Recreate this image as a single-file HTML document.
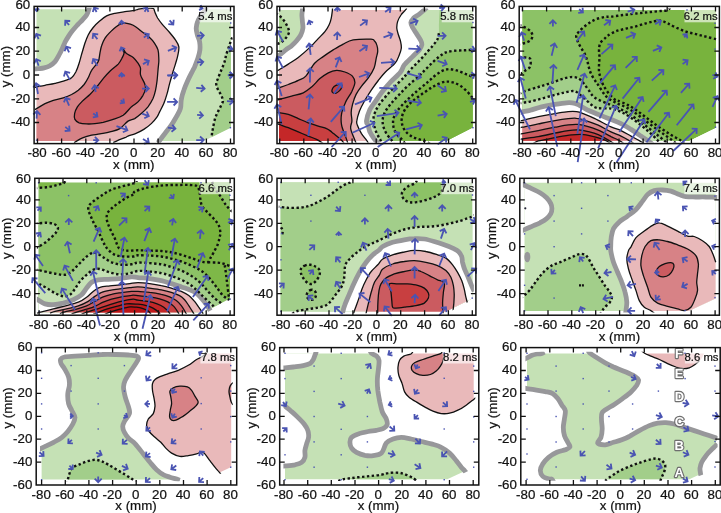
<!DOCTYPE html>
<html><head><meta charset="utf-8"><title>Contour maps</title>
<style>html,body{margin:0;padding:0;background:#fff}svg{display:block}text{font-family:"Liberation Sans", sans-serif;fill:#111;stroke:#111;stroke-width:0.22px}</style>
</head><body>
<svg width="721" height="513" viewBox="0 0 721 513" style="will-change:transform">
<rect width="721" height="513" fill="#fff"/>
<clipPath id="c0"><path d="M36.5 9.3L231.0 9.3L231.0 127.6L203.9 141.1L36.5 141.1Z"/></clipPath>
<g clip-path="url(#c0)">
<path d="M89.6 6.7C89.4 7.3 89.1 8.9 88.6 10.3C88.1 11.7 87.6 13.4 86.6 15.0C85.6 16.6 83.9 18.3 82.4 20.0C80.9 21.6 79.1 23.2 77.4 25.0C75.8 26.8 74.0 28.9 72.4 30.8C70.9 32.7 69.5 34.7 68.3 36.6C67.0 38.6 65.9 40.5 64.9 42.4C64.0 44.4 63.4 46.2 62.4 48.3C61.5 50.3 60.4 52.7 59.1 54.9C57.9 57.1 56.5 59.8 55.0 61.6C53.4 63.4 51.8 64.7 50.0 65.7C48.2 66.8 46.1 67.4 44.1 67.9C42.2 68.4 40.0 68.5 38.3 68.7C36.6 68.9 34.8 69.0 34.1 69.1L0.0 69.0L0.0 -20.0L90.0 -20.0Z" fill="#c5e1b5"/>
<path d="M206.2 6.7C206.0 7.3 205.9 8.9 205.1 10.3C204.2 11.7 202.5 13.1 201.2 15.0C200.0 16.9 198.4 19.4 197.6 21.6C196.7 23.9 196.3 26.1 196.2 28.3C196.2 30.5 196.9 32.7 197.4 35.0C198.0 37.2 199.2 39.1 199.6 41.6C200.0 44.1 200.2 47.2 199.9 49.9C199.6 52.7 198.8 55.4 197.9 58.3C197.0 61.1 195.4 65.0 194.6 67.0C193.7 69.0 194.0 68.1 192.9 70.3C191.8 72.5 189.4 77.0 187.9 80.3C186.4 83.6 184.9 87.1 183.8 90.3C182.6 93.5 181.8 96.4 181.3 99.5C180.7 102.5 181.3 105.7 180.4 108.6C179.6 111.5 177.8 114.2 176.3 116.9C174.7 119.7 173.1 122.6 171.3 125.2C169.5 127.9 167.3 130.4 165.5 132.7C163.6 135.1 161.7 137.7 160.5 139.4C159.2 141.1 158.4 142.2 158.0 142.7L155.0 170.0L300.0 170.0L300.0 -20.0L205.0 -20.0Z" fill="#c5e1b5"/>
<path d="M232.5 37.5C232.3 37.9 231.7 38.7 231.2 39.9C230.7 41.2 230.4 42.4 229.5 44.9C228.7 47.4 227.0 52.1 226.2 54.9C225.4 57.8 225.4 59.4 224.5 62.0C223.7 64.6 222.3 67.5 221.2 70.3C220.1 73.1 218.7 76.4 217.9 78.6C217.0 80.9 216.2 81.8 216.2 83.6C216.2 85.4 217.0 87.5 217.9 89.5C218.7 91.4 220.4 93.3 221.2 95.3C222.0 97.2 223.0 99.2 222.9 101.1C222.7 103.1 221.3 104.9 220.4 106.9C219.4 109.0 218.0 111.4 217.0 113.6C216.1 115.8 215.2 117.8 214.6 120.3C213.9 122.8 213.3 126.5 212.9 128.6C212.5 130.7 212.2 131.4 212.1 132.7C211.9 134.1 211.8 136.2 211.7 136.9L211.0 170.0L300.0 170.0L300.0 37.0Z" fill="#a2ce8a"/>
<path d="M33.3 87.5C33.9 87.4 34.7 87.3 36.6 87.0C38.6 86.6 41.9 85.9 45.0 85.3C48.0 84.7 51.6 84.1 55.0 83.3C58.3 82.5 62.2 81.6 64.9 80.6C67.7 79.7 69.8 79.3 71.6 77.8C73.4 76.4 74.5 74.4 75.8 72.0C77.0 69.6 78.1 66.4 79.1 63.2C80.1 60.1 80.9 56.6 81.9 53.3C82.9 49.9 83.9 46.3 84.9 43.3C86.0 40.2 86.9 37.6 88.2 35.0C89.6 32.3 91.3 29.8 93.2 27.5C95.2 25.1 97.7 22.7 99.9 20.8C102.1 18.9 104.1 17.1 106.6 15.8C109.0 14.6 111.8 14.0 114.9 13.3C117.9 12.6 121.5 12.2 124.9 11.7C128.2 11.2 132.7 10.7 134.8 10.3C137.0 9.9 136.4 9.7 138.0 9.3C139.6 9.0 142.1 8.5 144.6 8.3C147.1 8.2 151.4 8.0 153.0 8.3C154.6 8.7 153.9 9.4 154.3 10.3C154.7 11.2 154.9 12.4 155.5 13.6C156.0 14.9 156.5 16.2 157.6 18.0C158.7 19.7 160.1 21.7 162.1 24.1C164.1 26.5 167.4 29.8 169.6 32.5C171.8 35.1 173.9 37.6 175.4 39.9C177.0 42.3 178.3 44.1 178.8 46.6C179.2 49.1 178.5 52.0 177.9 54.9C177.4 57.8 176.3 61.2 175.4 64.1C174.6 66.9 173.9 68.7 172.9 72.0C172.0 75.2 170.6 80.0 169.6 83.6C168.6 87.2 168.1 90.3 167.1 93.6C166.1 97.0 165.0 100.6 163.8 103.6C162.5 106.7 160.7 109.7 159.6 111.9C158.5 114.2 158.5 115.0 157.1 116.9C155.7 118.9 153.5 121.5 151.3 123.6C149.1 125.7 146.4 127.7 143.8 129.4C141.2 131.1 138.1 132.5 135.5 133.6C132.9 134.7 129.8 135.4 128.0 136.1C126.2 136.8 126.6 137.0 124.9 137.7C123.1 138.5 119.3 139.7 117.4 140.6C115.4 141.4 113.9 142.4 113.2 142.7L110.0 170.0L0.0 170.0L0.0 87.0Z" fill="#e9b9ba"/>
<path d="M33.3 110.6C33.9 110.3 34.7 109.8 36.6 108.6C38.6 107.4 42.2 105.0 45.0 103.6C47.7 102.2 50.2 101.3 53.3 100.3C56.3 99.3 60.2 98.8 63.3 97.8C66.3 96.8 69.1 95.7 71.6 94.5C74.1 93.2 76.2 92.0 78.3 90.3C80.3 88.6 82.4 86.6 84.1 84.5C85.7 82.4 87.0 80.2 88.2 77.8C89.5 75.5 89.9 73.0 91.6 70.3C93.2 67.6 96.8 64.4 98.2 61.6C99.6 58.7 99.3 55.9 99.9 53.3C100.4 50.6 100.7 48.3 101.6 45.8C102.4 43.3 103.4 40.6 104.9 38.3C106.4 35.9 108.8 33.6 110.7 31.6C112.7 29.7 114.7 28.0 116.5 26.6C118.3 25.2 119.9 23.9 121.5 23.3C123.2 22.7 124.6 23.0 126.5 23.3C128.5 23.6 130.4 23.8 133.2 25.3C135.9 26.8 140.2 30.4 143.0 32.5C145.7 34.5 147.7 35.6 149.6 37.5C151.6 39.3 153.2 41.2 154.6 43.3C156.0 45.4 157.3 47.4 158.0 49.9C158.7 52.4 158.7 56.2 158.8 58.3C158.9 60.3 158.9 60.0 158.8 62.0C158.7 64.0 158.2 67.3 158.0 70.3C157.7 73.4 157.5 77.0 157.1 80.3C156.7 83.6 156.2 87.2 155.5 90.3C154.8 93.3 154.2 95.8 153.0 98.6C151.7 101.4 149.9 104.4 148.0 106.9C146.0 109.4 143.5 111.7 141.3 113.6C139.1 115.5 136.9 117.3 134.7 118.6C132.4 119.8 130.5 119.4 128.0 121.1C125.5 122.8 122.9 126.8 119.9 128.6C116.8 130.4 113.2 131.0 109.9 131.9C106.6 132.8 102.9 133.3 99.9 133.9C96.8 134.5 94.3 134.6 91.6 135.2C88.8 135.9 85.6 136.8 83.2 137.7C80.9 138.6 78.9 139.7 77.4 140.6C75.9 141.4 74.6 142.4 74.1 142.7L70.0 170.0L0.0 170.0L0.0 110.0Z" fill="#d78286"/>
<path d="M123.2 49.1C123.6 49.2 124.9 52.2 126.5 53.6C128.2 55.0 131.3 55.8 133.2 57.4C135.1 59.0 136.8 61.4 138.0 63.2C139.2 65.1 140.1 66.3 140.5 68.2C140.9 70.2 139.8 72.3 140.5 74.9C141.2 77.5 143.8 81.3 144.6 83.6C145.5 85.9 145.8 86.7 145.5 88.6C145.2 90.6 144.2 93.1 143.0 95.3C141.7 97.5 139.9 100.0 138.0 101.9C136.0 103.9 133.8 104.7 131.3 106.9C128.9 109.2 126.2 113.2 123.2 115.3C120.2 117.3 116.5 118.3 113.2 119.4C109.9 120.6 106.3 121.6 103.2 122.3C100.2 122.9 97.7 123.3 94.9 123.6C92.1 123.9 89.2 124.1 86.6 123.9C83.9 123.8 81.0 123.5 79.1 122.8C77.1 122.0 75.7 120.9 74.9 119.4C74.2 117.9 74.2 115.7 74.6 113.6C75.0 111.5 76.1 109.0 77.4 106.9C78.7 104.9 80.3 103.2 82.4 101.1C84.5 99.0 87.5 96.8 89.9 94.5C92.3 92.1 94.3 89.6 96.6 87.0C98.8 84.3 101.0 81.3 103.2 78.6C105.4 76.0 107.4 73.6 109.9 71.2C112.4 68.7 116.2 66.2 118.2 64.1C120.2 61.9 120.9 60.1 121.9 58.3C122.8 56.5 123.8 54.8 124.0 53.3C124.2 51.7 122.8 49.0 123.2 49.1Z" fill="#cb5b60"/>
</g>
<clipPath id="d0"><path d="M34.9 7.7L232.6 7.7L232.6 128.0L204.7 142.7L34.9 142.7Z"/></clipPath>
<g clip-path="url(#d0)" fill="none">
<path d="M89.6 6.7C89.4 7.3 89.1 8.9 88.6 10.3C88.1 11.7 87.6 13.4 86.6 15.0C85.6 16.6 83.9 18.3 82.4 20.0C80.9 21.6 79.1 23.2 77.4 25.0C75.8 26.8 74.0 28.9 72.4 30.8C70.9 32.7 69.5 34.7 68.3 36.6C67.0 38.6 65.9 40.5 64.9 42.4C64.0 44.4 63.4 46.2 62.4 48.3C61.5 50.3 60.4 52.7 59.1 54.9C57.9 57.1 56.5 59.8 55.0 61.6C53.4 63.4 51.8 64.7 50.0 65.7C48.2 66.8 46.1 67.4 44.1 67.9C42.2 68.4 40.0 68.5 38.3 68.7C36.6 68.9 34.8 69.0 34.1 69.1" stroke="#97979a" stroke-width="4.8" stroke-linejoin="round"/>
<path d="M206.2 6.7C206.0 7.3 205.9 8.9 205.1 10.3C204.2 11.7 202.5 13.1 201.2 15.0C200.0 16.9 198.4 19.4 197.6 21.6C196.7 23.9 196.3 26.1 196.2 28.3C196.2 30.5 196.9 32.7 197.4 35.0C198.0 37.2 199.2 39.1 199.6 41.6C200.0 44.1 200.2 47.2 199.9 49.9C199.6 52.7 198.8 55.4 197.9 58.3C197.0 61.1 195.4 65.0 194.6 67.0C193.7 69.0 194.0 68.1 192.9 70.3C191.8 72.5 189.4 77.0 187.9 80.3C186.4 83.6 184.9 87.1 183.8 90.3C182.6 93.5 181.8 96.4 181.3 99.5C180.7 102.5 181.3 105.7 180.4 108.6C179.6 111.5 177.8 114.2 176.3 116.9C174.7 119.7 173.1 122.6 171.3 125.2C169.5 127.9 167.3 130.4 165.5 132.7C163.6 135.1 161.7 137.7 160.5 139.4C159.2 141.1 158.4 142.2 158.0 142.7" stroke="#97979a" stroke-width="4.8" stroke-linejoin="round"/>
<path d="M232.5 37.5C232.3 37.9 231.7 38.7 231.2 39.9C230.7 41.2 230.4 42.4 229.5 44.9C228.7 47.4 227.0 52.1 226.2 54.9C225.4 57.8 225.4 59.4 224.5 62.0C223.7 64.6 222.3 67.5 221.2 70.3C220.1 73.1 218.7 76.4 217.9 78.6C217.0 80.9 216.2 81.8 216.2 83.6C216.2 85.4 217.0 87.5 217.9 89.5C218.7 91.4 220.4 93.3 221.2 95.3C222.0 97.2 223.0 99.2 222.9 101.1C222.7 103.1 221.3 104.9 220.4 106.9C219.4 109.0 218.0 111.4 217.0 113.6C216.1 115.8 215.2 117.8 214.6 120.3C213.9 122.8 213.3 126.5 212.9 128.6C212.5 130.7 212.2 131.4 212.1 132.7C211.9 134.1 211.8 136.2 211.7 136.9" stroke="#111" stroke-width="2.4" stroke-dasharray="2.4 2.45"/>
<path d="M33.3 87.5C33.9 87.4 34.7 87.3 36.6 87.0C38.6 86.6 41.9 85.9 45.0 85.3C48.0 84.7 51.6 84.1 55.0 83.3C58.3 82.5 62.2 81.6 64.9 80.6C67.7 79.7 69.8 79.3 71.6 77.8C73.4 76.4 74.5 74.4 75.8 72.0C77.0 69.6 78.1 66.4 79.1 63.2C80.1 60.1 80.9 56.6 81.9 53.3C82.9 49.9 83.9 46.3 84.9 43.3C86.0 40.2 86.9 37.6 88.2 35.0C89.6 32.3 91.3 29.8 93.2 27.5C95.2 25.1 97.7 22.7 99.9 20.8C102.1 18.9 104.1 17.1 106.6 15.8C109.0 14.6 111.8 14.0 114.9 13.3C117.9 12.6 121.5 12.2 124.9 11.7C128.2 11.2 132.7 10.7 134.8 10.3C137.0 9.9 136.4 9.7 138.0 9.3C139.6 9.0 142.1 8.5 144.6 8.3C147.1 8.2 151.4 8.0 153.0 8.3C154.6 8.7 153.9 9.4 154.3 10.3C154.7 11.2 154.9 12.4 155.5 13.6C156.0 14.9 156.5 16.2 157.6 18.0C158.7 19.7 160.1 21.7 162.1 24.1C164.1 26.5 167.4 29.8 169.6 32.5C171.8 35.1 173.9 37.6 175.4 39.9C177.0 42.3 178.3 44.1 178.8 46.6C179.2 49.1 178.5 52.0 177.9 54.9C177.4 57.8 176.3 61.2 175.4 64.1C174.6 66.9 173.9 68.7 172.9 72.0C172.0 75.2 170.6 80.0 169.6 83.6C168.6 87.2 168.1 90.3 167.1 93.6C166.1 97.0 165.0 100.6 163.8 103.6C162.5 106.7 160.7 109.7 159.6 111.9C158.5 114.2 158.5 115.0 157.1 116.9C155.7 118.9 153.5 121.5 151.3 123.6C149.1 125.7 146.4 127.7 143.8 129.4C141.2 131.1 138.1 132.5 135.5 133.6C132.9 134.7 129.8 135.4 128.0 136.1C126.2 136.8 126.6 137.0 124.9 137.7C123.1 138.5 119.3 139.7 117.4 140.6C115.4 141.4 113.9 142.4 113.2 142.7" stroke="#111" stroke-width="1.3"/>
<path d="M33.3 110.6C33.9 110.3 34.7 109.8 36.6 108.6C38.6 107.4 42.2 105.0 45.0 103.6C47.7 102.2 50.2 101.3 53.3 100.3C56.3 99.3 60.2 98.8 63.3 97.8C66.3 96.8 69.1 95.7 71.6 94.5C74.1 93.2 76.2 92.0 78.3 90.3C80.3 88.6 82.4 86.6 84.1 84.5C85.7 82.4 87.0 80.2 88.2 77.8C89.5 75.5 89.9 73.0 91.6 70.3C93.2 67.6 96.8 64.4 98.2 61.6C99.6 58.7 99.3 55.9 99.9 53.3C100.4 50.6 100.7 48.3 101.6 45.8C102.4 43.3 103.4 40.6 104.9 38.3C106.4 35.9 108.8 33.6 110.7 31.6C112.7 29.7 114.7 28.0 116.5 26.6C118.3 25.2 119.9 23.9 121.5 23.3C123.2 22.7 124.6 23.0 126.5 23.3C128.5 23.6 130.4 23.8 133.2 25.3C135.9 26.8 140.2 30.4 143.0 32.5C145.7 34.5 147.7 35.6 149.6 37.5C151.6 39.3 153.2 41.2 154.6 43.3C156.0 45.4 157.3 47.4 158.0 49.9C158.7 52.4 158.7 56.2 158.8 58.3C158.9 60.3 158.9 60.0 158.8 62.0C158.7 64.0 158.2 67.3 158.0 70.3C157.7 73.4 157.5 77.0 157.1 80.3C156.7 83.6 156.2 87.2 155.5 90.3C154.8 93.3 154.2 95.8 153.0 98.6C151.7 101.4 149.9 104.4 148.0 106.9C146.0 109.4 143.5 111.7 141.3 113.6C139.1 115.5 136.9 117.3 134.7 118.6C132.4 119.8 130.5 119.4 128.0 121.1C125.5 122.8 122.9 126.8 119.9 128.6C116.8 130.4 113.2 131.0 109.9 131.9C106.6 132.8 102.9 133.3 99.9 133.9C96.8 134.5 94.3 134.6 91.6 135.2C88.8 135.9 85.6 136.8 83.2 137.7C80.9 138.6 78.9 139.7 77.4 140.6C75.9 141.4 74.6 142.4 74.1 142.7" stroke="#111" stroke-width="1.3"/>
<path d="M123.2 49.1C123.6 49.2 124.9 52.2 126.5 53.6C128.2 55.0 131.3 55.8 133.2 57.4C135.1 59.0 136.8 61.4 138.0 63.2C139.2 65.1 140.1 66.3 140.5 68.2C140.9 70.2 139.8 72.3 140.5 74.9C141.2 77.5 143.8 81.3 144.6 83.6C145.5 85.9 145.8 86.7 145.5 88.6C145.2 90.6 144.2 93.1 143.0 95.3C141.7 97.5 139.9 100.0 138.0 101.9C136.0 103.9 133.8 104.7 131.3 106.9C128.9 109.2 126.2 113.2 123.2 115.3C120.2 117.3 116.5 118.3 113.2 119.4C109.9 120.6 106.3 121.6 103.2 122.3C100.2 122.9 97.7 123.3 94.9 123.6C92.1 123.9 89.2 124.1 86.6 123.9C83.9 123.8 81.0 123.5 79.1 122.8C77.1 122.0 75.7 120.9 74.9 119.4C74.2 117.9 74.2 115.7 74.6 113.6C75.0 111.5 76.1 109.0 77.4 106.9C78.7 104.9 80.3 103.2 82.4 101.1C84.5 99.0 87.5 96.8 89.9 94.5C92.3 92.1 94.3 89.6 96.6 87.0C98.8 84.3 101.0 81.3 103.2 78.6C105.4 76.0 107.4 73.6 109.9 71.2C112.4 68.7 116.2 66.2 118.2 64.1C120.2 61.9 120.9 60.1 121.9 58.3C122.8 56.5 123.8 54.8 124.0 53.3C124.2 51.7 122.8 49.0 123.2 49.1Z" stroke="#111" stroke-width="1.3"/>
</g>
<rect x="199.5" y="6.4" width="34.5" height="15.9" fill="#fff" fill-opacity="0.62"/>
<g stroke="#4a54b2" stroke-width="1.8" fill="none" stroke-linejoin="miter" stroke-miterlimit="6">
<path d="M36.6 8.3L36.6 11.0M39.1 8.5L36.6 11.0L34.2 8.5"/>
<path d="M69.1 25.0L65.3 20.8M65.1 25.7L65.3 20.8L70.2 21.0"/>
<path d="M38.6 39.1L36.3 33.8M34.5 38.4L36.3 33.8L41.0 35.6"/>
<path d="M38.6 65.7L36.3 59.1M34.1 63.6L36.3 59.1L40.8 61.3"/>
<path d="M69.1 52.4L66.3 46.6M64.6 51.3L66.3 46.6L71.0 48.2"/>
<path d="M69.9 79.9L65.3 71.6M63.9 76.4L65.3 71.6L70.1 72.9"/>
<path d="M96.6 12.0L94.1 7.5M92.8 12.0L94.1 7.5L98.6 8.8"/>
<path d="M97.4 39.1L93.2 33.8M92.6 38.8L93.2 33.8L98.2 34.4"/>
<path d="M97.4 65.7L93.2 59.1M92.1 64.0L93.2 59.1L98.1 60.2"/>
<path d="M121.9 25.0L121.5 20.8M118.8 24.1L121.5 20.8L124.8 23.6"/>
<path d="M122.9 51.3L121.2 47.4M119.6 51.4L121.2 47.4L125.2 49.0"/>
<path d="M121.9 77.4L121.5 73.6M118.9 76.7L121.5 73.6L124.7 76.2"/>
<path d="M144.6 11.7L147.1 7.5M142.7 8.6L147.1 7.5L148.3 11.9"/>
<path d="M169.6 20.3L173.3 24.6M173.7 19.7L173.3 24.6L168.3 24.2"/>
<path d="M143.8 37.5L148.8 34.1M143.9 33.1L148.8 34.1L147.8 39.0"/>
<path d="M167.9 50.8L176.3 47.4M171.7 45.5L176.3 47.4L174.3 52.0"/>
<path d="M143.0 64.1L148.8 60.8M144.0 59.4L148.8 60.8L147.5 65.6"/>
<path d="M167.9 75.7L177.1 75.2M173.4 71.9L177.1 75.2L173.8 79.0"/>
<path d="M197.1 35.8L203.7 35.3M199.9 32.0L203.7 35.3L200.5 39.1"/>
<path d="M197.1 62.4L203.2 61.9M199.4 58.7L203.2 61.9L200.0 65.7"/>
<path d="M199.6 7.5L202.4 8.3M200.6 5.1L202.4 8.3L199.1 10.1"/>
<path d="M227.9 48.3L232.5 49.1M229.9 45.4L232.5 49.1L228.8 51.7"/>
<path d="M227.9 75.2L232.9 75.2M229.6 71.9L232.9 75.2L229.6 78.5"/>
<rect x="230.0" y="22.3" width="1.4" height="1.4" fill="#4a54b2" stroke="none"/>
<path d="M38.0 94.0L36.1 83.3M33.3 87.4L36.1 83.3L40.2 86.2"/>
<path d="M36.6 118.6L37.0 111.1M33.3 114.5L37.0 111.1L40.4 114.8"/>
<rect x="35.9" y="139.5" width="1.4" height="1.4" fill="#4a54b2" stroke="none"/>
<path d="M69.1 105.6L65.8 97.8M63.9 102.4L65.8 97.8L70.4 99.7"/>
<path d="M65.3 126.9L69.6 130.6M69.2 125.6L69.6 130.6L64.7 131.0"/>
<path d="M95.7 92.0L94.6 85.3M91.7 89.4L94.6 85.3L98.7 88.2"/>
<path d="M93.2 113.6L97.4 116.6M96.6 111.9L97.4 116.6L92.8 117.4"/>
<path d="M93.2 140.2L98.2 140.2M94.9 136.9L98.2 140.2L94.9 143.5"/>
<path d="M121.9 77.0L121.5 73.3M118.9 76.4L121.5 73.3L124.6 75.9"/>
<path d="M120.7 100.3L124.0 102.8M123.4 98.5L124.0 102.8L119.8 103.4"/>
<path d="M116.5 126.1L127.4 130.2M125.3 125.7L127.4 130.2L122.8 132.3"/>
<path d="M167.1 75.3L177.1 75.3M173.6 71.8L177.1 75.3L173.6 78.9"/>
<path d="M142.1 88.6L148.8 88.6M145.3 85.1L148.8 88.6L145.3 92.2"/>
<path d="M167.1 101.9L177.1 101.9M173.6 98.4L177.1 101.9L173.6 105.5"/>
<path d="M142.1 113.6L148.8 116.1M146.7 111.5L148.8 116.1L144.3 118.2"/>
<path d="M167.9 127.7L175.4 128.6M172.3 124.7L175.4 128.6L171.5 131.7"/>
<path d="M143.0 138.9L148.8 142.7M147.8 137.8L148.8 142.7L143.9 143.7"/>
<path d="M196.2 87.8L204.6 88.6M201.4 84.8L204.6 88.6L200.7 91.8"/>
<path d="M197.1 114.9L202.9 115.3M199.6 111.5L202.9 115.3L199.2 118.6"/>
<path d="M196.2 140.2L203.7 139.9M200.0 136.5L203.7 139.9L200.4 143.6"/>
<path d="M227.9 75.3L233.2 75.3M229.8 71.9L233.2 75.3L229.8 78.7"/>
<path d="M227.0 101.1L233.2 101.6M230.0 97.8L233.2 101.6L229.4 104.9"/>
<rect x="229.7" y="127.0" width="1.4" height="1.4" fill="#4a54b2" stroke="none"/>
</g>
<rect x="34.1" y="6.4" width="199.9" height="137.2" fill="none" stroke="#111" stroke-width="1.5"/>
<path d="M37.5 143.6v-5M37.5 6.4v5M61.6 143.6v-5M61.6 6.4v5M85.8 143.6v-5M85.8 6.4v5M109.9 143.6v-5M109.9 6.4v5M134.0 143.6v-5M134.0 6.4v5M158.1 143.6v-5M158.1 6.4v5M182.2 143.6v-5M182.2 6.4v5M206.4 143.6v-5M206.4 6.4v5M230.5 143.6v-5M230.5 6.4v5M34.1 27.5h5M234.0 27.5h-5M34.1 51.2h5M234.0 51.2h-5M34.1 75.0h5M234.0 75.0h-5M34.1 98.8h5M234.0 98.8h-5M34.1 122.5h5M234.0 122.5h-5" stroke="#111" stroke-width="1.3" fill="none"/>
<text x="37.1" y="157.4" font-size="13.3" text-anchor="middle">-80</text>
<text x="61.2" y="157.4" font-size="13.3" text-anchor="middle">-60</text>
<text x="85.4" y="157.4" font-size="13.3" text-anchor="middle">-40</text>
<text x="109.5" y="157.4" font-size="13.3" text-anchor="middle">-20</text>
<text x="133.6" y="157.4" font-size="13.3" text-anchor="middle">0</text>
<text x="157.7" y="157.4" font-size="13.3" text-anchor="middle">20</text>
<text x="181.8" y="157.4" font-size="13.3" text-anchor="middle">40</text>
<text x="206.0" y="157.4" font-size="13.3" text-anchor="middle">60</text>
<text x="230.1" y="157.4" font-size="13.3" text-anchor="middle">80</text>
<text x="30.2" y="31.4" font-size="13.3" text-anchor="end">40</text>
<text x="30.2" y="55.1" font-size="13.3" text-anchor="end">20</text>
<text x="30.2" y="78.9" font-size="13.3" text-anchor="end">0</text>
<text x="30.2" y="102.7" font-size="13.3" text-anchor="end">-20</text>
<text x="30.2" y="126.4" font-size="13.3" text-anchor="end">-40</text>
<text x="30.2" y="9.3" font-size="13.3" text-anchor="end">60</text>
<text x="133.8" y="168.9" font-size="13.3" text-anchor="middle">x (mm)</text>
<text transform="translate(9.9 66.6) rotate(-90)" font-size="13.3" text-anchor="middle">y (mm)</text>
<text x="232.3" y="19.8" font-size="10.8" text-anchor="end" textLength="34.0" lengthAdjust="spacingAndGlyphs">5.4 ms</text>
<clipPath id="c1"><path d="M279.0 10.0L472.6 10.0L472.6 127.6L446.1 141.0L279.0 141.0Z"/></clipPath>
<g clip-path="url(#c1)">
<path d="M302.9 5.8C302.8 6.5 302.6 8.5 302.4 10.0C302.3 11.5 301.9 13.0 301.9 15.0C301.9 16.9 302.3 19.4 302.4 21.6C302.6 23.9 303.2 26.1 302.9 28.3C302.6 30.5 301.8 32.9 300.8 35.0C299.7 37.0 298.1 39.0 296.6 40.8C295.1 42.6 293.4 44.2 291.6 45.8C289.8 47.3 287.6 48.5 285.8 49.9C284.0 51.3 282.4 52.9 280.8 54.1C279.1 55.3 276.6 56.5 275.8 56.9L260.0 57.0L260.0 -20.0L303.0 -20.0Z" fill="#c5e1b5"/>
<path d="M426.8 7.5C426.3 8.0 425.2 9.2 423.9 10.3C422.7 11.4 421.0 12.8 419.3 14.1C417.5 15.5 414.8 16.9 413.4 18.3C412.1 19.7 411.1 20.9 410.9 22.5C410.8 24.0 411.6 25.5 412.6 27.5C413.6 29.4 415.4 31.9 416.8 34.1C418.2 36.3 420.1 39.0 420.9 40.8C421.8 42.6 422.0 43.4 421.8 44.9C421.5 46.5 420.8 48.0 419.3 49.9C417.7 51.9 415.1 54.1 412.6 56.6C410.1 59.1 406.3 62.3 404.3 64.9C402.3 67.5 402.7 69.4 400.4 72.2C398.2 75.0 393.7 78.7 390.7 81.9C387.7 85.1 385.0 88.4 382.4 91.6C379.9 94.8 377.6 98.3 375.5 101.3C373.4 104.3 371.4 106.4 369.9 109.6C368.4 112.9 366.8 118.3 366.5 120.9C366.2 123.5 367.6 123.4 368.2 125.2C368.8 127.1 368.9 129.7 369.9 131.9C370.8 134.1 372.6 136.6 374.0 138.6C375.4 140.5 377.5 142.7 378.2 143.6L380.0 170.0L540.0 170.0L540.0 -20.0L427.0 -20.0Z" fill="#c5e1b5"/>
<path d="M275.8 13.3C276.4 13.7 278.2 14.6 279.6 15.8C281.0 17.1 282.8 19.0 284.1 20.8C285.4 22.6 286.6 24.8 287.4 26.6C288.3 28.4 289.1 30.1 289.1 31.6C289.1 33.2 288.3 34.4 287.4 35.8C286.6 37.2 285.2 38.8 284.1 39.9C283.0 41.1 282.2 41.7 280.8 42.4C279.4 43.2 276.6 44.2 275.8 44.6L260.0 45.0L260.0 13.0Z" fill="#a2ce8a"/>
<path d="M439.9 6.7C439.9 7.3 439.7 8.7 439.6 10.3C439.5 12.0 439.4 14.2 439.2 16.6C439.1 19.1 439.0 22.2 438.9 25.0C438.9 27.7 439.1 30.9 438.9 33.3C438.7 35.6 438.5 37.2 437.6 39.1C436.7 41.1 435.1 42.9 433.4 44.9C431.8 47.0 429.7 49.2 427.6 51.6C425.5 54.0 423.3 56.6 420.9 59.1C418.6 61.6 415.9 63.9 413.4 66.6C410.9 69.2 407.6 73.0 406.0 74.9C404.3 76.8 405.4 75.8 403.5 77.8C401.5 79.8 397.2 83.9 394.3 87.0C391.4 90.0 388.5 93.2 386.0 96.1C383.5 99.0 381.1 101.8 379.3 104.4C377.5 107.1 376.1 109.6 375.2 111.9C374.2 114.3 373.6 116.2 373.5 118.6C373.4 120.9 373.8 123.6 374.3 126.1C374.9 128.6 375.9 131.4 376.8 133.6C377.8 135.8 379.3 137.7 380.2 139.4C381.0 141.1 381.5 142.9 381.8 143.6L382.0 170.0L540.0 170.0L540.0 -20.0L440.0 -20.0Z" fill="#a2ce8a"/>
<path d="M275.8 71.6C276.5 71.2 277.9 70.5 279.9 69.2C282.0 68.0 285.2 66.1 288.3 64.1C291.3 62.1 294.6 60.2 298.3 57.4C301.9 54.6 306.6 50.6 309.9 47.4C313.2 44.3 315.7 41.3 318.2 38.6C320.7 36.0 323.1 33.9 324.9 31.6C326.7 29.3 328.0 27.2 329.0 25.0C330.1 22.7 330.7 20.8 331.2 18.3C331.8 15.9 332.1 12.5 332.4 10.3C332.6 8.1 332.4 8.4 332.7 5.0C333.0 1.6 321.8 -7.5 334.0 -10.0C346.2 -12.5 393.9 -12.8 406.0 -10.0C418.1 -7.2 406.9 3.3 406.8 6.7C406.6 10.0 406.1 8.9 405.1 10.3C404.2 11.7 402.2 13.1 401.0 15.0C399.7 16.9 398.3 19.4 397.6 21.6C396.9 23.9 396.7 26.1 396.8 28.3C396.9 30.5 397.8 32.7 398.5 35.0C399.1 37.2 400.2 39.4 400.6 41.6C401.1 43.8 401.5 46.0 401.3 48.3C401.1 50.5 400.3 52.4 399.3 54.9C398.3 57.4 397.5 60.4 395.1 63.2C392.8 66.1 388.0 69.3 385.2 72.2C382.4 75.1 380.6 77.5 378.3 80.5C375.9 83.5 373.6 86.8 371.3 90.2C369.0 93.7 366.3 97.9 364.4 101.3C362.4 104.8 360.8 107.8 359.5 111.0C358.3 114.3 357.1 118.5 356.8 120.9C356.4 123.2 356.6 123.1 357.4 125.2C358.2 127.4 360.0 131.1 361.5 133.6C363.1 136.1 365.3 138.4 366.5 140.2C367.8 142.0 368.6 143.7 369.0 144.4L369.0 170.0L260.0 170.0L260.0 72.0Z" fill="#e9b9ba"/>
<path d="M475.9 49.9C475.3 49.9 474.5 49.9 472.5 49.9C470.6 50.0 467.3 50.1 464.2 50.3C461.2 50.4 457.3 50.4 454.2 50.8C451.2 51.1 448.4 51.5 445.9 52.4C443.4 53.4 441.5 54.9 439.2 56.6C437.0 58.3 434.8 60.3 432.6 62.4C430.4 64.5 428.1 66.9 425.9 69.1C423.7 71.3 422.2 73.0 419.3 75.7C416.4 78.4 411.8 82.2 408.5 85.3C405.1 88.4 402.2 91.4 399.3 94.5C396.4 97.5 393.3 100.7 391.0 103.6C388.6 106.5 386.5 109.3 385.1 111.9C383.8 114.6 382.9 116.9 382.7 119.4C382.4 121.9 382.8 124.4 383.5 126.9C384.2 129.4 385.6 132.3 386.8 134.4C388.1 136.5 389.9 137.9 391.0 139.4C392.1 140.9 393.1 142.9 393.5 143.6L394.0 170.0L540.0 170.0L540.0 50.0Z" fill="#8cc266"/>
<path d="M275.0 89.5C275.7 89.2 276.9 88.6 279.2 87.8C281.4 87.0 285.1 85.7 288.3 84.5C291.5 83.2 295.4 81.7 298.3 80.3C301.2 78.9 303.1 79.0 305.8 76.1C308.5 73.3 311.7 66.5 314.6 63.2C317.5 60.0 320.1 58.8 323.2 56.6C326.3 54.4 329.9 52.0 333.2 49.9C336.5 47.9 339.9 45.8 343.2 44.1C346.5 42.4 348.5 40.8 353.2 39.9C357.8 39.1 367.5 39.0 371.0 39.1C374.5 39.3 373.4 39.8 374.3 40.8C375.3 41.7 376.3 43.1 376.8 44.9C377.4 46.7 377.8 49.4 377.7 51.6C377.5 53.8 376.8 55.6 376.2 58.3C375.6 61.1 375.4 64.8 374.1 68.0C372.8 71.3 370.6 74.7 368.5 77.7C366.5 80.7 363.7 83.3 361.6 86.1C359.5 88.8 357.6 91.4 356.1 94.4C354.6 97.4 353.4 101.1 352.6 104.1C351.8 107.1 351.3 109.6 351.2 112.4C351.1 115.2 352.0 118.2 351.9 120.9C351.8 123.6 350.2 125.4 350.7 128.6C351.2 131.8 353.9 137.6 354.9 140.2C355.9 142.9 356.3 143.7 356.6 144.4L357.0 170.0L260.0 170.0L260.0 90.0Z" fill="#d78286"/>
<path d="M475.9 78.2C475.3 78.0 474.2 77.6 472.5 76.9C470.9 76.2 468.4 75.1 465.9 74.1C463.4 73.0 460.3 71.6 457.6 70.7C454.8 69.9 451.7 69.1 449.2 69.1C446.7 69.1 444.8 69.8 442.6 70.7C440.4 71.7 438.0 73.4 435.9 74.9C433.8 76.4 431.8 78.4 430.1 79.9C428.4 81.3 428.3 81.6 425.9 83.6C423.6 85.6 419.3 89.0 415.9 92.0C412.6 94.9 409.0 98.1 406.0 101.1C402.9 104.2 399.7 107.4 397.6 110.3C395.6 113.2 394.2 115.8 393.5 118.6C392.8 121.4 392.9 124.3 393.5 126.9C394.0 129.5 395.4 132.3 396.8 134.4C398.2 136.5 400.4 137.9 401.8 139.4C403.2 140.9 404.6 142.9 405.1 143.6L405.0 170.0L540.0 170.0L540.0 78.0Z" fill="#7eb848"/>
<path d="M275.0 100.6C275.7 100.4 276.4 100.2 279.2 99.5C281.9 98.7 287.6 97.2 291.6 96.1C295.7 95.0 300.0 94.3 303.3 92.8C306.6 91.3 308.8 89.3 311.6 87.0C314.4 84.6 317.2 81.0 319.9 78.6C322.7 76.3 325.5 74.2 328.3 72.8C331.0 71.4 333.8 70.5 336.6 70.3C339.4 70.2 342.3 71.0 344.9 72.0C347.5 73.0 350.7 74.3 352.4 76.1C354.1 78.0 355.0 80.2 354.9 82.8C354.7 85.4 353.1 88.8 351.6 92.0C350.0 95.2 347.4 98.3 345.7 101.9C344.1 105.6 342.3 109.7 341.6 113.6C340.9 117.5 340.9 121.4 341.6 125.2C342.3 129.1 344.6 133.7 345.7 136.9C346.8 140.1 347.8 143.1 348.2 144.4L348.0 170.0L260.0 170.0L260.0 100.0Z" fill="#cb5b60"/>
<path d="M475.9 101.1C475.3 100.6 473.9 99.3 472.5 97.8C471.1 96.3 469.5 93.9 467.5 92.0C465.6 90.0 463.1 87.7 460.9 86.1C458.7 84.6 456.4 83.6 454.2 82.8C452.0 82.1 449.8 81.6 447.6 81.6C445.3 81.6 443.4 81.9 440.9 82.8C438.4 83.7 435.6 85.2 432.6 87.0C429.5 88.8 425.9 91.3 422.6 93.6C419.3 96.0 415.5 98.5 412.6 101.1C409.7 103.7 406.9 106.7 405.1 109.4C403.3 112.2 402.2 115.0 401.8 117.8C401.4 120.5 401.8 123.6 402.6 126.1C403.5 128.6 405.1 130.9 406.8 132.7C408.5 134.5 410.5 135.8 412.6 136.9C414.7 138.0 417.0 138.6 419.3 139.4C421.5 140.2 424.0 140.7 425.9 141.6C427.9 142.4 430.1 143.9 430.9 144.4L431.0 170.0L540.0 170.0L540.0 101.0Z" fill="#78b33d"/>
<path d="M275.0 112.3C275.7 112.3 276.9 112.4 279.2 112.8C281.4 113.1 285.1 113.5 288.3 114.4C291.5 115.4 295.0 117.2 298.3 118.6C301.6 120.0 305.0 121.5 308.3 122.8C311.6 124.0 315.2 125.1 318.3 126.1C321.3 127.1 324.4 127.6 326.6 128.6C328.8 129.5 329.9 130.7 331.6 131.9C333.2 133.2 334.9 134.7 336.6 136.1C338.2 137.5 340.2 138.8 341.6 140.2C343.0 141.6 344.3 143.7 344.9 144.4L345.0 170.0L260.0 170.0L260.0 112.0Z" fill="#c83f40"/>
<path d="M331.9 90.3C332.1 89.3 333.0 87.6 334.1 86.6C335.1 85.7 337.0 84.8 338.2 84.5C339.5 84.1 341.0 84.1 341.6 84.5C342.2 84.9 342.2 85.9 341.9 87.0C341.6 88.0 340.6 89.6 339.6 90.6C338.5 91.7 336.9 92.9 335.7 93.3C334.6 93.7 333.6 93.3 332.9 92.8C332.3 92.3 331.7 91.3 331.9 90.3Z" fill="#c83f40"/>
<path d="M275.0 123.3C275.7 123.4 276.9 123.7 279.2 124.4C281.4 125.2 285.1 126.5 288.3 127.7C291.5 129.0 295.0 130.5 298.3 131.9C301.6 133.3 305.2 134.8 308.3 136.1C311.3 137.3 314.1 138.1 316.6 139.4C319.1 140.6 322.2 142.9 323.3 143.6L323.0 170.0L260.0 170.0L260.0 123.0Z" fill="#c42728"/>
</g>
<clipPath id="d1"><path d="M277.4 8.4L474.2 8.4L474.2 128.0L446.9 142.6L277.4 142.6Z"/></clipPath>
<g clip-path="url(#d1)" fill="none">
<path d="M302.9 5.8C302.8 6.5 302.6 8.5 302.4 10.0C302.3 11.5 301.9 13.0 301.9 15.0C301.9 16.9 302.3 19.4 302.4 21.6C302.6 23.9 303.2 26.1 302.9 28.3C302.6 30.5 301.8 32.9 300.8 35.0C299.7 37.0 298.1 39.0 296.6 40.8C295.1 42.6 293.4 44.2 291.6 45.8C289.8 47.3 287.6 48.5 285.8 49.9C284.0 51.3 282.4 52.9 280.8 54.1C279.1 55.3 276.6 56.5 275.8 56.9" stroke="#97979a" stroke-width="4.8" stroke-linejoin="round"/>
<path d="M426.8 7.5C426.3 8.0 425.2 9.2 423.9 10.3C422.7 11.4 421.0 12.8 419.3 14.1C417.5 15.5 414.8 16.9 413.4 18.3C412.1 19.7 411.1 20.9 410.9 22.5C410.8 24.0 411.6 25.5 412.6 27.5C413.6 29.4 415.4 31.9 416.8 34.1C418.2 36.3 420.1 39.0 420.9 40.8C421.8 42.6 422.0 43.4 421.8 44.9C421.5 46.5 420.8 48.0 419.3 49.9C417.7 51.9 415.1 54.1 412.6 56.6C410.1 59.1 406.3 62.3 404.3 64.9C402.3 67.5 402.7 69.4 400.4 72.2C398.2 75.0 393.7 78.7 390.7 81.9C387.7 85.1 385.0 88.4 382.4 91.6C379.9 94.8 377.6 98.3 375.5 101.3C373.4 104.3 371.4 106.4 369.9 109.6C368.4 112.9 366.8 118.3 366.5 120.9C366.2 123.5 367.6 123.4 368.2 125.2C368.8 127.1 368.9 129.7 369.9 131.9C370.8 134.1 372.6 136.6 374.0 138.6C375.4 140.5 377.5 142.7 378.2 143.6" stroke="#97979a" stroke-width="4.8" stroke-linejoin="round"/>
<path d="M275.8 13.3C276.4 13.7 278.2 14.6 279.6 15.8C281.0 17.1 282.8 19.0 284.1 20.8C285.4 22.6 286.6 24.8 287.4 26.6C288.3 28.4 289.1 30.1 289.1 31.6C289.1 33.2 288.3 34.4 287.4 35.8C286.6 37.2 285.2 38.8 284.1 39.9C283.0 41.1 282.2 41.7 280.8 42.4C279.4 43.2 276.6 44.2 275.8 44.6" stroke="#111" stroke-width="2.4" stroke-dasharray="2.4 2.45"/>
<path d="M438.9 33.3C438.7 34.3 438.5 37.2 437.6 39.1C436.7 41.1 435.1 42.9 433.4 44.9C431.8 47.0 429.7 49.2 427.6 51.6C425.5 54.0 423.3 56.6 420.9 59.1C418.6 61.6 415.9 63.9 413.4 66.6C410.9 69.2 407.6 73.0 406.0 74.9C404.3 76.8 405.4 75.8 403.5 77.8C401.5 79.8 397.2 83.9 394.3 87.0C391.4 90.0 388.5 93.2 386.0 96.1C383.5 99.0 381.1 101.8 379.3 104.4C377.5 107.1 376.1 109.6 375.2 111.9C374.2 114.3 373.6 116.2 373.5 118.6C373.4 120.9 373.8 123.6 374.3 126.1C374.9 128.6 375.9 131.4 376.8 133.6C377.8 135.8 379.3 137.7 380.2 139.4C381.0 141.1 381.5 142.9 381.8 143.6" stroke="#111" stroke-width="2.4" stroke-dasharray="2.4 2.45"/>
<path d="M475.9 49.9C475.3 49.9 474.5 49.9 472.5 49.9C470.6 50.0 467.3 50.1 464.2 50.3C461.2 50.4 457.3 50.4 454.2 50.8C451.2 51.1 448.4 51.5 445.9 52.4C443.4 53.4 441.5 54.9 439.2 56.6C437.0 58.3 434.8 60.3 432.6 62.4C430.4 64.5 428.1 66.9 425.9 69.1C423.7 71.3 422.2 73.0 419.3 75.7C416.4 78.4 411.8 82.2 408.5 85.3C405.1 88.4 402.2 91.4 399.3 94.5C396.4 97.5 393.3 100.7 391.0 103.6C388.6 106.5 386.5 109.3 385.1 111.9C383.8 114.6 382.9 116.9 382.7 119.4C382.4 121.9 382.8 124.4 383.5 126.9C384.2 129.4 385.6 132.3 386.8 134.4C388.1 136.5 389.9 137.9 391.0 139.4C392.1 140.9 393.1 142.9 393.5 143.6" stroke="#111" stroke-width="2.4" stroke-dasharray="2.4 2.45"/>
<path d="M475.9 78.2C475.3 78.0 474.2 77.6 472.5 76.9C470.9 76.2 468.4 75.1 465.9 74.1C463.4 73.0 460.3 71.6 457.6 70.7C454.8 69.9 451.7 69.1 449.2 69.1C446.7 69.1 444.8 69.8 442.6 70.7C440.4 71.7 438.0 73.4 435.9 74.9C433.8 76.4 431.8 78.4 430.1 79.9C428.4 81.3 428.3 81.6 425.9 83.6C423.6 85.6 419.3 89.0 415.9 92.0C412.6 94.9 409.0 98.1 406.0 101.1C402.9 104.2 399.7 107.4 397.6 110.3C395.6 113.2 394.2 115.8 393.5 118.6C392.8 121.4 392.9 124.3 393.5 126.9C394.0 129.5 395.4 132.3 396.8 134.4C398.2 136.5 400.4 137.9 401.8 139.4C403.2 140.9 404.6 142.9 405.1 143.6" stroke="#111" stroke-width="2.4" stroke-dasharray="2.4 2.45"/>
<path d="M475.9 101.1C475.3 100.6 473.9 99.3 472.5 97.8C471.1 96.3 469.5 93.9 467.5 92.0C465.6 90.0 463.1 87.7 460.9 86.1C458.7 84.6 456.4 83.6 454.2 82.8C452.0 82.1 449.8 81.6 447.6 81.6C445.3 81.6 443.4 81.9 440.9 82.8C438.4 83.7 435.6 85.2 432.6 87.0C429.5 88.8 425.9 91.3 422.6 93.6C419.3 96.0 415.5 98.5 412.6 101.1C409.7 103.7 406.9 106.7 405.1 109.4C403.3 112.2 402.2 115.0 401.8 117.8C401.4 120.5 401.8 123.6 402.6 126.1C403.5 128.6 405.1 130.9 406.8 132.7C408.5 134.5 410.5 135.8 412.6 136.9C414.7 138.0 417.0 138.6 419.3 139.4C421.5 140.2 424.0 140.7 425.9 141.6C427.9 142.4 430.1 143.9 430.9 144.4" stroke="#111" stroke-width="2.4" stroke-dasharray="2.4 2.45"/>
<path d="M275.8 71.6C276.5 71.2 277.9 70.5 279.9 69.2C282.0 68.0 285.2 66.1 288.3 64.1C291.3 62.1 294.6 60.2 298.3 57.4C301.9 54.6 306.6 50.6 309.9 47.4C313.2 44.3 315.7 41.3 318.2 38.6C320.7 36.0 323.1 33.9 324.9 31.6C326.7 29.3 328.0 27.2 329.0 25.0C330.1 22.7 330.7 20.8 331.2 18.3C331.8 15.9 332.1 12.5 332.4 10.3C332.6 8.1 332.4 8.4 332.7 5.0C333.0 1.6 321.8 -7.5 334.0 -10.0C346.2 -12.5 393.9 -12.8 406.0 -10.0C418.1 -7.2 406.9 3.3 406.8 6.7C406.6 10.0 406.1 8.9 405.1 10.3C404.2 11.7 402.2 13.1 401.0 15.0C399.7 16.9 398.3 19.4 397.6 21.6C396.9 23.9 396.7 26.1 396.8 28.3C396.9 30.5 397.8 32.7 398.5 35.0C399.1 37.2 400.2 39.4 400.6 41.6C401.1 43.8 401.5 46.0 401.3 48.3C401.1 50.5 400.3 52.4 399.3 54.9C398.3 57.4 397.5 60.4 395.1 63.2C392.8 66.1 388.0 69.3 385.2 72.2C382.4 75.1 380.6 77.5 378.3 80.5C375.9 83.5 373.6 86.8 371.3 90.2C369.0 93.7 366.3 97.9 364.4 101.3C362.4 104.8 360.8 107.8 359.5 111.0C358.3 114.3 357.1 118.5 356.8 120.9C356.4 123.2 356.6 123.1 357.4 125.2C358.2 127.4 360.0 131.1 361.5 133.6C363.1 136.1 365.3 138.4 366.5 140.2C367.8 142.0 368.6 143.7 369.0 144.4" stroke="#111" stroke-width="1.3"/>
<path d="M275.0 89.5C275.7 89.2 276.9 88.6 279.2 87.8C281.4 87.0 285.1 85.7 288.3 84.5C291.5 83.2 295.4 81.7 298.3 80.3C301.2 78.9 303.1 79.0 305.8 76.1C308.5 73.3 311.7 66.5 314.6 63.2C317.5 60.0 320.1 58.8 323.2 56.6C326.3 54.4 329.9 52.0 333.2 49.9C336.5 47.9 339.9 45.8 343.2 44.1C346.5 42.4 348.5 40.8 353.2 39.9C357.8 39.1 367.5 39.0 371.0 39.1C374.5 39.3 373.4 39.8 374.3 40.8C375.3 41.7 376.3 43.1 376.8 44.9C377.4 46.7 377.8 49.4 377.7 51.6C377.5 53.8 376.8 55.6 376.2 58.3C375.6 61.1 375.4 64.8 374.1 68.0C372.8 71.3 370.6 74.7 368.5 77.7C366.5 80.7 363.7 83.3 361.6 86.1C359.5 88.8 357.6 91.4 356.1 94.4C354.6 97.4 353.4 101.1 352.6 104.1C351.8 107.1 351.3 109.6 351.2 112.4C351.1 115.2 352.0 118.2 351.9 120.9C351.8 123.6 350.2 125.4 350.7 128.6C351.2 131.8 353.9 137.6 354.9 140.2C355.9 142.9 356.3 143.7 356.6 144.4" stroke="#111" stroke-width="1.3"/>
<path d="M275.0 100.6C275.7 100.4 276.4 100.2 279.2 99.5C281.9 98.7 287.6 97.2 291.6 96.1C295.7 95.0 300.0 94.3 303.3 92.8C306.6 91.3 308.8 89.3 311.6 87.0C314.4 84.6 317.2 81.0 319.9 78.6C322.7 76.3 325.5 74.2 328.3 72.8C331.0 71.4 333.8 70.5 336.6 70.3C339.4 70.2 342.3 71.0 344.9 72.0C347.5 73.0 350.7 74.3 352.4 76.1C354.1 78.0 355.0 80.2 354.9 82.8C354.7 85.4 353.1 88.8 351.6 92.0C350.0 95.2 347.4 98.3 345.7 101.9C344.1 105.6 342.3 109.7 341.6 113.6C340.9 117.5 340.9 121.4 341.6 125.2C342.3 129.1 344.6 133.7 345.7 136.9C346.8 140.1 347.8 143.1 348.2 144.4" stroke="#111" stroke-width="1.3"/>
<path d="M275.0 112.3C275.7 112.3 276.9 112.4 279.2 112.8C281.4 113.1 285.1 113.5 288.3 114.4C291.5 115.4 295.0 117.2 298.3 118.6C301.6 120.0 305.0 121.5 308.3 122.8C311.6 124.0 315.2 125.1 318.3 126.1C321.3 127.1 324.4 127.6 326.6 128.6C328.8 129.5 329.9 130.7 331.6 131.9C333.2 133.2 334.9 134.7 336.6 136.1C338.2 137.5 340.2 138.8 341.6 140.2C343.0 141.6 344.3 143.7 344.9 144.4" stroke="#111" stroke-width="1.3"/>
<path d="M275.0 123.3C275.7 123.4 276.9 123.7 279.2 124.4C281.4 125.2 285.1 126.5 288.3 127.7C291.5 129.0 295.0 130.5 298.3 131.9C301.6 133.3 305.2 134.8 308.3 136.1C311.3 137.3 314.1 138.1 316.6 139.4C319.1 140.6 322.2 142.9 323.3 143.6" stroke="#111" stroke-width="1.3"/>
<path d="M331.9 90.3C332.1 89.3 333.0 87.6 334.1 86.6C335.1 85.7 337.0 84.8 338.2 84.5C339.5 84.1 341.0 84.1 341.6 84.5C342.2 84.9 342.2 85.9 341.9 87.0C341.6 88.0 340.6 89.6 339.6 90.6C338.5 91.7 336.9 92.9 335.7 93.3C334.6 93.7 333.6 93.3 332.9 92.8C332.3 92.3 331.7 91.3 331.9 90.3Z" stroke="#111" stroke-width="1.3"/>
</g>
<rect x="441.7" y="6.4" width="34.2" height="15.9" fill="#fff" fill-opacity="0.62"/>
<g stroke="#4a54b2" stroke-width="1.8" fill="none" stroke-linejoin="miter" stroke-miterlimit="6">
<rect x="278.8" y="9.0" width="1.4" height="1.4" fill="#4a54b2" stroke="none"/>
<path d="M283.0 41.6L277.0 30.8M275.6 35.6L277.0 30.8L281.8 32.2"/>
<path d="M283.0 68.2L277.0 56.6M275.5 61.4L277.0 56.6L281.8 58.1"/>
<path d="M281.7 96.1L277.0 80.6M274.6 85.0L277.0 80.6L281.4 83.0"/>
<path d="M281.7 124.4L277.0 104.4M274.4 108.7L277.0 104.4L281.3 107.0"/>
<rect x="278.8" y="139.6" width="1.4" height="1.4" fill="#4a54b2" stroke="none"/>
<path d="M310.7 25.0L309.1 20.8M307.3 24.8L309.1 20.8L313.1 22.6"/>
<path d="M310.7 54.9L309.1 43.6M306.1 47.6L309.1 43.6L313.1 46.6"/>
<path d="M309.9 82.4L310.2 68.2M306.6 71.7L310.2 68.2L313.7 71.8"/>
<path d="M308.6 109.4L310.0 94.5M306.1 97.7L310.0 94.5L313.2 98.4"/>
<path d="M308.3 136.0L310.8 118.6M306.8 121.6L310.8 118.6L313.8 122.6"/>
<path d="M337.4 11.7L337.4 7.5M334.4 10.5L337.4 7.5L340.4 10.5"/>
<path d="M337.0 40.0L337.4 32.5M333.7 35.8L337.4 32.5L340.7 36.2"/>
<path d="M335.7 67.4L339.5 57.4M334.9 59.4L339.5 57.4L341.5 62.0"/>
<path d="M334.0 93.6L341.6 83.3M336.7 84.0L341.6 83.3L342.3 88.2"/>
<path d="M330.8 121.9L344.0 106.6M339.0 107.0L344.0 106.6L344.4 111.6"/>
<path d="M331.6 147.0L345.7 131.9M340.7 132.1L345.7 131.9L345.9 136.9"/>
<path d="M360.1 25.6L367.0 20.5M362.1 19.8L367.0 20.5L366.3 25.4"/>
<path d="M359.4 51.2L367.0 46.0M362.1 45.1L367.0 46.0L366.1 50.9"/>
<path d="M359.0 77.0L369.0 73.3M364.5 71.2L369.0 73.3L366.9 77.8"/>
<path d="M354.9 104.4L371.5 97.8M366.9 95.8L371.5 97.8L369.5 102.4"/>
<path d="M352.4 132.7L374.5 122.7M369.8 120.9L374.5 122.7L372.7 127.4"/>
<path d="M385.1 12.0L390.6 8.0M385.7 7.2L390.6 8.0L389.8 12.9"/>
<path d="M383.5 37.4L392.3 34.1M387.7 32.0L392.3 34.1L390.2 38.7"/>
<path d="M381.0 62.9L394.3 61.9M390.5 58.6L394.3 61.9L391.0 65.7"/>
<path d="M379.3 87.8L396.8 88.6M393.4 84.9L396.8 88.6L393.1 92.0"/>
<path d="M376.8 116.1L398.5 112.8M394.5 109.8L398.5 112.8L395.5 116.8"/>
<path d="M377.7 146.9L399.3 132.7M394.4 131.7L399.3 132.7L398.3 137.6"/>
<path d="M410.1 23.3L417.6 20.8M413.1 18.6L417.6 20.8L415.4 25.3"/>
<path d="M408.4 48.6L420.1 49.1M416.7 45.4L420.1 49.1L416.4 52.5"/>
<path d="M406.8 73.2L420.9 77.4M418.5 73.0L420.9 77.4L416.5 79.8"/>
<path d="M407.6 100.6L420.9 102.8M418.0 98.7L420.9 102.8L416.8 105.7"/>
<path d="M406.0 129.4L421.8 125.2M417.5 122.7L421.8 125.2L419.3 129.5"/>
<path d="M439.2 8.0L444.2 7.5M440.6 4.5L444.2 7.5L441.2 11.1"/>
<path d="M437.6 35.8L445.6 35.8M442.1 32.3L445.6 35.8L442.1 39.3"/>
<path d="M437.6 60.8L446.7 64.1M444.6 59.6L446.7 64.1L442.2 66.2"/>
<path d="M437.6 85.3L445.9 91.1M445.0 86.2L445.9 91.1L441.0 92.0"/>
<path d="M437.6 115.6L446.7 113.9M442.6 111.1L446.7 113.9L443.9 118.0"/>
<path d="M437.6 144.4L446.7 137.7M441.8 136.9L446.7 137.7L445.9 142.6"/>
<rect x="472.2" y="21.8" width="1.4" height="1.4" fill="#4a54b2" stroke="none"/>
<path d="M470.0 49.1L475.0 49.9M472.3 46.1L475.0 49.9L471.2 52.6"/>
<path d="M470.0 75.7L475.0 74.9M471.2 72.2L475.0 74.9L472.3 78.7"/>
<path d="M470.0 101.9L475.0 100.3M470.8 98.1L475.0 100.3L472.8 104.5"/>
<rect x="472.2" y="127.0" width="1.4" height="1.4" fill="#4a54b2" stroke="none"/>
</g>
<rect x="277.0" y="6.4" width="198.9" height="137.2" fill="none" stroke="#111" stroke-width="1.5"/>
<path d="M279.7 143.6v-5M279.7 6.4v5M303.8 143.6v-5M303.8 6.4v5M328.0 143.6v-5M328.0 6.4v5M352.1 143.6v-5M352.1 6.4v5M376.2 143.6v-5M376.2 6.4v5M400.3 143.6v-5M400.3 6.4v5M424.4 143.6v-5M424.4 6.4v5M448.6 143.6v-5M448.6 6.4v5M472.7 143.6v-5M472.7 6.4v5M277.0 27.5h5M475.9 27.5h-5M277.0 51.2h5M475.9 51.2h-5M277.0 75.0h5M475.9 75.0h-5M277.0 98.8h5M475.9 98.8h-5M277.0 122.5h5M475.9 122.5h-5" stroke="#111" stroke-width="1.3" fill="none"/>
<text x="279.3" y="157.4" font-size="13.3" text-anchor="middle">-80</text>
<text x="303.4" y="157.4" font-size="13.3" text-anchor="middle">-60</text>
<text x="327.6" y="157.4" font-size="13.3" text-anchor="middle">-40</text>
<text x="351.7" y="157.4" font-size="13.3" text-anchor="middle">-20</text>
<text x="375.8" y="157.4" font-size="13.3" text-anchor="middle">0</text>
<text x="399.9" y="157.4" font-size="13.3" text-anchor="middle">20</text>
<text x="424.0" y="157.4" font-size="13.3" text-anchor="middle">40</text>
<text x="448.2" y="157.4" font-size="13.3" text-anchor="middle">60</text>
<text x="472.3" y="157.4" font-size="13.3" text-anchor="middle">80</text>
<text x="273.1" y="31.4" font-size="13.3" text-anchor="end">40</text>
<text x="273.1" y="55.1" font-size="13.3" text-anchor="end">20</text>
<text x="273.1" y="78.9" font-size="13.3" text-anchor="end">0</text>
<text x="273.1" y="102.7" font-size="13.3" text-anchor="end">-20</text>
<text x="273.1" y="126.4" font-size="13.3" text-anchor="end">-40</text>
<text x="273.1" y="9.3" font-size="13.3" text-anchor="end">60</text>
<text x="376.0" y="168.9" font-size="13.3" text-anchor="middle">x (mm)</text>
<text transform="translate(252.8 66.6) rotate(-90)" font-size="13.3" text-anchor="middle">y (mm)</text>
<text x="474.2" y="19.8" font-size="10.8" text-anchor="end" textLength="34.0" lengthAdjust="spacingAndGlyphs">5.8 ms</text>
<clipPath id="c2"><path d="M522.3 10.0L716.0 10.0L716.0 127.6L688.9 140.8L522.3 140.8Z"/></clipPath>
<g clip-path="url(#c2)">
<path d="M500 -20L740 -20L740 170L500 170Z" fill="#8cc266"/>
<path d="M519.1 25.0C519.7 25.2 521.2 25.7 522.5 26.3C523.7 26.9 525.3 27.4 526.6 28.3C528.0 29.2 529.8 30.4 530.8 31.6C531.8 32.9 532.5 34.4 532.5 35.8C532.5 37.2 531.8 38.8 530.8 39.9C529.8 41.1 528.0 41.8 526.6 42.4C525.3 43.1 523.7 43.2 522.5 43.6C521.2 44.0 519.7 44.4 519.1 44.6L500.0 45.0L500.0 25.0Z" fill="#7eb848"/>
<path d="M519.1 56.9C519.7 57.0 520.7 57.1 522.5 57.4C524.3 57.7 528.7 57.1 530.0 58.6C531.2 60.1 530.8 64.6 530.0 66.6C529.1 68.6 526.4 69.6 525.0 70.7C523.6 71.8 522.6 72.5 521.6 73.2C520.7 73.9 519.6 74.6 519.1 74.9L500.0 75.0L500.0 57.0Z" fill="#a2ce8a"/>
<path d="M670.1 7.5C669.7 8.0 669.1 9.7 667.6 10.3C666.1 10.9 663.7 10.7 660.9 11.0C658.1 11.3 654.3 11.7 650.9 12.0C647.6 12.3 644.3 12.6 640.9 13.0C637.6 13.3 634.3 13.8 631.0 14.1C627.6 14.5 624.3 14.9 621.0 15.3C617.6 15.7 613.7 16.4 611.0 16.6C608.3 16.9 607.3 16.6 604.9 17.0C602.5 17.4 599.0 18.2 596.5 19.1C594.0 20.1 592.1 21.1 589.9 22.5C587.7 23.9 585.2 25.8 583.2 27.5C581.3 29.1 579.4 31.1 578.2 32.5C577.1 33.8 576.4 34.4 576.2 35.8C576.1 37.2 576.7 38.8 577.4 40.8C578.2 42.7 579.5 45.2 580.7 47.4C582.0 49.7 583.8 51.7 584.9 54.1C586.0 56.5 586.7 59.2 587.4 61.6C588.1 63.9 588.4 66.0 589.1 68.2C589.7 70.5 590.4 72.7 591.6 74.9C592.7 77.1 594.6 80.0 595.7 81.6C596.8 83.3 597.0 83.1 598.2 85.0C599.5 86.8 601.6 90.7 603.2 92.8C604.8 94.9 605.5 96.1 607.7 97.8C609.8 99.5 612.9 101.2 616.0 102.8C619.0 104.4 622.6 105.5 626.0 107.3C629.3 109.1 632.6 111.3 636.0 113.6C639.3 115.9 642.6 118.6 645.9 121.1C649.3 123.6 652.7 126.2 655.9 128.6C659.1 130.9 662.3 133.2 665.1 135.2C667.9 137.2 670.8 139.2 672.6 140.6C674.4 141.9 675.3 143.1 675.9 143.6L676.0 170.0L740.0 170.0L740.0 -20.0L670.0 -20.0Z" fill="#7eb848"/>
<path d="M720.8 39.9C720.0 39.8 718.3 39.7 715.8 39.1C713.4 38.6 709.2 37.5 705.9 36.6C702.5 35.8 699.2 35.0 695.9 34.1C692.5 33.3 689.2 32.7 685.9 31.6C682.6 30.5 679.0 28.9 675.9 27.5C672.8 26.1 670.1 24.4 667.6 23.3C665.1 22.2 663.1 21.1 660.9 20.8C658.7 20.5 656.8 20.9 654.3 21.3C651.8 21.7 649.0 22.5 645.9 23.3C642.9 24.1 639.3 25.4 636.0 26.3C632.6 27.2 629.3 27.8 626.0 28.6C622.6 29.5 619.0 30.1 616.0 31.3C612.9 32.5 609.5 34.6 607.7 35.8C605.8 37.0 606.1 37.0 604.9 38.3C603.6 39.5 601.2 41.3 600.2 43.3C599.2 45.2 599.2 47.6 599.0 49.9C598.9 52.3 599.5 54.9 599.5 57.4C599.5 59.9 599.1 62.6 599.0 64.9C599.0 67.3 598.8 69.4 599.0 71.6C599.3 73.8 600.0 76.0 600.7 78.2C601.4 80.5 602.0 82.5 603.2 85.0C604.5 87.4 606.3 90.4 608.2 92.8C610.1 95.2 613.2 98.1 614.8 99.5C616.4 100.8 615.5 99.7 617.6 100.6C619.8 101.5 624.3 103.2 627.6 104.9C631.0 106.7 634.3 108.8 637.6 111.1C640.9 113.4 644.3 116.1 647.6 118.6C650.9 121.1 654.3 123.7 657.6 126.1C660.9 128.4 664.5 130.8 667.6 132.7C670.6 134.7 673.7 136.4 675.9 137.7C678.1 139.0 679.5 139.6 680.9 140.6C682.3 141.5 683.7 143.1 684.2 143.6L684.0 170.0L740.0 170.0L740.0 40.0Z" fill="#78b33d"/>
<path d="M519.1 93.6C519.7 93.4 521.2 92.8 522.5 92.3C523.7 91.8 524.0 91.5 526.6 90.6C529.3 89.7 535.0 88.0 538.3 87.0C541.6 85.9 543.8 85.4 546.6 84.5C549.4 83.6 552.2 82.6 554.9 81.6C557.7 80.7 560.5 79.4 563.3 78.6C566.0 77.9 569.1 77.0 571.6 77.0C574.1 76.9 576.3 77.3 578.2 78.3C580.2 79.3 581.6 80.9 583.2 82.8C584.9 84.7 586.3 87.0 588.2 89.5C590.2 92.0 591.4 95.3 594.9 97.8C598.4 100.3 605.3 102.6 609.3 104.4C613.4 106.2 616.0 107.0 619.3 108.6C622.6 110.2 626.0 111.9 629.3 113.9C632.6 116.0 636.0 118.6 639.3 121.1C642.6 123.5 646.2 126.2 649.3 128.6C652.3 130.9 655.1 133.2 657.6 135.2C660.1 137.2 662.6 139.2 664.2 140.6C665.9 141.9 667.0 143.1 667.6 143.6L668.0 170.0L500.0 170.0L500.0 94.0Z" fill="#a2ce8a"/>
<path d="M519.1 103.3C519.7 103.2 520.7 103.1 522.5 102.8C524.3 102.5 526.8 102.3 530.0 101.6C533.2 100.9 537.7 99.7 541.6 98.6C545.5 97.6 549.7 96.3 553.3 95.3C556.9 94.3 560.2 93.5 563.3 92.8C566.3 92.1 569.4 91.3 571.6 91.1C573.8 91.0 574.9 91.1 576.6 92.0C578.2 92.8 579.6 94.5 581.6 96.1C583.5 97.8 585.7 100.0 588.2 101.9C590.7 103.9 592.8 106.7 596.5 107.8C600.3 108.9 606.9 107.9 611.0 108.6C615.1 109.3 617.6 110.4 621.0 111.9C624.3 113.5 627.6 115.5 631.0 117.8C634.3 120.0 637.9 122.8 640.9 125.2C644.0 127.7 646.6 129.9 649.3 132.2C651.9 134.6 655.0 137.5 656.8 139.4C658.6 141.3 659.5 142.9 660.1 143.6L661.0 170.0L500.0 170.0L500.0 103.0Z" fill="#c5e1b5"/>
<path d="M519.1 112.8C519.7 112.6 520.7 112.3 522.5 111.9C524.3 111.5 526.8 111.1 530.0 110.3C533.2 109.4 537.5 107.9 541.6 106.9C545.8 106.0 550.8 105.1 554.9 104.4C559.1 103.7 563.3 103.0 566.6 102.8C569.9 102.6 572.7 102.8 574.9 103.3C577.1 103.7 577.7 104.4 579.9 105.6C582.1 106.8 585.2 108.8 588.2 110.3C591.3 111.7 594.4 112.9 598.2 114.4C602.0 116.0 607.2 117.9 611.0 119.4C614.8 120.9 617.6 121.9 621.0 123.6C624.3 125.2 627.6 127.3 631.0 129.4C634.3 131.5 637.9 134.0 640.9 136.1C644.0 138.1 647.3 140.2 649.3 141.6C651.2 142.9 652.0 143.9 652.6 144.4L653.0 170.0L500.0 170.0L500.0 113.0Z" fill="#ffffff"/>
<path d="M519.1 120.9C519.7 120.8 519.3 121.0 522.5 120.3C525.7 119.5 532.9 117.7 538.3 116.6C543.7 115.5 549.9 114.4 554.9 113.6C559.9 112.8 564.6 111.9 568.2 111.6C571.9 111.3 574.1 111.3 576.6 111.6C579.1 111.9 580.2 112.4 583.2 113.6C586.3 114.8 590.3 116.4 594.9 118.6C599.5 120.8 606.6 124.9 611.0 126.9C615.3 128.9 617.6 129.0 621.0 130.6C624.3 132.1 627.9 134.4 631.0 136.1C634.0 137.7 637.1 139.3 639.3 140.6C641.5 141.9 643.4 143.3 644.3 143.9L644.0 170.0L500.0 170.0L500.0 121.0Z" fill="#e9b9ba"/>
<path d="M519.1 127.9C519.7 127.8 519.3 127.9 522.5 127.2C525.7 126.6 532.9 125.0 538.3 123.9C543.7 122.8 549.9 121.5 554.9 120.6C559.9 119.7 564.6 119.0 568.2 118.6C571.9 118.2 573.8 118.0 576.6 118.3C579.3 118.5 581.3 119.1 584.9 120.3C588.5 121.4 593.9 123.3 598.2 125.2C602.6 127.2 607.2 130.1 611.0 131.9C614.8 133.7 617.9 134.6 621.0 136.1C624.0 137.5 627.1 139.3 629.3 140.6C631.5 141.9 633.5 143.3 634.3 143.9L634.0 170.0L500.0 170.0L500.0 128.0Z" fill="#d78286"/>
<path d="M519.1 134.2C519.7 134.1 519.3 134.2 522.5 133.6C525.7 133.0 532.9 131.6 538.3 130.6C543.7 129.5 549.9 128.2 554.9 127.2C559.9 126.3 564.4 125.4 568.2 124.9C572.1 124.4 574.9 124.1 578.2 124.4C581.6 124.7 584.9 125.6 588.2 126.6C591.6 127.6 594.4 128.6 598.2 130.2C602.0 131.9 607.5 134.8 611.0 136.6C614.5 138.3 617.1 139.3 619.3 140.6C621.5 141.8 623.5 143.3 624.3 143.9L624.0 170.0L500.0 170.0L500.0 134.0Z" fill="#cb5b60"/>
<path d="M519.1 139.6C519.7 139.5 519.3 139.4 522.5 138.9C525.7 138.4 532.9 137.5 538.3 136.6C543.7 135.6 549.9 134.2 554.9 133.2C559.9 132.2 564.4 131.1 568.2 130.6C572.1 130.0 574.9 129.7 578.2 129.9C581.6 130.1 584.9 130.8 588.2 131.6C591.6 132.4 594.7 133.1 598.2 134.6C601.7 136.1 606.6 139.0 609.3 140.6C612.0 142.1 613.5 143.3 614.3 143.9L614.0 170.0L500.0 170.0L500.0 140.0Z" fill="#c83f40"/>
<path d="M531.6 144.4C532.7 143.8 535.8 141.7 538.3 140.9C540.8 140.1 543.3 140.1 546.6 139.4C549.9 138.7 554.1 137.6 558.3 136.9C562.4 136.2 567.7 135.3 571.6 134.9C575.5 134.5 578.2 134.2 581.6 134.4C584.9 134.6 588.2 135.3 591.6 136.1C594.9 136.8 599.0 138.1 601.5 138.9C604.0 139.7 604.9 140.0 606.5 140.9C608.2 141.8 610.7 143.8 611.5 144.4L611.0 170.0L532.0 170.0Z" fill="#c42728"/>
</g>
<clipPath id="d2"><path d="M520.7 8.4L717.6 8.4L717.6 128.0L689.7 142.4L520.7 142.4Z"/></clipPath>
<g clip-path="url(#d2)" fill="none">
<path d="M519.1 112.8C519.7 112.6 520.7 112.3 522.5 111.9C524.3 111.5 526.8 111.1 530.0 110.3C533.2 109.4 537.5 107.9 541.6 106.9C545.8 106.0 550.8 105.1 554.9 104.4C559.1 103.7 563.3 103.0 566.6 102.8C569.9 102.6 572.7 102.8 574.9 103.3C577.1 103.7 577.7 104.4 579.9 105.6C582.1 106.8 585.2 108.8 588.2 110.3C591.3 111.7 594.4 112.9 598.2 114.4C602.0 116.0 607.2 117.9 611.0 119.4C614.8 120.9 617.6 121.9 621.0 123.6C624.3 125.2 627.6 127.3 631.0 129.4C634.3 131.5 637.9 134.0 640.9 136.1C644.0 138.1 647.3 140.2 649.3 141.6C651.2 142.9 652.0 143.9 652.6 144.4" stroke="#97979a" stroke-width="4.8" stroke-linejoin="round"/>
<path d="M519.1 25.0C519.7 25.2 521.2 25.7 522.5 26.3C523.7 26.9 525.3 27.4 526.6 28.3C528.0 29.2 529.8 30.4 530.8 31.6C531.8 32.9 532.5 34.4 532.5 35.8C532.5 37.2 531.8 38.8 530.8 39.9C529.8 41.1 528.0 41.8 526.6 42.4C525.3 43.1 523.7 43.2 522.5 43.6C521.2 44.0 519.7 44.4 519.1 44.6" stroke="#111" stroke-width="2.4" stroke-dasharray="2.4 2.45"/>
<path d="M519.1 56.9C519.7 57.0 520.7 57.1 522.5 57.4C524.3 57.7 528.7 57.1 530.0 58.6C531.2 60.1 530.8 64.6 530.0 66.6C529.1 68.6 526.4 69.6 525.0 70.7C523.6 71.8 522.6 72.5 521.6 73.2C520.7 73.9 519.6 74.6 519.1 74.9" stroke="#111" stroke-width="2.4" stroke-dasharray="2.4 2.45"/>
<path d="M670.1 7.5C669.7 8.0 669.1 9.7 667.6 10.3C666.1 10.9 663.7 10.7 660.9 11.0C658.1 11.3 654.3 11.7 650.9 12.0C647.6 12.3 644.3 12.6 640.9 13.0C637.6 13.3 634.3 13.8 631.0 14.1C627.6 14.5 624.3 14.9 621.0 15.3C617.6 15.7 613.7 16.4 611.0 16.6C608.3 16.9 607.3 16.6 604.9 17.0C602.5 17.4 599.0 18.2 596.5 19.1C594.0 20.1 592.1 21.1 589.9 22.5C587.7 23.9 585.2 25.8 583.2 27.5C581.3 29.1 579.4 31.1 578.2 32.5C577.1 33.8 576.4 34.4 576.2 35.8C576.1 37.2 576.7 38.8 577.4 40.8C578.2 42.7 579.5 45.2 580.7 47.4C582.0 49.7 583.8 51.7 584.9 54.1C586.0 56.5 586.7 59.2 587.4 61.6C588.1 63.9 588.4 66.0 589.1 68.2C589.7 70.5 590.4 72.7 591.6 74.9C592.7 77.1 594.6 80.0 595.7 81.6C596.8 83.3 597.0 83.1 598.2 85.0C599.5 86.8 601.6 90.7 603.2 92.8C604.8 94.9 605.5 96.1 607.7 97.8C609.8 99.5 612.9 101.2 616.0 102.8C619.0 104.4 622.6 105.5 626.0 107.3C629.3 109.1 632.6 111.3 636.0 113.6C639.3 115.9 642.6 118.6 645.9 121.1C649.3 123.6 652.7 126.2 655.9 128.6C659.1 130.9 662.3 133.2 665.1 135.2C667.9 137.2 670.8 139.2 672.6 140.6C674.4 141.9 675.3 143.1 675.9 143.6" stroke="#111" stroke-width="2.4" stroke-dasharray="2.4 2.45"/>
<path d="M720.8 39.9C720.0 39.8 718.3 39.7 715.8 39.1C713.4 38.6 709.2 37.5 705.9 36.6C702.5 35.8 699.2 35.0 695.9 34.1C692.5 33.3 689.2 32.7 685.9 31.6C682.6 30.5 679.0 28.9 675.9 27.5C672.8 26.1 670.1 24.4 667.6 23.3C665.1 22.2 663.1 21.1 660.9 20.8C658.7 20.5 656.8 20.9 654.3 21.3C651.8 21.7 649.0 22.5 645.9 23.3C642.9 24.1 639.3 25.4 636.0 26.3C632.6 27.2 629.3 27.8 626.0 28.6C622.6 29.5 619.0 30.1 616.0 31.3C612.9 32.5 609.5 34.6 607.7 35.8C605.8 37.0 606.1 37.0 604.9 38.3C603.6 39.5 601.2 41.3 600.2 43.3C599.2 45.2 599.2 47.6 599.0 49.9C598.9 52.3 599.5 54.9 599.5 57.4C599.5 59.9 599.1 62.6 599.0 64.9C599.0 67.3 598.8 69.4 599.0 71.6C599.3 73.8 600.0 76.0 600.7 78.2C601.4 80.5 602.0 82.5 603.2 85.0C604.5 87.4 606.3 90.4 608.2 92.8C610.1 95.2 613.2 98.1 614.8 99.5C616.4 100.8 615.5 99.7 617.6 100.6C619.8 101.5 624.3 103.2 627.6 104.9C631.0 106.7 634.3 108.8 637.6 111.1C640.9 113.4 644.3 116.1 647.6 118.6C650.9 121.1 654.3 123.7 657.6 126.1C660.9 128.4 664.5 130.8 667.6 132.7C670.6 134.7 673.7 136.4 675.9 137.7C678.1 139.0 679.5 139.6 680.9 140.6C682.3 141.5 683.7 143.1 684.2 143.6" stroke="#111" stroke-width="2.4" stroke-dasharray="2.4 2.45"/>
<path d="M519.1 93.6C519.7 93.4 521.2 92.8 522.5 92.3C523.7 91.8 524.0 91.5 526.6 90.6C529.3 89.7 535.0 88.0 538.3 87.0C541.6 85.9 543.8 85.4 546.6 84.5C549.4 83.6 552.2 82.6 554.9 81.6C557.7 80.7 560.5 79.4 563.3 78.6C566.0 77.9 569.1 77.0 571.6 77.0C574.1 76.9 576.3 77.3 578.2 78.3C580.2 79.3 581.6 80.9 583.2 82.8C584.9 84.7 586.3 87.0 588.2 89.5C590.2 92.0 591.4 95.3 594.9 97.8C598.4 100.3 605.3 102.6 609.3 104.4C613.4 106.2 616.0 107.0 619.3 108.6C622.6 110.2 626.0 111.9 629.3 113.9C632.6 116.0 636.0 118.6 639.3 121.1C642.6 123.5 646.2 126.2 649.3 128.6C652.3 130.9 655.1 133.2 657.6 135.2C660.1 137.2 662.6 139.2 664.2 140.6C665.9 141.9 667.0 143.1 667.6 143.6" stroke="#111" stroke-width="2.4" stroke-dasharray="2.4 2.45"/>
<path d="M519.1 103.3C519.7 103.2 520.7 103.1 522.5 102.8C524.3 102.5 526.8 102.3 530.0 101.6C533.2 100.9 537.7 99.7 541.6 98.6C545.5 97.6 549.7 96.3 553.3 95.3C556.9 94.3 560.2 93.5 563.3 92.8C566.3 92.1 569.4 91.3 571.6 91.1C573.8 91.0 574.9 91.1 576.6 92.0C578.2 92.8 579.6 94.5 581.6 96.1C583.5 97.8 585.7 100.0 588.2 101.9C590.7 103.9 592.8 106.7 596.5 107.8C600.3 108.9 606.9 107.9 611.0 108.6C615.1 109.3 617.6 110.4 621.0 111.9C624.3 113.5 627.6 115.5 631.0 117.8C634.3 120.0 637.9 122.8 640.9 125.2C644.0 127.7 646.6 129.9 649.3 132.2C651.9 134.6 655.0 137.5 656.8 139.4C658.6 141.3 659.5 142.9 660.1 143.6" stroke="#111" stroke-width="2.4" stroke-dasharray="2.4 2.45"/>
<path d="M519.1 120.9C519.7 120.8 519.3 121.0 522.5 120.3C525.7 119.5 532.9 117.7 538.3 116.6C543.7 115.5 549.9 114.4 554.9 113.6C559.9 112.8 564.6 111.9 568.2 111.6C571.9 111.3 574.1 111.3 576.6 111.6C579.1 111.9 580.2 112.4 583.2 113.6C586.3 114.8 590.3 116.4 594.9 118.6C599.5 120.8 606.6 124.9 611.0 126.9C615.3 128.9 617.6 129.0 621.0 130.6C624.3 132.1 627.9 134.4 631.0 136.1C634.0 137.7 637.1 139.3 639.3 140.6C641.5 141.9 643.4 143.3 644.3 143.9" stroke="#111" stroke-width="1.3"/>
<path d="M519.1 127.9C519.7 127.8 519.3 127.9 522.5 127.2C525.7 126.6 532.9 125.0 538.3 123.9C543.7 122.8 549.9 121.5 554.9 120.6C559.9 119.7 564.6 119.0 568.2 118.6C571.9 118.2 573.8 118.0 576.6 118.3C579.3 118.5 581.3 119.1 584.9 120.3C588.5 121.4 593.9 123.3 598.2 125.2C602.6 127.2 607.2 130.1 611.0 131.9C614.8 133.7 617.9 134.6 621.0 136.1C624.0 137.5 627.1 139.3 629.3 140.6C631.5 141.9 633.5 143.3 634.3 143.9" stroke="#111" stroke-width="1.3"/>
<path d="M519.1 134.2C519.7 134.1 519.3 134.2 522.5 133.6C525.7 133.0 532.9 131.6 538.3 130.6C543.7 129.5 549.9 128.2 554.9 127.2C559.9 126.3 564.4 125.4 568.2 124.9C572.1 124.4 574.9 124.1 578.2 124.4C581.6 124.7 584.9 125.6 588.2 126.6C591.6 127.6 594.4 128.6 598.2 130.2C602.0 131.9 607.5 134.8 611.0 136.6C614.5 138.3 617.1 139.3 619.3 140.6C621.5 141.8 623.5 143.3 624.3 143.9" stroke="#111" stroke-width="1.3"/>
<path d="M519.1 139.6C519.7 139.5 519.3 139.4 522.5 138.9C525.7 138.4 532.9 137.5 538.3 136.6C543.7 135.6 549.9 134.2 554.9 133.2C559.9 132.2 564.4 131.1 568.2 130.6C572.1 130.0 574.9 129.7 578.2 129.9C581.6 130.1 584.9 130.8 588.2 131.6C591.6 132.4 594.7 133.1 598.2 134.6C601.7 136.1 606.6 139.0 609.3 140.6C612.0 142.1 613.5 143.3 614.3 143.9" stroke="#111" stroke-width="1.3"/>
<path d="M531.6 144.4C532.7 143.8 535.8 141.7 538.3 140.9C540.8 140.1 543.3 140.1 546.6 139.4C549.9 138.7 554.1 137.6 558.3 136.9C562.4 136.2 567.7 135.3 571.6 134.9C575.5 134.5 578.2 134.2 581.6 134.4C584.9 134.6 588.2 135.3 591.6 136.1C594.9 136.8 599.0 138.1 601.5 138.9C604.0 139.7 604.9 140.0 606.5 140.9C608.2 141.8 610.7 143.8 611.5 144.4" stroke="#111" stroke-width="1.3"/>
</g>
<rect x="684.5" y="6.4" width="34.9" height="15.9" fill="#fff" fill-opacity="0.62"/>
<g stroke="#4a54b2" stroke-width="1.8" fill="none" stroke-linejoin="miter" stroke-miterlimit="6">
<rect x="521.8" y="9.6" width="1.4" height="1.4" fill="#4a54b2" stroke="none"/>
<path d="M524.1 40.8L521.6 32.5M519.2 36.9L521.6 32.5L526.0 34.9"/>
<path d="M525.0 69.1L520.8 56.6M518.6 61.1L520.8 56.6L525.3 58.8"/>
<path d="M525.8 98.6L520.3 77.8M517.8 82.1L520.3 77.8L524.6 80.3"/>
<path d="M530.0 129.4L515.3 100.0M513.7 104.7L515.3 100.0L520.0 101.6"/>
<rect x="521.6" y="138.8" width="1.4" height="1.4" fill="#4a54b2" stroke="none"/>
<path d="M552.9 26.6L552.9 20.3M549.4 23.8L552.9 20.3L556.4 23.8"/>
<path d="M551.6 55.8L554.6 43.6M550.3 46.2L554.6 43.6L557.2 47.9"/>
<path d="M552.4 83.2L553.6 64.9M549.8 68.2L553.6 64.9L556.9 68.7"/>
<path d="M555.8 116.1L549.9 86.6M547.1 90.8L549.9 86.6L554.1 89.4"/>
<path d="M557.3 146.6L548.6 107.3M545.9 111.5L548.6 107.3L552.8 110.0"/>
<path d="M579.1 9.2L582.9 12.5M582.6 7.8L582.9 12.5L578.2 12.8"/>
<path d="M576.6 41.3L584.1 31.6M579.1 32.2L584.1 31.6L584.7 36.6"/>
<path d="M577.4 69.9L584.1 54.6M579.4 56.4L584.1 54.6L585.9 59.3"/>
<path d="M576.6 102.8L584.6 73.7M580.3 76.2L584.6 73.7L587.1 78.0"/>
<path d="M577.4 133.9L583.2 95.3M579.2 98.3L583.2 95.3L586.2 99.3"/>
<path d="M577.7 162.2L584.1 118.6M580.1 121.6L584.1 118.6L587.1 122.6"/>
<path d="M604.0 25.3L610.2 20.8M605.3 20.0L610.2 20.8L609.4 25.7"/>
<path d="M601.5 54.1L612.4 44.6M607.4 44.3L612.4 44.6L612.1 49.6"/>
<path d="M599.9 83.2L614.9 65.2M609.9 65.7L614.9 65.2L615.4 70.2"/>
<path d="M599.5 118.3L615.2 85.3M610.5 87.0L615.2 85.3L616.9 90.0"/>
<path d="M598.1 148.4L616.2 105.6M611.6 107.5L616.2 105.6L618.1 110.2"/>
<path d="M627.6 11.7L634.3 9.7M629.9 7.3L634.3 9.7L631.9 14.1"/>
<path d="M626.0 37.9L635.1 34.1M630.5 32.2L635.1 34.1L633.2 38.7"/>
<path d="M625.6 67.9L636.8 56.9M631.8 56.9L636.8 56.9L636.8 61.9"/>
<path d="M622.6 98.6L639.3 77.8M634.3 78.3L639.3 77.8L639.8 82.8"/>
<path d="M619.3 131.9L642.6 97.0M637.7 98.0L642.6 97.0L643.6 101.9"/>
<path d="M616.6 162.2L644.3 119.4M639.4 120.4L644.3 119.4L645.3 124.3"/>
<path d="M655.1 24.1L660.9 20.8M656.1 19.5L660.9 20.8L659.6 25.6"/>
<path d="M652.9 50.8L661.3 47.4M656.7 45.4L661.3 47.4L659.3 52.0"/>
<path d="M651.8 80.7L663.4 70.2M658.4 70.0L663.4 70.2L663.2 75.2"/>
<path d="M648.4 111.9L666.7 90.6M661.7 91.0L666.7 90.6L667.1 95.6"/>
<path d="M646.5 142.2L668.9 112.8M663.9 113.5L668.9 112.8L669.6 117.8"/>
<rect x="686.3" y="9.3" width="1.4" height="1.4" fill="#4a54b2" stroke="none"/>
<path d="M684.2 37.4L686.7 34.1M682.5 34.7L686.7 34.1L687.3 38.3"/>
<path d="M682.6 64.1L687.6 60.3M682.6 59.6L687.6 60.3L686.9 65.3"/>
<path d="M680.9 92.8L689.2 83.6M684.2 83.9L689.2 83.6L689.5 88.6"/>
<path d="M676.7 125.2L693.4 104.4M688.4 104.9L693.4 104.4L693.9 109.4"/>
<path d="M673.2 151.0L696.7 128.9M691.7 128.7L696.7 128.9L696.5 133.9"/>
<rect x="714.3" y="22.6" width="1.4" height="1.4" fill="#4a54b2" stroke="none"/>
<rect x="714.3" y="48.4" width="1.4" height="1.4" fill="#4a54b2" stroke="none"/>
<path d="M712.5 74.9L717.5 76.6M715.4 72.3L717.5 76.6L713.2 78.7"/>
<path d="M712.5 106.9L717.5 96.1M712.8 97.8L717.5 96.1L719.2 100.8"/>
<rect x="714.8" y="126.5" width="1.4" height="1.4" fill="#4a54b2" stroke="none"/>
</g>
<rect x="519.2" y="6.4" width="200.2" height="137.2" fill="none" stroke="#111" stroke-width="1.5"/>
<path d="M522.5 143.6v-5M522.5 6.4v5M546.6 143.6v-5M546.6 6.4v5M570.8 143.6v-5M570.8 6.4v5M594.9 143.6v-5M594.9 6.4v5M619.0 143.6v-5M619.0 6.4v5M643.1 143.6v-5M643.1 6.4v5M667.2 143.6v-5M667.2 6.4v5M691.4 143.6v-5M691.4 6.4v5M715.5 143.6v-5M715.5 6.4v5M519.2 27.5h5M719.4 27.5h-5M519.2 51.2h5M719.4 51.2h-5M519.2 75.0h5M719.4 75.0h-5M519.2 98.8h5M719.4 98.8h-5M519.2 122.5h5M719.4 122.5h-5" stroke="#111" stroke-width="1.3" fill="none"/>
<text x="522.1" y="157.4" font-size="13.3" text-anchor="middle">-80</text>
<text x="546.2" y="157.4" font-size="13.3" text-anchor="middle">-60</text>
<text x="570.4" y="157.4" font-size="13.3" text-anchor="middle">-40</text>
<text x="594.5" y="157.4" font-size="13.3" text-anchor="middle">-20</text>
<text x="618.6" y="157.4" font-size="13.3" text-anchor="middle">0</text>
<text x="642.7" y="157.4" font-size="13.3" text-anchor="middle">20</text>
<text x="666.8" y="157.4" font-size="13.3" text-anchor="middle">40</text>
<text x="691.0" y="157.4" font-size="13.3" text-anchor="middle">60</text>
<text x="715.1" y="157.4" font-size="13.3" text-anchor="middle">80</text>
<text x="515.3" y="31.4" font-size="13.3" text-anchor="end">40</text>
<text x="515.3" y="55.1" font-size="13.3" text-anchor="end">20</text>
<text x="515.3" y="78.9" font-size="13.3" text-anchor="end">0</text>
<text x="515.3" y="102.7" font-size="13.3" text-anchor="end">-20</text>
<text x="515.3" y="126.4" font-size="13.3" text-anchor="end">-40</text>
<text x="515.3" y="9.3" font-size="13.3" text-anchor="end">60</text>
<text x="618.8" y="168.9" font-size="13.3" text-anchor="middle">x (mm)</text>
<text transform="translate(495.0 66.6) rotate(-90)" font-size="13.3" text-anchor="middle">y (mm)</text>
<text x="717.7" y="19.8" font-size="10.8" text-anchor="end" textLength="34.0" lengthAdjust="spacingAndGlyphs">6.2 ms</text>
<clipPath id="c3"><path d="M38.5 182.6L230.0 182.6L230.0 298.6L203.9 312.2L38.5 312.2Z"/></clipPath>
<g clip-path="url(#c3)">
<path d="M0 160L260 160L260 340L0 340Z" fill="#8cc266"/>
<path d="M35.0 188.1C35.6 188.1 36.7 188.0 38.6 187.8C40.6 187.7 43.9 187.7 46.6 187.3C49.3 187.0 52.5 186.3 55.0 185.6C57.5 185.0 60.1 184.1 61.6 183.7C63.1 183.2 63.4 183.4 64.1 182.8C64.8 182.3 65.5 180.7 65.8 180.3L66.0 160.0L0.0 160.0L0.0 188.0Z" fill="#7eb848"/>
<path d="M35.0 223.3C35.6 223.3 36.7 223.3 38.6 223.3C40.6 223.2 44.1 222.7 46.6 222.8C49.2 222.9 52.2 223.1 54.1 223.9C56.0 224.8 57.7 226.3 57.9 227.8C58.2 229.2 57.0 231.1 55.8 232.8C54.6 234.4 52.6 236.1 50.8 237.7C49.0 239.4 47.0 241.3 45.0 242.7C42.9 244.2 40.3 245.6 38.6 246.6C37.0 247.5 35.6 248.2 35.0 248.6L0.0 249.0L0.0 223.0Z" fill="#a2ce8a"/>
<path d="M137.2 179.5C136.9 180.0 136.3 182.1 135.5 182.8C134.7 183.5 133.4 183.3 132.2 183.7C130.9 184.0 130.0 184.4 128.0 185.0C126.0 185.5 122.7 186.1 119.9 187.0C117.0 187.8 113.5 188.7 110.7 190.0C107.9 191.2 105.7 192.9 103.2 194.5C100.7 196.1 98.0 197.8 95.7 199.5C93.5 201.1 91.2 202.8 89.9 204.5C88.7 206.1 88.1 207.5 88.2 209.5C88.4 211.4 89.8 213.7 90.7 216.1C91.7 218.5 92.8 221.1 94.1 223.6C95.3 226.1 97.0 228.6 98.2 231.1C99.5 233.6 100.4 236.2 101.6 238.6C102.7 240.9 103.8 243.4 104.9 245.2C106.0 247.1 106.6 248.2 108.2 249.8C109.9 251.4 112.4 253.7 114.9 254.8C117.4 255.9 120.1 256.2 123.2 256.5C126.2 256.7 130.7 256.7 133.2 256.5C135.6 256.3 135.2 255.4 138.0 255.3C140.7 255.2 145.8 255.4 149.6 255.6C153.5 255.8 157.7 256.0 161.3 256.5C164.9 257.0 167.9 257.8 171.3 258.6C174.6 259.5 177.9 260.3 181.3 261.5C184.6 262.6 188.2 264.2 191.2 265.6C194.3 267.0 197.1 268.3 199.6 269.8C202.1 271.3 204.1 272.8 206.2 274.8C208.3 276.7 210.1 279.1 212.1 281.4C214.0 283.8 216.1 286.6 217.9 288.9C219.7 291.3 221.2 293.9 222.9 295.6C224.5 297.2 226.2 297.8 227.7 298.9C229.2 300.0 231.3 301.7 232.0 302.2L260.0 300.0L260.0 160.0L137.0 160.0Z" fill="#7eb848"/>
<path d="M212.1 182.0C212.5 183.1 213.4 186.7 214.6 188.6C215.7 190.6 217.3 191.7 218.7 193.6C220.1 195.6 221.6 198.4 222.9 200.3C224.1 202.2 225.0 203.8 226.2 205.3C227.4 206.8 228.5 208.1 229.9 209.5C231.3 210.8 233.7 212.9 234.5 213.6L260.0 214.0L260.0 160.0L212.0 160.0Z" fill="#8cc266"/>
<path d="M133.2 194.5C131.8 195.5 128.7 196.6 126.5 197.8C124.3 199.0 122.1 200.4 119.9 202.0C117.6 203.5 115.2 205.3 113.2 207.0C111.3 208.6 109.3 210.1 108.2 211.9C107.1 213.7 106.6 215.7 106.6 217.8C106.6 219.9 107.4 222.1 108.2 224.4C109.0 226.8 110.4 229.6 111.5 231.9C112.7 234.3 113.9 236.4 114.9 238.6C115.8 240.8 116.5 243.5 117.4 245.2C118.2 247.0 118.3 248.1 119.9 249.0C121.4 249.9 123.5 250.4 126.5 250.6C129.5 250.9 134.1 250.3 138.0 250.3C141.8 250.3 145.8 250.5 149.6 250.6C153.5 250.8 157.7 250.7 161.3 251.0C164.9 251.3 167.9 251.7 171.3 252.3C174.6 252.9 177.9 253.8 181.3 254.8C184.6 255.8 187.9 257.0 191.2 258.1C194.6 259.2 198.5 260.8 201.2 261.5C204.0 262.2 206.0 262.9 207.6 262.3C209.1 261.7 209.4 259.8 210.4 258.1C211.4 256.5 212.5 254.7 213.7 252.3C215.0 250.0 216.9 246.5 217.9 244.0C218.9 241.5 219.1 239.2 219.5 237.3C220.0 235.5 220.5 234.8 220.4 232.8C220.2 230.7 219.8 227.6 218.7 225.3C217.6 222.9 215.7 220.8 213.7 218.6C211.8 216.4 209.0 214.0 207.1 211.9C205.1 209.9 203.2 208.2 202.1 206.1C201.0 204.0 200.8 201.8 200.4 199.5C200.0 197.1 200.1 194.2 199.6 192.0C199.0 189.8 198.7 187.3 197.1 186.1C195.4 185.0 192.8 185.2 189.6 185.0C186.4 184.8 182.1 184.9 177.9 185.0C173.8 185.0 168.8 185.0 164.6 185.3C160.5 185.6 156.6 186.1 153.0 186.6C149.4 187.2 146.0 187.8 143.0 188.6C139.9 189.5 136.3 190.7 134.7 191.6C133.0 192.6 134.5 193.4 133.2 194.5Z" fill="#78b33d"/>
<path d="M35.0 269.6C35.7 269.7 37.2 269.9 39.1 270.3C41.1 270.7 43.7 271.3 46.6 271.9C49.5 272.6 53.6 273.5 56.6 273.9C59.7 274.4 62.4 275.2 64.9 274.8C67.4 274.4 69.4 273.1 71.6 271.5C73.8 269.8 76.0 267.0 78.3 264.8C80.5 262.6 82.7 260.1 84.9 258.1C87.1 256.2 89.6 254.0 91.6 253.1C93.5 252.3 94.6 252.4 96.6 253.1C98.5 253.8 100.7 255.8 103.2 257.3C105.7 258.8 108.5 261.0 111.5 262.3C114.6 263.5 118.2 264.5 121.5 264.8C124.9 265.1 128.8 264.7 131.5 264.3C134.3 263.9 135.0 262.8 138.0 262.6C141.0 262.4 145.8 262.9 149.6 263.1C153.5 263.4 157.7 263.7 161.3 264.3C164.9 264.9 167.9 265.9 171.3 267.0C174.6 268.0 178.1 269.2 181.3 270.6C184.5 272.0 187.6 273.6 190.4 275.3C193.2 276.9 195.7 278.7 197.9 280.6C200.1 282.5 201.8 284.3 203.7 286.4C205.7 288.5 207.6 291.0 209.6 293.1C211.5 295.2 213.7 297.4 215.4 298.9C217.1 300.4 218.6 301.1 219.9 302.2C221.1 303.4 222.4 305.0 222.9 305.6L225.0 340.0L0.0 340.0L0.0 270.0Z" fill="#a2ce8a"/>
<path d="M35.0 281.9C35.7 282.3 37.2 282.9 39.1 283.9C41.1 285.0 44.0 286.6 46.6 288.1C49.3 289.6 52.2 291.7 55.0 293.1C57.7 294.5 60.8 296.1 63.3 296.4C65.8 296.7 68.0 296.0 69.9 294.8C71.9 293.5 73.3 291.1 74.9 288.9C76.6 286.7 78.0 283.8 79.9 281.4C81.9 279.1 84.4 276.7 86.6 274.8C88.8 272.8 91.0 270.8 93.2 269.8C95.5 268.8 97.4 268.6 99.9 269.0C102.4 269.3 105.2 271.1 108.2 271.9C111.3 272.8 114.9 274.0 118.2 274.3C121.5 274.6 124.9 274.2 128.2 273.6C131.5 273.1 134.4 271.3 138.0 271.0C141.6 270.6 145.8 271.1 149.6 271.5C153.5 271.8 157.7 272.4 161.3 273.1C164.9 273.9 167.9 274.8 171.3 275.9C174.6 277.1 178.2 278.4 181.3 279.8C184.3 281.2 187.1 282.6 189.6 284.3C192.1 285.9 194.1 287.9 196.2 289.8C198.4 291.6 200.2 293.6 202.2 295.6C204.2 297.5 206.4 299.7 208.2 301.4C210.0 303.1 211.7 304.5 213.1 305.9C214.4 307.3 215.7 309.1 216.2 309.7L216.0 340.0L0.0 340.0L0.0 282.0Z" fill="#c5e1b5"/>
<path d="M35.0 298.1C35.7 298.5 37.5 299.6 39.1 300.6C40.8 301.5 42.6 303.2 45.0 303.9C47.3 304.6 50.2 304.9 53.3 304.7C56.3 304.6 59.9 303.9 63.3 303.1C66.6 302.2 70.2 301.1 73.3 299.7C76.3 298.4 79.4 296.7 81.6 294.8C83.8 292.8 84.9 290.2 86.6 288.1C88.2 286.0 89.6 283.7 91.6 282.3C93.5 280.9 95.5 280.3 98.2 279.8C101.0 279.3 104.6 279.5 108.2 279.3C111.8 279.1 116.0 279.0 119.9 278.6C123.8 278.2 128.5 277.1 131.5 276.9C134.5 276.8 135.0 277.3 138.0 277.6C141.0 277.9 145.8 278.1 149.6 278.6C153.5 279.1 157.7 279.8 161.3 280.6C164.9 281.4 167.9 282.5 171.3 283.6C174.6 284.7 178.2 285.9 181.3 286.9C184.3 288.0 187.1 288.7 189.6 289.8C192.1 290.8 194.3 291.7 196.2 293.1C198.2 294.5 199.7 296.4 201.2 298.1C202.8 299.7 204.1 301.4 205.4 303.1C206.6 304.7 207.8 306.5 208.7 308.1C209.7 309.6 210.8 311.5 211.2 312.2L211.0 340.0L0.0 340.0L0.0 298.0Z" fill="#ffffff"/>
<path d="M36.6 313.2C37.5 313.0 38.9 312.6 41.6 311.9C44.4 311.2 49.1 310.0 53.3 308.9C57.5 307.8 62.4 306.7 66.6 305.6C70.8 304.5 74.9 303.6 78.3 302.2C81.6 300.9 84.1 299.1 86.6 297.2C89.1 295.4 91.0 293.1 93.2 291.4C95.5 289.8 97.1 288.2 99.9 287.3C102.7 286.3 106.6 286.3 109.9 285.9C113.2 285.5 116.5 285.2 119.9 284.8C123.2 284.4 126.8 284.0 129.9 283.6C132.9 283.2 134.7 282.6 138.0 282.6C141.3 282.6 145.8 283.1 149.6 283.6C153.5 284.1 157.7 284.8 161.3 285.6C164.9 286.3 167.9 287.1 171.3 288.1C174.6 289.1 178.3 290.2 181.3 291.4C184.2 292.7 186.5 293.9 188.8 295.6C191.0 297.2 192.9 299.5 194.6 301.4C196.2 303.4 197.5 305.4 198.7 307.2C200.0 309.0 201.2 310.8 202.1 312.2C202.9 313.6 203.5 315.0 203.7 315.6L203.7 340.0L36.6 340.0Z" fill="#e9b9ba"/>
<path d="M50.0 313.2C50.8 312.9 52.2 312.1 55.0 311.4C57.7 310.7 62.7 309.8 66.6 308.9C70.5 308.0 74.6 307.2 78.3 305.9C81.9 304.7 85.5 303.0 88.2 301.4C91.0 299.8 92.7 297.9 94.9 296.4C97.1 294.9 99.1 293.3 101.6 292.3C104.1 291.2 106.8 290.8 109.9 290.3C112.9 289.7 116.5 289.4 119.9 288.9C123.2 288.5 126.8 287.9 129.9 287.6C132.9 287.3 134.7 286.8 138.0 286.9C141.3 287.0 145.8 287.6 149.6 288.1C153.5 288.6 157.7 289.1 161.3 289.8C164.9 290.5 168.2 291.3 171.3 292.3C174.3 293.2 177.4 294.3 179.6 295.6C181.8 296.8 183.1 298.1 184.6 299.7C186.1 301.4 187.4 303.5 188.8 305.6C190.1 307.7 191.9 310.6 192.9 312.2C193.9 313.9 194.3 315.0 194.6 315.6L194.6 340.0L50.0 340.0Z" fill="#d78286"/>
<path d="M59.9 313.6C60.8 313.3 62.2 312.6 64.9 311.9C67.7 311.2 73.0 310.2 76.6 309.2C80.2 308.2 83.5 307.2 86.6 305.9C89.6 304.6 92.1 302.9 94.9 301.4C97.7 299.9 100.4 298.1 103.2 296.9C106.0 295.7 108.5 295.0 111.5 294.3C114.6 293.5 118.2 293.1 121.5 292.6C124.9 292.1 128.8 291.6 131.5 291.4C134.3 291.2 135.0 291.3 138.0 291.4C141.0 291.6 145.8 291.8 149.6 292.3C153.5 292.7 158.0 293.5 161.3 294.3C164.6 295.0 167.1 295.9 169.6 296.9C172.1 298.0 174.3 299.1 176.3 300.6C178.2 302.0 179.7 303.6 181.3 305.6C182.8 307.5 184.5 310.6 185.4 312.2C186.4 313.9 186.8 315.0 187.1 315.6L187.1 340.0L59.9 340.0Z" fill="#cb5b60"/>
<path d="M71.6 313.9C72.4 313.6 74.1 313.0 76.6 312.2C79.1 311.5 83.5 310.2 86.6 309.2C89.6 308.3 92.1 307.6 94.9 306.4C97.7 305.2 100.4 303.4 103.2 302.2C106.0 301.0 108.5 300.1 111.5 299.2C114.6 298.4 118.2 297.6 121.5 296.9C124.9 296.3 128.8 295.5 131.5 295.3C134.3 295.0 135.0 295.3 138.0 295.6C141.0 295.9 146.0 296.4 149.6 296.9C153.2 297.5 156.6 298.1 159.6 298.9C162.7 299.7 165.6 300.7 167.9 301.9C170.3 303.2 172.1 304.7 173.8 306.4C175.4 308.1 177.0 310.7 177.9 312.2C178.9 313.8 179.3 315.0 179.6 315.6L179.6 340.0L71.6 340.0Z" fill="#c83f40"/>
<path d="M81.6 314.2C82.4 313.9 84.4 313.0 86.6 312.2C88.8 311.5 92.1 310.6 94.9 309.7C97.7 308.8 100.2 307.9 103.2 306.9C106.3 305.9 109.9 304.6 113.2 303.6C116.5 302.6 119.9 301.6 123.2 300.9C126.5 300.2 130.7 299.4 133.2 299.2C135.6 299.1 135.5 299.9 138.0 300.2C140.5 300.6 144.8 300.8 148.0 301.4C151.2 302.0 154.5 302.9 157.1 303.9C159.8 304.9 161.8 305.8 163.8 307.2C165.7 308.6 167.7 310.8 168.8 312.2C169.9 313.6 170.2 315.0 170.4 315.6L170.4 340.0L81.6 340.0Z" fill="#c42728"/>
<path d="M93.2 314.2C94.1 313.9 96.0 313.1 98.2 312.2C100.4 311.4 103.5 310.2 106.6 309.2C109.6 308.3 113.2 307.3 116.5 306.4C119.9 305.5 122.9 304.3 126.5 303.9C130.1 303.5 134.7 304.0 138.0 304.2C141.3 304.5 143.8 304.9 146.3 305.6C148.8 306.2 150.9 307.0 153.0 308.1C155.0 309.2 157.5 311.0 158.8 312.2C160.0 313.5 160.2 315.0 160.5 315.6L160.5 340.0L93.2 340.0Z" fill="#c01a1c"/>
<path d="M104.9 314.2C105.7 313.9 107.4 313.1 109.9 312.2C112.4 311.4 116.5 310.1 119.9 309.2C123.2 308.3 127.1 307.2 129.9 306.9C132.6 306.6 134.1 307.0 136.3 307.2C138.5 307.5 141.0 308.0 143.0 308.6C144.9 309.2 146.7 310.1 148.0 310.9C149.2 311.7 149.9 312.8 150.5 313.6C151.0 314.3 151.2 315.2 151.3 315.6L151.3 340.0L104.9 340.0Z" fill="#bb1215"/>
</g>
<clipPath id="d3"><path d="M36.9 181.0L231.6 181.0L231.6 299.0L204.7 313.8L36.9 313.8Z"/></clipPath>
<g clip-path="url(#d3)" fill="none">
<path d="M35.0 298.1C35.7 298.5 37.5 299.6 39.1 300.6C40.8 301.5 42.6 303.2 45.0 303.9C47.3 304.6 50.2 304.9 53.3 304.7C56.3 304.6 59.9 303.9 63.3 303.1C66.6 302.2 70.2 301.1 73.3 299.7C76.3 298.4 79.4 296.7 81.6 294.8C83.8 292.8 84.9 290.2 86.6 288.1C88.2 286.0 89.6 283.7 91.6 282.3C93.5 280.9 95.5 280.3 98.2 279.8C101.0 279.3 104.6 279.5 108.2 279.3C111.8 279.1 116.0 279.0 119.9 278.6C123.8 278.2 128.5 277.1 131.5 276.9C134.5 276.8 135.0 277.3 138.0 277.6C141.0 277.9 145.8 278.1 149.6 278.6C153.5 279.1 157.7 279.8 161.3 280.6C164.9 281.4 167.9 282.5 171.3 283.6C174.6 284.7 178.2 285.9 181.3 286.9C184.3 288.0 187.1 288.7 189.6 289.8C192.1 290.8 194.3 291.7 196.2 293.1C198.2 294.5 199.7 296.4 201.2 298.1C202.8 299.7 204.1 301.4 205.4 303.1C206.6 304.7 207.8 306.5 208.7 308.1C209.7 309.6 210.8 311.5 211.2 312.2" stroke="#97979a" stroke-width="4.8" stroke-linejoin="round"/>
<path d="M35.0 188.1C35.6 188.1 36.7 188.0 38.6 187.8C40.6 187.7 43.9 187.7 46.6 187.3C49.3 187.0 52.5 186.3 55.0 185.6C57.5 185.0 60.1 184.1 61.6 183.7C63.1 183.2 63.4 183.4 64.1 182.8C64.8 182.3 65.5 180.7 65.8 180.3" stroke="#111" stroke-width="2.4" stroke-dasharray="2.4 2.45"/>
<path d="M35.0 223.3C35.6 223.3 36.7 223.3 38.6 223.3C40.6 223.2 44.1 222.7 46.6 222.8C49.2 222.9 52.2 223.1 54.1 223.9C56.0 224.8 57.7 226.3 57.9 227.8C58.2 229.2 57.0 231.1 55.8 232.8C54.6 234.4 52.6 236.1 50.8 237.7C49.0 239.4 47.0 241.3 45.0 242.7C42.9 244.2 40.3 245.6 38.6 246.6C37.0 247.5 35.6 248.2 35.0 248.6" stroke="#111" stroke-width="2.4" stroke-dasharray="2.4 2.45"/>
<path d="M137.2 179.5C136.9 180.0 136.3 182.1 135.5 182.8C134.7 183.5 133.4 183.3 132.2 183.7C130.9 184.0 130.0 184.4 128.0 185.0C126.0 185.5 122.7 186.1 119.9 187.0C117.0 187.8 113.5 188.7 110.7 190.0C107.9 191.2 105.7 192.9 103.2 194.5C100.7 196.1 98.0 197.8 95.7 199.5C93.5 201.1 91.2 202.8 89.9 204.5C88.7 206.1 88.1 207.5 88.2 209.5C88.4 211.4 89.8 213.7 90.7 216.1C91.7 218.5 92.8 221.1 94.1 223.6C95.3 226.1 97.0 228.6 98.2 231.1C99.5 233.6 100.4 236.2 101.6 238.6C102.7 240.9 103.8 243.4 104.9 245.2C106.0 247.1 106.6 248.2 108.2 249.8C109.9 251.4 112.4 253.7 114.9 254.8C117.4 255.9 120.1 256.2 123.2 256.5C126.2 256.7 130.7 256.7 133.2 256.5C135.6 256.3 135.2 255.4 138.0 255.3C140.7 255.2 145.8 255.4 149.6 255.6C153.5 255.8 157.7 256.0 161.3 256.5C164.9 257.0 167.9 257.8 171.3 258.6C174.6 259.5 177.9 260.3 181.3 261.5C184.6 262.6 188.2 264.2 191.2 265.6C194.3 267.0 197.1 268.3 199.6 269.8C202.1 271.3 204.1 272.8 206.2 274.8C208.3 276.7 210.1 279.1 212.1 281.4C214.0 283.8 216.1 286.6 217.9 288.9C219.7 291.3 221.2 293.9 222.9 295.6C224.5 297.2 226.2 297.8 227.7 298.9C229.2 300.0 231.3 301.7 232.0 302.2" stroke="#111" stroke-width="2.4" stroke-dasharray="2.4 2.45"/>
<path d="M212.1 182.0C212.5 183.1 213.4 186.7 214.6 188.6C215.7 190.6 217.3 191.7 218.7 193.6C220.1 195.6 221.6 198.4 222.9 200.3C224.1 202.2 225.0 203.8 226.2 205.3C227.4 206.8 228.5 208.1 229.9 209.5C231.3 210.8 233.7 212.9 234.5 213.6" stroke="#111" stroke-width="2.4" stroke-dasharray="2.4 2.45"/>
<path d="M133.2 194.5C131.8 195.5 128.7 196.6 126.5 197.8C124.3 199.0 122.1 200.4 119.9 202.0C117.6 203.5 115.2 205.3 113.2 207.0C111.3 208.6 109.3 210.1 108.2 211.9C107.1 213.7 106.6 215.7 106.6 217.8C106.6 219.9 107.4 222.1 108.2 224.4C109.0 226.8 110.4 229.6 111.5 231.9C112.7 234.3 113.9 236.4 114.9 238.6C115.8 240.8 116.5 243.5 117.4 245.2C118.2 247.0 118.3 248.1 119.9 249.0C121.4 249.9 123.5 250.4 126.5 250.6C129.5 250.9 134.1 250.3 138.0 250.3C141.8 250.3 145.8 250.5 149.6 250.6C153.5 250.8 157.7 250.7 161.3 251.0C164.9 251.3 167.9 251.7 171.3 252.3C174.6 252.9 177.9 253.8 181.3 254.8C184.6 255.8 187.9 257.0 191.2 258.1C194.6 259.2 198.5 260.8 201.2 261.5C204.0 262.2 206.0 262.9 207.6 262.3C209.1 261.7 209.4 259.8 210.4 258.1C211.4 256.5 212.5 254.7 213.7 252.3C215.0 250.0 216.9 246.5 217.9 244.0C218.9 241.5 219.1 239.2 219.5 237.3C220.0 235.5 220.5 234.8 220.4 232.8C220.2 230.7 219.8 227.6 218.7 225.3C217.6 222.9 215.7 220.8 213.7 218.6C211.8 216.4 209.0 214.0 207.1 211.9C205.1 209.9 203.2 208.2 202.1 206.1C201.0 204.0 200.8 201.8 200.4 199.5C200.0 197.1 200.1 194.2 199.6 192.0C199.0 189.8 198.7 187.3 197.1 186.1C195.4 185.0 192.8 185.2 189.6 185.0C186.4 184.8 182.1 184.9 177.9 185.0C173.8 185.0 168.8 185.0 164.6 185.3C160.5 185.6 156.6 186.1 153.0 186.6C149.4 187.2 146.0 187.8 143.0 188.6C139.9 189.5 136.3 190.7 134.7 191.6C133.0 192.6 134.5 193.4 133.2 194.5Z" stroke="#111" stroke-width="2.4" stroke-dasharray="2.4 2.45"/>
<path d="M207.9 262.3C209.6 262.4 215.1 262.4 217.9 262.6C220.7 262.9 222.3 263.3 224.5 264.0C226.8 264.7 230.1 266.3 231.2 266.8" stroke="#111" stroke-width="2.4" stroke-dasharray="2.4 2.45"/>
<path d="M224.7 265.2C225.0 266.8 225.7 271.4 226.1 274.6C226.5 277.8 226.8 280.9 227.3 284.3C227.7 287.7 228.2 292.6 228.6 295.0C229.1 297.5 229.6 298.3 229.8 298.9" stroke="#111" stroke-width="2.4" stroke-dasharray="2.4 2.45"/>
<path d="M35.0 269.6C35.7 269.7 37.2 269.9 39.1 270.3C41.1 270.7 43.7 271.3 46.6 271.9C49.5 272.6 53.6 273.5 56.6 273.9C59.7 274.4 62.4 275.2 64.9 274.8C67.4 274.4 69.4 273.1 71.6 271.5C73.8 269.8 76.0 267.0 78.3 264.8C80.5 262.6 82.7 260.1 84.9 258.1C87.1 256.2 89.6 254.0 91.6 253.1C93.5 252.3 94.6 252.4 96.6 253.1C98.5 253.8 100.7 255.8 103.2 257.3C105.7 258.8 108.5 261.0 111.5 262.3C114.6 263.5 118.2 264.5 121.5 264.8C124.9 265.1 128.8 264.7 131.5 264.3C134.3 263.9 135.0 262.8 138.0 262.6C141.0 262.4 145.8 262.9 149.6 263.1C153.5 263.4 157.7 263.7 161.3 264.3C164.9 264.9 167.9 265.9 171.3 267.0C174.6 268.0 178.1 269.2 181.3 270.6C184.5 272.0 187.6 273.6 190.4 275.3C193.2 276.9 195.7 278.7 197.9 280.6C200.1 282.5 201.8 284.3 203.7 286.4C205.7 288.5 207.6 291.0 209.6 293.1C211.5 295.2 213.7 297.4 215.4 298.9C217.1 300.4 218.6 301.1 219.9 302.2C221.1 303.4 222.4 305.0 222.9 305.6" stroke="#111" stroke-width="2.4" stroke-dasharray="2.4 2.45"/>
<path d="M35.0 281.9C35.7 282.3 37.2 282.9 39.1 283.9C41.1 285.0 44.0 286.6 46.6 288.1C49.3 289.6 52.2 291.7 55.0 293.1C57.7 294.5 60.8 296.1 63.3 296.4C65.8 296.7 68.0 296.0 69.9 294.8C71.9 293.5 73.3 291.1 74.9 288.9C76.6 286.7 78.0 283.8 79.9 281.4C81.9 279.1 84.4 276.7 86.6 274.8C88.8 272.8 91.0 270.8 93.2 269.8C95.5 268.8 97.4 268.6 99.9 269.0C102.4 269.3 105.2 271.1 108.2 271.9C111.3 272.8 114.9 274.0 118.2 274.3C121.5 274.6 124.9 274.2 128.2 273.6C131.5 273.1 134.4 271.3 138.0 271.0C141.6 270.6 145.8 271.1 149.6 271.5C153.5 271.8 157.7 272.4 161.3 273.1C164.9 273.9 167.9 274.8 171.3 275.9C174.6 277.1 178.2 278.4 181.3 279.8C184.3 281.2 187.1 282.6 189.6 284.3C192.1 285.9 194.1 287.9 196.2 289.8C198.4 291.6 200.2 293.6 202.2 295.6C204.2 297.5 206.4 299.7 208.2 301.4C210.0 303.1 211.7 304.5 213.1 305.9C214.4 307.3 215.7 309.1 216.2 309.7" stroke="#111" stroke-width="2.4" stroke-dasharray="2.4 2.45"/>
<path d="M36.6 313.2C37.5 313.0 38.9 312.6 41.6 311.9C44.4 311.2 49.1 310.0 53.3 308.9C57.5 307.8 62.4 306.7 66.6 305.6C70.8 304.5 74.9 303.6 78.3 302.2C81.6 300.9 84.1 299.1 86.6 297.2C89.1 295.4 91.0 293.1 93.2 291.4C95.5 289.8 97.1 288.2 99.9 287.3C102.7 286.3 106.6 286.3 109.9 285.9C113.2 285.5 116.5 285.2 119.9 284.8C123.2 284.4 126.8 284.0 129.9 283.6C132.9 283.2 134.7 282.6 138.0 282.6C141.3 282.6 145.8 283.1 149.6 283.6C153.5 284.1 157.7 284.8 161.3 285.6C164.9 286.3 167.9 287.1 171.3 288.1C174.6 289.1 178.3 290.2 181.3 291.4C184.2 292.7 186.5 293.9 188.8 295.6C191.0 297.2 192.9 299.5 194.6 301.4C196.2 303.4 197.5 305.4 198.7 307.2C200.0 309.0 201.2 310.8 202.1 312.2C202.9 313.6 203.5 315.0 203.7 315.6" stroke="#111" stroke-width="1.3"/>
<path d="M50.0 313.2C50.8 312.9 52.2 312.1 55.0 311.4C57.7 310.7 62.7 309.8 66.6 308.9C70.5 308.0 74.6 307.2 78.3 305.9C81.9 304.7 85.5 303.0 88.2 301.4C91.0 299.8 92.7 297.9 94.9 296.4C97.1 294.9 99.1 293.3 101.6 292.3C104.1 291.2 106.8 290.8 109.9 290.3C112.9 289.7 116.5 289.4 119.9 288.9C123.2 288.5 126.8 287.9 129.9 287.6C132.9 287.3 134.7 286.8 138.0 286.9C141.3 287.0 145.8 287.6 149.6 288.1C153.5 288.6 157.7 289.1 161.3 289.8C164.9 290.5 168.2 291.3 171.3 292.3C174.3 293.2 177.4 294.3 179.6 295.6C181.8 296.8 183.1 298.1 184.6 299.7C186.1 301.4 187.4 303.5 188.8 305.6C190.1 307.7 191.9 310.6 192.9 312.2C193.9 313.9 194.3 315.0 194.6 315.6" stroke="#111" stroke-width="1.3"/>
<path d="M59.9 313.6C60.8 313.3 62.2 312.6 64.9 311.9C67.7 311.2 73.0 310.2 76.6 309.2C80.2 308.2 83.5 307.2 86.6 305.9C89.6 304.6 92.1 302.9 94.9 301.4C97.7 299.9 100.4 298.1 103.2 296.9C106.0 295.7 108.5 295.0 111.5 294.3C114.6 293.5 118.2 293.1 121.5 292.6C124.9 292.1 128.8 291.6 131.5 291.4C134.3 291.2 135.0 291.3 138.0 291.4C141.0 291.6 145.8 291.8 149.6 292.3C153.5 292.7 158.0 293.5 161.3 294.3C164.6 295.0 167.1 295.9 169.6 296.9C172.1 298.0 174.3 299.1 176.3 300.6C178.2 302.0 179.7 303.6 181.3 305.6C182.8 307.5 184.5 310.6 185.4 312.2C186.4 313.9 186.8 315.0 187.1 315.6" stroke="#111" stroke-width="1.3"/>
<path d="M71.6 313.9C72.4 313.6 74.1 313.0 76.6 312.2C79.1 311.5 83.5 310.2 86.6 309.2C89.6 308.3 92.1 307.6 94.9 306.4C97.7 305.2 100.4 303.4 103.2 302.2C106.0 301.0 108.5 300.1 111.5 299.2C114.6 298.4 118.2 297.6 121.5 296.9C124.9 296.3 128.8 295.5 131.5 295.3C134.3 295.0 135.0 295.3 138.0 295.6C141.0 295.9 146.0 296.4 149.6 296.9C153.2 297.5 156.6 298.1 159.6 298.9C162.7 299.7 165.6 300.7 167.9 301.9C170.3 303.2 172.1 304.7 173.8 306.4C175.4 308.1 177.0 310.7 177.9 312.2C178.9 313.8 179.3 315.0 179.6 315.6" stroke="#111" stroke-width="1.3"/>
<path d="M81.6 314.2C82.4 313.9 84.4 313.0 86.6 312.2C88.8 311.5 92.1 310.6 94.9 309.7C97.7 308.8 100.2 307.9 103.2 306.9C106.3 305.9 109.9 304.6 113.2 303.6C116.5 302.6 119.9 301.6 123.2 300.9C126.5 300.2 130.7 299.4 133.2 299.2C135.6 299.1 135.5 299.9 138.0 300.2C140.5 300.6 144.8 300.8 148.0 301.4C151.2 302.0 154.5 302.9 157.1 303.9C159.8 304.9 161.8 305.8 163.8 307.2C165.7 308.6 167.7 310.8 168.8 312.2C169.9 313.6 170.2 315.0 170.4 315.6" stroke="#111" stroke-width="1.3"/>
<path d="M93.2 314.2C94.1 313.9 96.0 313.1 98.2 312.2C100.4 311.4 103.5 310.2 106.6 309.2C109.6 308.3 113.2 307.3 116.5 306.4C119.9 305.5 122.9 304.3 126.5 303.9C130.1 303.5 134.7 304.0 138.0 304.2C141.3 304.5 143.8 304.9 146.3 305.6C148.8 306.2 150.9 307.0 153.0 308.1C155.0 309.2 157.5 311.0 158.8 312.2C160.0 313.5 160.2 315.0 160.5 315.6" stroke="#111" stroke-width="1.3"/>
<path d="M104.9 314.2C105.7 313.9 107.4 313.1 109.9 312.2C112.4 311.4 116.5 310.1 119.9 309.2C123.2 308.3 127.1 307.2 129.9 306.9C132.6 306.6 134.1 307.0 136.3 307.2C138.5 307.5 141.0 308.0 143.0 308.6C144.9 309.2 146.7 310.1 148.0 310.9C149.2 311.7 149.9 312.8 150.5 313.6C151.0 314.3 151.2 315.2 151.3 315.6" stroke="#111" stroke-width="1.3"/>
</g>
<rect x="199.4" y="178.3" width="34.9" height="15.9" fill="#fff" fill-opacity="0.62"/>
<g stroke="#4a54b2" stroke-width="1.8" fill="none" stroke-linejoin="miter" stroke-miterlimit="6">
<rect x="37.9" y="182.1" width="1.4" height="1.4" fill="#4a54b2" stroke="none"/>
<path d="M37.5 210.6L40.8 207.3M36.3 207.3L40.8 207.3L40.8 211.8"/>
<path d="M37.5 236.6L40.3 232.8M35.8 233.5L40.3 232.8L41.0 237.3"/>
<path d="M43.0 266.0L35.3 254.8M34.4 259.7L35.3 254.8L40.2 255.7"/>
<path d="M45.3 293.1L32.5 278.1M32.1 283.1L32.5 278.1L37.5 278.5"/>
<rect x="38.4" y="310.7" width="1.4" height="1.4" fill="#4a54b2" stroke="none"/>
<rect x="67.9" y="194.9" width="1.4" height="1.4" fill="#4a54b2" stroke="none"/>
<path d="M68.8 224.9L68.8 218.9M65.3 222.4L68.8 218.9L72.3 222.4"/>
<path d="M69.9 253.2L67.4 241.9M64.7 246.1L67.4 241.9L71.6 244.6"/>
<path d="M72.9 280.9L64.6 265.6M63.2 270.4L64.6 265.6L69.4 267.0"/>
<path d="M74.9 309.7L61.9 288.6M60.7 293.5L61.9 288.6L66.8 289.8"/>
<rect x="95.5" y="182.1" width="1.4" height="1.4" fill="#4a54b2" stroke="none"/>
<path d="M95.2 211.1L97.9 206.1M93.2 207.5L97.9 206.1L99.3 210.8"/>
<path d="M93.6 241.6L99.6 227.8M94.9 229.6L99.6 227.8L101.4 232.5"/>
<path d="M96.2 269.8L96.2 250.3M92.7 253.8L96.2 250.3L99.7 253.8"/>
<path d="M99.6 299.7L92.9 271.5M90.3 275.8L92.9 271.5L97.2 274.1"/>
<path d="M100.0 325.4L92.9 298.6M90.4 302.9L92.9 298.6L97.2 301.1"/>
<path d="M121.2 197.0L124.9 193.6M120.2 193.4L124.9 193.6L124.7 198.3"/>
<path d="M119.0 225.6L126.5 218.3M121.5 218.2L126.5 218.3L126.4 223.3"/>
<path d="M120.7 257.0L124.5 237.7M120.3 240.5L124.5 237.7L127.3 241.9"/>
<path d="M121.9 283.9L123.2 259.0M119.5 262.3L123.2 259.0L126.5 262.7"/>
<path d="M123.5 315.6L121.9 281.4M118.5 285.1L121.9 281.4L125.6 284.8"/>
<path d="M144.6 180.3L148.0 185.0M148.8 180.1L148.0 185.0L143.1 184.2"/>
<path d="M144.6 211.1L149.3 206.6M144.3 206.5L149.3 206.6L149.2 211.6"/>
<path d="M144.3 241.1L149.3 228.3M144.7 230.3L149.3 228.3L151.3 232.9"/>
<path d="M144.6 273.1L148.0 248.1M144.0 251.1L148.0 248.1L151.0 252.1"/>
<path d="M143.8 301.4L148.3 271.5M144.3 274.5L148.3 271.5L151.3 275.5"/>
<path d="M142.5 328.7L150.5 295.3M146.2 297.9L150.5 295.3L153.1 299.6"/>
<path d="M170.4 194.5L173.3 198.3M173.9 193.8L173.3 198.3L168.8 197.7"/>
<path d="M172.1 225.3L173.3 218.9M169.2 221.7L173.3 218.9L176.1 223.0"/>
<path d="M171.6 256.5L174.9 238.7M170.8 241.5L174.9 238.7L177.7 242.8"/>
<path d="M167.9 286.9L177.6 260.3M173.1 262.4L177.6 260.3L179.7 264.8"/>
<path d="M167.1 311.4L177.9 286.9M173.2 288.7L177.9 286.9L179.7 291.6"/>
<rect x="200.3" y="182.1" width="1.4" height="1.4" fill="#4a54b2" stroke="none"/>
<path d="M198.7 210.6L202.9 207.8M198.3 206.9L202.9 207.8L202.0 212.4"/>
<path d="M199.9 238.9L200.9 230.3M197.0 233.4L200.9 230.3L204.0 234.2"/>
<path d="M197.1 268.1L202.9 253.1M198.3 255.1L202.9 253.1L204.9 257.7"/>
<path d="M192.9 296.9L207.6 275.9M202.7 276.8L207.6 275.9L208.5 280.8"/>
<path d="M193.3 320.4L208.7 303.6M203.7 303.8L208.7 303.6L208.9 308.6"/>
<rect x="229.2" y="194.6" width="1.4" height="1.4" fill="#4a54b2" stroke="none"/>
<path d="M227.9 222.8L232.9 220.6M228.4 218.8L232.9 220.6L231.1 225.1"/>
<path d="M228.7 250.2L232.9 243.9M228.0 244.9L232.9 243.9L233.9 248.8"/>
<path d="M227.5 278.6L232.9 268.6M228.1 270.0L232.9 268.6L234.3 273.4"/>
<rect x="229.2" y="298.5" width="1.4" height="1.4" fill="#4a54b2" stroke="none"/>
</g>
<rect x="34.8" y="178.3" width="199.5" height="136.9" fill="none" stroke="#111" stroke-width="1.5"/>
<path d="M39.1 315.2v-5M39.1 178.3v5M63.0 315.2v-5M63.0 178.3v5M86.8 315.2v-5M86.8 178.3v5M110.7 315.2v-5M110.7 178.3v5M134.6 315.2v-5M134.6 178.3v5M158.5 315.2v-5M158.5 178.3v5M182.4 315.2v-5M182.4 178.3v5M206.2 315.2v-5M206.2 178.3v5M230.1 315.2v-5M230.1 178.3v5M34.8 199.8h5M234.3 199.8h-5M34.8 223.3h5M234.3 223.3h-5M34.8 246.7h5M234.3 246.7h-5M34.8 270.1h5M234.3 270.1h-5M34.8 293.6h5M234.3 293.6h-5" stroke="#111" stroke-width="1.3" fill="none"/>
<text x="38.7" y="329.0" font-size="13.3" text-anchor="middle">-80</text>
<text x="62.6" y="329.0" font-size="13.3" text-anchor="middle">-60</text>
<text x="86.4" y="329.0" font-size="13.3" text-anchor="middle">-40</text>
<text x="110.3" y="329.0" font-size="13.3" text-anchor="middle">-20</text>
<text x="134.2" y="329.0" font-size="13.3" text-anchor="middle">0</text>
<text x="158.1" y="329.0" font-size="13.3" text-anchor="middle">20</text>
<text x="182.0" y="329.0" font-size="13.3" text-anchor="middle">40</text>
<text x="205.8" y="329.0" font-size="13.3" text-anchor="middle">60</text>
<text x="229.7" y="329.0" font-size="13.3" text-anchor="middle">80</text>
<text x="30.9" y="203.7" font-size="13.3" text-anchor="end">40</text>
<text x="30.9" y="227.2" font-size="13.3" text-anchor="end">20</text>
<text x="30.9" y="250.6" font-size="13.3" text-anchor="end">0</text>
<text x="30.9" y="274.0" font-size="13.3" text-anchor="end">-20</text>
<text x="30.9" y="297.5" font-size="13.3" text-anchor="end">-40</text>
<text x="30.9" y="182.9" font-size="13.3" text-anchor="end">60</text>
<text x="134.4" y="340.5" font-size="13.3" text-anchor="middle">x (mm)</text>
<text transform="translate(10.6 238.3) rotate(-90)" font-size="13.3" text-anchor="middle">y (mm)</text>
<text x="232.6" y="191.7" font-size="10.8" text-anchor="end" textLength="34.0" lengthAdjust="spacingAndGlyphs">6.6 ms</text>
<clipPath id="c4"><path d="M280.4 182.4L472.3 182.4L472.3 298.6L446.1 311.6L280.4 311.6Z"/></clipPath>
<g clip-path="url(#c4)">
<path d="M250 160L500 160L500 340L250 340Z" fill="#a2ce8a"/>
<path d="M277.1 206.6C277.7 206.7 278.7 206.8 280.5 207.0C282.3 207.1 285.1 207.6 288.0 207.8C290.9 207.9 294.9 208.0 298.0 207.8C301.0 207.6 303.8 207.2 306.3 206.6C308.8 206.1 310.4 205.5 312.9 204.5C315.4 203.4 318.5 201.8 321.3 200.3C324.0 198.8 327.1 197.0 329.6 195.3C332.1 193.6 334.2 191.8 336.2 190.3C338.3 188.8 340.1 187.3 342.1 186.1C344.0 185.0 346.5 184.0 347.9 183.3C349.3 182.7 349.6 183.0 350.4 182.3C351.2 181.7 352.5 180.0 352.9 179.5L353.0 160.0L250.0 160.0L250.0 206.0Z" fill="#c5e1b5"/>
<path d="M416.8 180.3C416.5 180.8 416.5 182.3 415.1 183.3C413.7 184.3 410.4 185.0 408.5 186.1C406.5 187.3 404.6 188.9 403.5 190.3C402.3 191.7 401.7 192.9 401.8 194.5C401.9 196.0 402.9 198.2 404.3 199.5C405.7 200.8 407.9 201.9 410.1 202.3C412.3 202.7 415.0 202.3 417.6 202.0C420.2 201.6 423.2 200.8 425.9 200.0C428.7 199.1 431.9 198.1 434.2 197.0C436.6 195.9 438.7 194.6 440.1 193.3C441.5 192.1 441.9 191.3 442.6 189.5C443.3 187.6 443.8 184.0 444.2 182.3C444.7 180.7 444.9 180.0 445.1 179.5L445.0 160.0L416.0 160.0Z" fill="#8cc266"/>
<path d="M305.4 265.3C303.9 265.8 302.0 266.8 301.3 268.1C300.5 269.4 300.5 271.3 300.9 273.1C301.4 274.9 302.6 277.3 303.8 278.9C304.9 280.6 306.6 282.3 307.9 283.1C309.3 283.9 310.7 284.3 312.1 283.9C313.5 283.5 315.0 282.1 316.3 280.6C317.5 279.1 319.1 276.6 319.6 274.8C320.1 273.0 320.0 271.2 319.3 269.8C318.6 268.4 316.9 267.3 315.4 266.5C314.0 265.6 312.1 265.0 310.4 264.8C308.8 264.6 307.0 264.7 305.4 265.3Z" fill="#8cc266"/>
<path d="M311.3 289.8C310.2 290.0 308.7 291.0 307.9 291.9C307.2 292.9 306.5 294.4 306.6 295.6C306.7 296.8 307.8 298.6 308.8 299.2C309.8 299.9 311.5 300.1 312.6 299.7C313.7 299.4 314.9 298.4 315.4 297.2C316.0 296.1 316.1 294.2 315.9 293.1C315.7 292.0 315.0 291.1 314.3 290.6C313.5 290.0 312.3 289.5 311.3 289.8Z" fill="#8cc266"/>
<path d="M475.9 214.4C475.2 214.8 473.6 216.0 472.2 216.6C470.8 217.2 469.7 217.5 467.5 218.3C465.4 219.0 462.3 220.2 459.2 221.1C456.2 222.0 452.6 222.8 449.2 223.6C445.9 224.3 442.6 225.1 439.2 225.6C435.9 226.1 432.6 226.4 429.3 226.6C425.9 226.8 422.6 226.6 419.3 226.9C415.9 227.2 412.6 227.6 409.3 228.3C406.0 229.0 402.6 229.9 399.3 231.1C396.0 232.3 392.6 233.7 389.3 235.2C386.0 236.8 382.4 238.8 379.3 240.2C376.3 241.7 373.7 242.6 371.0 243.9C368.3 245.2 365.3 246.6 362.9 248.1C360.4 249.7 358.4 251.3 356.2 253.1C354.0 254.9 351.4 257.0 349.6 259.0C347.7 260.9 346.2 262.6 345.4 264.8C344.6 267.0 344.8 269.6 344.6 272.3C344.3 274.9 344.3 278.1 343.7 280.6C343.2 283.1 342.5 285.0 341.2 287.3C340.0 289.5 337.9 291.7 336.2 293.9C334.6 296.1 332.9 298.7 331.2 300.6C329.6 302.5 328.5 304.1 326.2 305.2C324.0 306.4 321.0 306.9 317.9 307.6C314.9 308.2 311.0 308.7 307.9 309.2C304.9 309.7 301.7 310.1 299.6 310.6C297.5 311.0 296.8 311.0 295.5 311.7C294.1 312.4 292.0 314.2 291.3 314.7L291.0 340.0L500.0 340.0L500.0 214.0Z" fill="#c5e1b5"/>
<path d="M341.2 316.4C341.5 315.6 342.3 313.2 342.9 311.4C343.4 309.6 343.6 308.2 344.6 305.6C345.5 302.9 347.2 299.2 348.7 295.6C350.2 292.0 351.9 287.8 353.7 283.9C355.5 280.0 357.5 275.9 359.5 272.3C361.6 268.7 364.0 265.2 366.2 262.3C368.4 259.4 370.6 256.9 372.9 254.8C375.1 252.7 377.9 251.2 379.5 249.8C381.1 248.4 380.5 247.7 382.7 246.5C384.8 245.2 389.0 243.4 392.6 242.3C396.2 241.2 400.7 240.4 404.3 239.8C407.9 239.2 410.9 238.8 414.3 238.7C417.6 238.5 420.9 238.5 424.3 239.0C427.6 239.5 430.9 240.5 434.2 241.5C437.6 242.5 441.2 243.7 444.2 244.8C447.3 245.9 450.2 247.0 452.6 248.1C454.9 249.3 456.9 250.1 458.4 251.5C459.9 252.9 461.0 254.7 461.7 256.5C462.4 258.3 462.1 260.4 462.5 262.3C463.0 264.2 463.4 265.9 464.2 268.1C465.0 270.3 466.4 273.0 467.5 275.6C468.6 278.2 470.1 282.0 470.9 283.9C471.6 285.8 471.6 285.7 472.2 286.9C472.8 288.2 473.9 290.7 474.2 291.4L500.0 292.0L500.0 340.0L341.0 340.0Z" fill="#ffffff"/>
<path d="M352.9 316.4C353.1 315.6 353.8 312.8 354.2 311.4C354.6 310.0 354.6 310.1 355.4 308.1C356.1 306.0 357.6 302.1 358.7 298.9C359.8 295.7 360.8 292.1 362.0 288.9C363.3 285.7 364.7 282.7 366.2 279.8C367.7 276.9 369.2 273.9 371.2 271.5C373.1 269.0 375.9 266.9 377.8 264.8C379.8 262.7 380.2 260.6 382.7 259.0C385.1 257.3 389.0 256.0 392.6 254.8C396.2 253.6 400.7 252.7 404.3 252.0C407.9 251.2 410.7 250.4 414.3 250.3C417.9 250.2 422.0 250.7 425.9 251.5C429.8 252.2 434.2 253.7 437.6 254.8C440.9 255.9 443.4 256.5 445.9 258.1C448.4 259.8 450.6 262.4 452.6 264.8C454.5 267.2 456.0 269.6 457.6 272.3C459.1 274.9 460.6 277.8 461.7 280.6C462.8 283.4 463.5 286.2 464.2 288.9C464.9 291.7 465.4 295.0 465.9 297.2C466.4 299.5 466.8 300.6 467.2 302.2C467.6 303.9 468.2 306.4 468.4 307.2L500.0 307.0L500.0 340.0L353.0 340.0Z" fill="#e9b9ba"/>
<path d="M365.4 316.4C365.6 315.6 366.0 313.8 366.5 311.4C367.1 309.0 367.9 305.4 368.7 302.2C369.5 299.1 370.2 295.6 371.2 292.3C372.2 288.9 373.1 285.2 374.5 282.3C375.9 279.4 378.2 277.0 379.5 274.8C380.9 272.6 380.5 270.8 382.7 269.0C384.8 267.2 389.0 265.2 392.6 264.0C396.2 262.7 400.7 262.0 404.3 261.5C407.9 260.9 410.7 260.5 414.3 260.6C417.9 260.8 422.0 261.5 425.9 262.3C429.8 263.1 434.2 264.2 437.6 265.6C440.9 267.0 443.7 268.7 445.9 270.6C448.1 272.6 449.6 274.8 450.9 277.3C452.1 279.8 452.8 282.8 453.4 285.6C453.9 288.4 454.1 291.1 454.2 293.9C454.3 296.7 454.0 300.0 453.9 302.2C453.8 304.5 453.6 305.3 453.4 307.2C453.2 309.2 453.0 312.8 452.9 313.9L453.0 340.0L365.0 340.0Z" fill="#d78286"/>
<path d="M377.7 316.4C377.7 315.6 377.6 314.0 377.7 311.4C377.7 308.8 377.8 304.0 378.0 300.6C378.2 297.1 378.5 293.4 379.0 290.6C379.5 287.8 379.8 286.0 381.0 283.9C382.2 281.9 383.8 279.8 386.0 278.1C388.2 276.4 391.3 275.1 394.3 273.9C397.4 272.8 401.0 272.1 404.3 271.5C407.6 270.8 411.5 269.8 414.3 269.8C417.0 269.8 418.4 270.5 420.9 271.5C423.4 272.4 426.5 274.2 429.3 275.6C432.0 277.0 435.1 278.5 437.6 279.8C440.1 281.0 443.3 281.0 444.2 283.1C445.2 285.2 443.7 289.1 443.4 292.3C443.1 295.4 442.7 299.3 442.6 302.2C442.5 305.2 442.8 307.4 442.9 309.7C443.0 312.1 443.2 315.3 443.2 316.4L443.0 340.0L377.0 340.0Z" fill="#cb5b60"/>
<path d="M389.3 283.9C390.4 282.5 394.6 283.9 397.6 283.9C400.7 283.9 404.3 283.7 407.6 283.9C410.9 284.2 414.8 284.6 417.6 285.3C420.4 286.0 422.5 286.8 424.3 288.1C426.1 289.4 427.7 291.4 428.4 293.1C429.1 294.8 429.1 296.4 428.4 298.1C427.7 299.7 426.3 301.8 424.3 303.1C422.2 304.3 419.3 304.9 415.9 305.6C412.6 306.3 407.6 306.8 404.3 307.2C401.0 307.7 397.9 308.1 396.0 308.1C394.0 308.1 393.3 308.5 392.6 307.2C391.9 306.0 392.1 303.1 391.8 300.6C391.5 298.1 391.4 295.0 391.0 292.3C390.6 289.5 388.2 285.3 389.3 283.9Z" fill="#c83f40"/>
</g>
<clipPath id="d4"><path d="M278.8 180.8L473.9 180.8L473.9 299.0L446.9 313.2L278.8 313.2Z"/></clipPath>
<g clip-path="url(#d4)" fill="none">
<path d="M341.2 316.4C341.5 315.6 342.3 313.2 342.9 311.4C343.4 309.6 343.6 308.2 344.6 305.6C345.5 302.9 347.2 299.2 348.7 295.6C350.2 292.0 351.9 287.8 353.7 283.9C355.5 280.0 357.5 275.9 359.5 272.3C361.6 268.7 364.0 265.2 366.2 262.3C368.4 259.4 370.6 256.9 372.9 254.8C375.1 252.7 377.9 251.2 379.5 249.8C381.1 248.4 380.5 247.7 382.7 246.5C384.8 245.2 389.0 243.4 392.6 242.3C396.2 241.2 400.7 240.4 404.3 239.8C407.9 239.2 410.9 238.8 414.3 238.7C417.6 238.5 420.9 238.5 424.3 239.0C427.6 239.5 430.9 240.5 434.2 241.5C437.6 242.5 441.2 243.7 444.2 244.8C447.3 245.9 450.2 247.0 452.6 248.1C454.9 249.3 456.9 250.1 458.4 251.5C459.9 252.9 461.0 254.7 461.7 256.5C462.4 258.3 462.1 260.4 462.5 262.3C463.0 264.2 463.4 265.9 464.2 268.1C465.0 270.3 466.4 273.0 467.5 275.6C468.6 278.2 470.1 282.0 470.9 283.9C471.6 285.8 471.6 285.7 472.2 286.9C472.8 288.2 473.9 290.7 474.2 291.4" stroke="#97979a" stroke-width="4.8" stroke-linejoin="round"/>
<path d="M277.1 206.6C277.7 206.7 278.7 206.8 280.5 207.0C282.3 207.1 285.1 207.6 288.0 207.8C290.9 207.9 294.9 208.0 298.0 207.8C301.0 207.6 303.8 207.2 306.3 206.6C308.8 206.1 310.4 205.5 312.9 204.5C315.4 203.4 318.5 201.8 321.3 200.3C324.0 198.8 327.1 197.0 329.6 195.3C332.1 193.6 334.2 191.8 336.2 190.3C338.3 188.8 340.1 187.3 342.1 186.1C344.0 185.0 346.5 184.0 347.9 183.3C349.3 182.7 349.6 183.0 350.4 182.3C351.2 181.7 352.5 180.0 352.9 179.5" stroke="#111" stroke-width="2.4" stroke-dasharray="2.4 2.45"/>
<path d="M281.0 227.3C281.3 227.8 282.4 229.1 282.6 230.3C282.9 231.4 282.6 233.1 282.3 233.9C282.0 234.7 281.2 235.0 281.0 235.2" stroke="#111" stroke-width="2.4" stroke-dasharray="2.4 2.45"/>
<path d="M416.8 180.3C416.5 180.8 416.5 182.3 415.1 183.3C413.7 184.3 410.4 185.0 408.5 186.1C406.5 187.3 404.6 188.9 403.5 190.3C402.3 191.7 401.7 192.9 401.8 194.5C401.9 196.0 402.9 198.2 404.3 199.5C405.7 200.8 407.9 201.9 410.1 202.3C412.3 202.7 415.0 202.3 417.6 202.0C420.2 201.6 423.2 200.8 425.9 200.0C428.7 199.1 431.9 198.1 434.2 197.0C436.6 195.9 438.7 194.6 440.1 193.3C441.5 192.1 441.9 191.3 442.6 189.5C443.3 187.6 443.8 184.0 444.2 182.3C444.7 180.7 444.9 180.0 445.1 179.5" stroke="#111" stroke-width="2.4" stroke-dasharray="2.4 2.45"/>
<path d="M305.4 265.3C303.9 265.8 302.0 266.8 301.3 268.1C300.5 269.4 300.5 271.3 300.9 273.1C301.4 274.9 302.6 277.3 303.8 278.9C304.9 280.6 306.6 282.3 307.9 283.1C309.3 283.9 310.7 284.3 312.1 283.9C313.5 283.5 315.0 282.1 316.3 280.6C317.5 279.1 319.1 276.6 319.6 274.8C320.1 273.0 320.0 271.2 319.3 269.8C318.6 268.4 316.9 267.3 315.4 266.5C314.0 265.6 312.1 265.0 310.4 264.8C308.8 264.6 307.0 264.7 305.4 265.3Z" stroke="#111" stroke-width="2.4" stroke-dasharray="2.4 2.45"/>
<path d="M311.3 289.8C310.2 290.0 308.7 291.0 307.9 291.9C307.2 292.9 306.5 294.4 306.6 295.6C306.7 296.8 307.8 298.6 308.8 299.2C309.8 299.9 311.5 300.1 312.6 299.7C313.7 299.4 314.9 298.4 315.4 297.2C316.0 296.1 316.1 294.2 315.9 293.1C315.7 292.0 315.0 291.1 314.3 290.6C313.5 290.0 312.3 289.5 311.3 289.8Z" stroke="#111" stroke-width="2.4" stroke-dasharray="2.4 2.45"/>
<path d="M475.9 214.4C475.2 214.8 473.6 216.0 472.2 216.6C470.8 217.2 469.7 217.5 467.5 218.3C465.4 219.0 462.3 220.2 459.2 221.1C456.2 222.0 452.6 222.8 449.2 223.6C445.9 224.3 442.6 225.1 439.2 225.6C435.9 226.1 432.6 226.4 429.3 226.6C425.9 226.8 422.6 226.6 419.3 226.9C415.9 227.2 412.6 227.6 409.3 228.3C406.0 229.0 402.6 229.9 399.3 231.1C396.0 232.3 392.6 233.7 389.3 235.2C386.0 236.8 382.4 238.8 379.3 240.2C376.3 241.7 373.7 242.6 371.0 243.9C368.3 245.2 365.3 246.6 362.9 248.1C360.4 249.7 358.4 251.3 356.2 253.1C354.0 254.9 351.4 257.0 349.6 259.0C347.7 260.9 346.2 262.6 345.4 264.8C344.6 267.0 344.8 269.6 344.6 272.3C344.3 274.9 344.3 278.1 343.7 280.6C343.2 283.1 342.5 285.0 341.2 287.3C340.0 289.5 337.9 291.7 336.2 293.9C334.6 296.1 332.9 298.7 331.2 300.6C329.6 302.5 328.5 304.1 326.2 305.2C324.0 306.4 321.0 306.9 317.9 307.6C314.9 308.2 311.0 308.7 307.9 309.2C304.9 309.7 301.7 310.1 299.6 310.6C297.5 311.0 296.8 311.0 295.5 311.7C294.1 312.4 292.0 314.2 291.3 314.7" stroke="#111" stroke-width="2.4" stroke-dasharray="2.4 2.45"/>
<path d="M352.9 316.4C353.1 315.6 353.8 312.8 354.2 311.4C354.6 310.0 354.6 310.1 355.4 308.1C356.1 306.0 357.6 302.1 358.7 298.9C359.8 295.7 360.8 292.1 362.0 288.9C363.3 285.7 364.7 282.7 366.2 279.8C367.7 276.9 369.2 273.9 371.2 271.5C373.1 269.0 375.9 266.9 377.8 264.8C379.8 262.7 380.2 260.6 382.7 259.0C385.1 257.3 389.0 256.0 392.6 254.8C396.2 253.6 400.7 252.7 404.3 252.0C407.9 251.2 410.7 250.4 414.3 250.3C417.9 250.2 422.0 250.7 425.9 251.5C429.8 252.2 434.2 253.7 437.6 254.8C440.9 255.9 443.4 256.5 445.9 258.1C448.4 259.8 450.6 262.4 452.6 264.8C454.5 267.2 456.0 269.6 457.6 272.3C459.1 274.9 460.6 277.8 461.7 280.6C462.8 283.4 463.5 286.2 464.2 288.9C464.9 291.7 465.4 295.0 465.9 297.2C466.4 299.5 466.8 300.6 467.2 302.2C467.6 303.9 468.2 306.4 468.4 307.2" stroke="#111" stroke-width="1.3"/>
<path d="M365.4 316.4C365.6 315.6 366.0 313.8 366.5 311.4C367.1 309.0 367.9 305.4 368.7 302.2C369.5 299.1 370.2 295.6 371.2 292.3C372.2 288.9 373.1 285.2 374.5 282.3C375.9 279.4 378.2 277.0 379.5 274.8C380.9 272.6 380.5 270.8 382.7 269.0C384.8 267.2 389.0 265.2 392.6 264.0C396.2 262.7 400.7 262.0 404.3 261.5C407.9 260.9 410.7 260.5 414.3 260.6C417.9 260.8 422.0 261.5 425.9 262.3C429.8 263.1 434.2 264.2 437.6 265.6C440.9 267.0 443.7 268.7 445.9 270.6C448.1 272.6 449.6 274.8 450.9 277.3C452.1 279.8 452.8 282.8 453.4 285.6C453.9 288.4 454.1 291.1 454.2 293.9C454.3 296.7 454.0 300.0 453.9 302.2C453.8 304.5 453.6 305.3 453.4 307.2C453.2 309.2 453.0 312.8 452.9 313.9" stroke="#111" stroke-width="1.3"/>
<path d="M377.7 316.4C377.7 315.6 377.6 314.0 377.7 311.4C377.7 308.8 377.8 304.0 378.0 300.6C378.2 297.1 378.5 293.4 379.0 290.6C379.5 287.8 379.8 286.0 381.0 283.9C382.2 281.9 383.8 279.8 386.0 278.1C388.2 276.4 391.3 275.1 394.3 273.9C397.4 272.8 401.0 272.1 404.3 271.5C407.6 270.8 411.5 269.8 414.3 269.8C417.0 269.8 418.4 270.5 420.9 271.5C423.4 272.4 426.5 274.2 429.3 275.6C432.0 277.0 435.1 278.5 437.6 279.8C440.1 281.0 443.3 281.0 444.2 283.1C445.2 285.2 443.7 289.1 443.4 292.3C443.1 295.4 442.7 299.3 442.6 302.2C442.5 305.2 442.8 307.4 442.9 309.7C443.0 312.1 443.2 315.3 443.2 316.4" stroke="#111" stroke-width="1.3"/>
<path d="M389.3 283.9C390.4 282.5 394.6 283.9 397.6 283.9C400.7 283.9 404.3 283.7 407.6 283.9C410.9 284.2 414.8 284.6 417.6 285.3C420.4 286.0 422.5 286.8 424.3 288.1C426.1 289.4 427.7 291.4 428.4 293.1C429.1 294.8 429.1 296.4 428.4 298.1C427.7 299.7 426.3 301.8 424.3 303.1C422.2 304.3 419.3 304.9 415.9 305.6C412.6 306.3 407.6 306.8 404.3 307.2C401.0 307.7 397.9 308.1 396.0 308.1C394.0 308.1 393.3 308.5 392.6 307.2C391.9 306.0 392.1 303.1 391.8 300.6C391.5 298.1 391.4 295.0 391.0 292.3C390.6 289.5 388.2 285.3 389.3 283.9Z" stroke="#111" stroke-width="1.3"/>
</g>
<rect x="441.6" y="178.3" width="34.3" height="15.9" fill="#fff" fill-opacity="0.62"/>
<g stroke="#4a54b2" stroke-width="1.8" fill="none" stroke-linejoin="miter" stroke-miterlimit="6">
<rect x="280.3" y="181.6" width="1.4" height="1.4" fill="#4a54b2" stroke="none"/>
<rect x="280.3" y="207.1" width="1.4" height="1.4" fill="#4a54b2" stroke="none"/>
<rect x="280.9" y="232.9" width="1.4" height="1.4" fill="#4a54b2" stroke="none"/>
<rect x="280.3" y="259.1" width="1.4" height="1.4" fill="#4a54b2" stroke="none"/>
<path d="M279.6 287.3L283.8 283.6M278.9 283.3L283.8 283.6L283.5 288.5"/>
<rect x="280.3" y="310.7" width="1.4" height="1.4" fill="#4a54b2" stroke="none"/>
<rect x="310.2" y="194.6" width="1.4" height="1.4" fill="#4a54b2" stroke="none"/>
<rect x="310.2" y="220.4" width="1.4" height="1.4" fill="#4a54b2" stroke="none"/>
<path d="M309.3 249.9L314.3 245.3M309.3 245.1L314.3 245.3L314.1 250.3"/>
<path d="M309.6 274.3L312.9 270.3M308.2 270.8L312.9 270.3L313.4 275.0"/>
<path d="M312.9 299.7L308.3 295.9M308.8 300.9L308.3 295.9L313.3 295.4"/>
<rect x="337.5" y="181.6" width="1.4" height="1.4" fill="#4a54b2" stroke="none"/>
<path d="M336.2 206.6L339.9 211.1M340.4 206.1L339.9 211.1L334.9 210.6"/>
<path d="M338.7 236.1L338.7 232.3M335.8 235.2L338.7 232.3L341.6 235.2"/>
<path d="M340.4 262.3L336.2 257.3M335.8 262.3L336.2 257.3L341.2 257.7"/>
<path d="M340.4 288.6L336.2 281.9M335.1 286.8L336.2 281.9L341.1 283.0"/>
<path d="M342.6 314.2L334.9 307.2M335.1 312.2L334.9 307.2L339.9 307.0"/>
<rect x="364.2" y="194.6" width="1.4" height="1.4" fill="#4a54b2" stroke="none"/>
<path d="M364.9 224.4L364.9 218.3M361.4 221.8L364.9 218.3L368.4 221.8"/>
<path d="M366.5 250.6L362.9 242.7M361.1 247.4L362.9 242.7L367.6 244.5"/>
<path d="M369.2 276.9L360.9 268.1M360.8 273.1L360.9 268.1L365.9 268.2"/>
<path d="M370.4 302.2L359.5 293.6M360.1 298.6L359.5 293.6L364.5 293.0"/>
<path d="M386.8 181.7L390.1 185.0M390.1 180.5L390.1 185.0L385.6 185.0"/>
<path d="M388.5 211.6L388.5 205.3M385.0 208.8L388.5 205.3L392.0 208.8"/>
<path d="M388.5 238.6L387.6 228.9M384.4 232.7L387.6 228.9L391.4 232.1"/>
<path d="M391.0 266.5L385.1 253.1M383.3 257.8L385.1 253.1L389.8 254.9"/>
<path d="M391.8 291.4L384.6 279.3M383.4 284.1L384.6 279.3L389.4 280.5"/>
<path d="M391.8 315.9L384.6 306.4M383.9 311.4L384.6 306.4L389.6 307.1"/>
<path d="M414.6 197.8L414.6 192.8M411.3 196.1L414.6 192.8L417.9 196.1"/>
<path d="M414.6 226.9L414.6 216.1M411.1 219.6L414.6 216.1L418.1 219.6"/>
<path d="M414.6 254.4L415.1 238.9M411.5 242.3L415.1 238.9L418.5 242.5"/>
<path d="M414.6 278.6L414.6 267.0M411.1 270.5L414.6 267.0L418.1 270.5"/>
<path d="M414.6 303.1L415.1 294.8M411.4 298.1L415.1 294.8L418.4 298.5"/>
<path d="M441.7 182.0L445.1 182.3M442.6 179.3L445.1 182.3L442.1 184.8"/>
<path d="M442.2 211.6L442.2 205.3M438.7 208.8L442.2 205.3L445.7 208.8"/>
<path d="M440.9 238.6L444.2 228.9M439.7 231.1L444.2 228.9L446.4 233.4"/>
<path d="M439.2 266.0L444.2 253.6M439.6 255.6L444.2 253.6L446.2 258.2"/>
<path d="M438.4 290.9L445.9 279.8M441.0 280.8L445.9 279.8L446.9 284.7"/>
<path d="M439.2 315.6L445.9 307.2M440.9 307.8L445.9 307.2L446.5 312.2"/>
<rect x="471.8" y="194.3" width="1.4" height="1.4" fill="#4a54b2" stroke="none"/>
<path d="M470.0 218.9L475.0 221.9M473.8 217.0L475.0 221.9L470.1 223.1"/>
<path d="M470.9 250.2L474.5 243.2M469.7 244.7L474.5 243.2L476.0 248.0"/>
<path d="M467.5 276.4L476.2 268.6M471.2 268.3L476.2 268.6L475.9 273.6"/>
<rect x="471.5" y="297.4" width="1.4" height="1.4" fill="#4a54b2" stroke="none"/>
</g>
<rect x="277.0" y="178.3" width="198.9" height="136.9" fill="none" stroke="#111" stroke-width="1.5"/>
<path d="M281.3 315.2v-5M281.3 178.3v5M305.2 315.2v-5M305.2 178.3v5M329.0 315.2v-5M329.0 178.3v5M352.9 315.2v-5M352.9 178.3v5M376.8 315.2v-5M376.8 178.3v5M400.7 315.2v-5M400.7 178.3v5M424.6 315.2v-5M424.6 178.3v5M448.4 315.2v-5M448.4 178.3v5M472.3 315.2v-5M472.3 178.3v5M277.0 199.8h5M475.9 199.8h-5M277.0 223.3h5M475.9 223.3h-5M277.0 246.7h5M475.9 246.7h-5M277.0 270.1h5M475.9 270.1h-5M277.0 293.6h5M475.9 293.6h-5" stroke="#111" stroke-width="1.3" fill="none"/>
<text x="280.9" y="329.0" font-size="13.3" text-anchor="middle">-80</text>
<text x="304.8" y="329.0" font-size="13.3" text-anchor="middle">-60</text>
<text x="328.6" y="329.0" font-size="13.3" text-anchor="middle">-40</text>
<text x="352.5" y="329.0" font-size="13.3" text-anchor="middle">-20</text>
<text x="376.4" y="329.0" font-size="13.3" text-anchor="middle">0</text>
<text x="400.3" y="329.0" font-size="13.3" text-anchor="middle">20</text>
<text x="424.2" y="329.0" font-size="13.3" text-anchor="middle">40</text>
<text x="448.0" y="329.0" font-size="13.3" text-anchor="middle">60</text>
<text x="471.9" y="329.0" font-size="13.3" text-anchor="middle">80</text>
<text x="273.1" y="203.7" font-size="13.3" text-anchor="end">40</text>
<text x="273.1" y="227.2" font-size="13.3" text-anchor="end">20</text>
<text x="273.1" y="250.6" font-size="13.3" text-anchor="end">0</text>
<text x="273.1" y="274.0" font-size="13.3" text-anchor="end">-20</text>
<text x="273.1" y="297.5" font-size="13.3" text-anchor="end">-40</text>
<text x="273.1" y="182.9" font-size="13.3" text-anchor="end">60</text>
<text x="376.6" y="340.5" font-size="13.3" text-anchor="middle">x (mm)</text>
<text transform="translate(252.8 238.3) rotate(-90)" font-size="13.3" text-anchor="middle">y (mm)</text>
<text x="474.2" y="191.7" font-size="10.8" text-anchor="end" textLength="34.0" lengthAdjust="spacingAndGlyphs">7.0 ms</text>
<clipPath id="c5"><path d="M524.5 182.7L715.6 182.7L715.6 298.6L688.9 311.0L524.5 311.0Z"/></clipPath>
<g clip-path="url(#c5)">
<path d="M500 160L740 160L740 340L500 340Z" fill="#c5e1b5"/>
<path d="M520.8 183.7C521.5 183.9 522.8 184.5 524.6 185.3C526.4 186.1 529.1 187.4 531.6 188.6C534.2 189.9 537.5 191.3 540.0 192.8C542.5 194.3 544.8 196.0 546.6 197.8C548.4 199.6 549.9 201.8 550.8 203.6C551.7 205.4 551.9 207.0 551.9 208.6C551.9 210.3 551.7 211.9 550.8 213.6C549.9 215.3 548.4 217.1 546.6 218.6C544.8 220.1 542.3 221.5 540.0 222.8C537.6 224.0 535.0 225.0 532.5 226.1C530.0 227.2 526.9 228.6 525.0 229.4C523.0 230.3 521.5 230.8 520.8 231.1L500.0 231.0L500.0 184.0Z" fill="#ffffff"/>
<path d="M720.8 197.5C719.7 197.4 716.7 197.4 714.2 197.3C711.7 197.2 708.9 197.0 705.9 197.0C702.8 196.9 699.2 197.0 695.9 197.0C692.5 196.9 688.7 197.0 685.9 196.6C683.1 196.2 681.7 195.4 679.2 194.5C676.7 193.6 673.7 191.9 670.9 191.1C668.1 190.4 665.4 190.1 662.6 190.0C659.8 189.9 656.8 189.9 654.3 190.6C651.8 191.4 649.5 192.7 647.6 194.5C645.7 196.2 644.6 198.6 642.6 201.1C640.7 203.6 638.5 207.0 636.0 209.5C633.5 211.9 630.4 214.0 627.6 216.1C624.9 218.2 621.7 219.9 619.3 221.9C617.0 224.0 614.8 226.1 613.5 228.6C612.2 231.1 611.8 233.9 611.3 236.9C610.8 240.0 610.7 244.3 610.7 246.9C610.6 249.5 610.5 249.7 611.0 252.3C611.5 254.9 612.4 259.0 613.5 262.3C614.6 265.6 616.3 269.0 617.6 272.3C619.0 275.6 620.6 278.9 621.8 282.3C623.1 285.6 624.3 288.9 625.1 292.3C626.0 295.6 626.7 299.2 626.8 302.2C626.9 305.3 626.2 308.3 626.0 310.6C625.7 312.8 625.3 314.7 625.1 315.6L625.0 340.0L740.0 340.0L740.0 197.0Z" fill="#ffffff"/>
<path d="M520.8 298.1C521.5 297.5 523.4 296.1 525.0 294.8C526.5 293.4 528.0 292.1 530.0 289.8C531.9 287.4 534.4 283.5 536.6 280.6C538.8 277.7 540.8 274.8 543.3 272.3C545.8 269.8 548.6 267.4 551.6 265.6C554.7 263.8 558.3 262.9 561.6 261.5C564.9 260.1 568.8 258.5 571.6 257.3C574.4 256.1 576.2 254.8 578.2 254.3C580.3 253.8 582.4 253.7 584.1 254.3C585.7 254.9 586.7 256.0 588.2 258.1C589.7 260.3 591.4 264.2 593.2 267.3C595.0 270.3 597.1 273.4 599.0 276.4C601.0 279.5 603.1 283.0 604.9 285.6C606.7 288.2 608.7 290.3 609.9 292.3C611.0 294.2 611.9 295.6 611.9 297.2C611.9 298.9 611.0 300.6 609.9 302.2C608.7 303.9 606.1 305.8 604.9 307.2C603.6 308.6 603.2 309.3 602.4 310.6C601.5 311.8 600.3 314.0 599.9 314.7L600.0 340.0L500.0 340.0L500.0 298.0Z" fill="#a2ce8a"/>
<path d="M715.8 262.3C715.3 260.9 714.0 256.6 712.9 254.0C711.7 251.3 710.9 248.7 709.2 246.5C707.5 244.3 705.0 242.3 702.5 240.7C700.0 239.0 696.7 237.3 694.2 236.5C691.7 235.7 690.3 237.0 687.6 236.1C684.8 235.2 680.9 232.8 677.6 231.1C674.2 229.4 670.6 227.5 667.6 226.1C664.5 224.7 661.8 222.9 659.3 222.8C656.8 222.6 655.1 223.9 652.6 225.3C650.1 226.6 647.0 229.0 644.3 231.1C641.5 233.2 638.2 235.1 636.0 237.7C633.7 240.4 632.2 244.8 631.0 246.9C629.7 249.0 629.2 248.6 628.5 250.6C627.8 252.7 626.8 255.9 626.8 259.0C626.8 262.0 627.6 265.6 628.5 269.0C629.3 272.3 630.5 275.3 631.8 278.9C633.0 282.5 634.7 287.0 636.0 290.6C637.2 294.2 637.9 297.8 639.3 300.6C640.7 303.4 642.3 305.6 644.3 307.2C646.2 308.9 649.0 309.3 650.9 310.6C652.9 311.8 655.1 314.0 655.9 314.7L656.0 340.0L740.0 340.0L740.0 262.0Z" fill="#e9b9ba"/>
<path d="M650.9 240.7C648.6 241.8 646.6 244.0 645.1 246.5C643.6 249.0 642.5 252.4 641.8 255.6C641.1 258.8 640.7 262.3 640.9 265.6C641.2 269.0 642.3 272.0 643.4 275.6C644.6 279.2 646.4 283.7 647.6 287.3C648.9 290.9 649.3 294.6 650.9 297.2C652.6 299.9 654.8 301.5 657.6 303.1C660.4 304.6 664.2 305.4 667.6 306.4C670.9 307.4 674.8 308.2 677.6 308.9C680.3 309.6 682.0 310.8 684.2 310.6C686.4 310.3 689.1 309.2 690.9 307.2C692.7 305.3 693.9 301.7 695.0 298.9C696.2 296.1 697.3 293.4 697.5 290.6C697.8 287.8 696.7 285.0 696.7 282.3C696.7 279.5 697.3 277.0 697.5 273.9C697.8 270.9 698.6 267.0 698.4 264.0C698.1 260.9 697.7 258.1 695.9 255.6C694.1 253.1 690.6 250.8 687.6 249.0C684.5 247.2 680.9 246.1 677.6 244.8C674.2 243.6 670.6 242.3 667.6 241.5C664.5 240.7 662.0 240.0 659.3 239.8C656.5 239.7 653.3 239.5 650.9 240.7Z" fill="#d78286"/>
<path d="M656.8 269.8C657.4 268.8 657.9 267.5 659.3 266.5C660.6 265.4 663.1 264.3 665.1 263.6C667.0 263.0 669.4 262.4 670.9 262.6C672.4 262.8 673.6 263.6 673.9 264.8C674.2 266.0 673.7 268.1 672.9 269.8C672.1 271.5 670.8 273.6 669.2 274.8C667.7 276.0 665.2 276.8 663.4 276.9C661.6 277.1 659.7 276.3 658.4 275.6C657.1 274.9 655.9 273.6 655.6 272.6C655.3 271.6 656.1 270.8 656.8 269.8Z" fill="#cb5b60"/>
</g>
<clipPath id="d5"><path d="M522.9 181.1L717.2 181.1L717.2 299.0L689.7 312.6L522.9 312.6Z"/></clipPath>
<g clip-path="url(#d5)" fill="none">
<path d="M520.8 183.7C521.5 183.9 522.8 184.5 524.6 185.3C526.4 186.1 529.1 187.4 531.6 188.6C534.2 189.9 537.5 191.3 540.0 192.8C542.5 194.3 544.8 196.0 546.6 197.8C548.4 199.6 549.9 201.8 550.8 203.6C551.7 205.4 551.9 207.0 551.9 208.6C551.9 210.3 551.7 211.9 550.8 213.6C549.9 215.3 548.4 217.1 546.6 218.6C544.8 220.1 542.3 221.5 540.0 222.8C537.6 224.0 535.0 225.0 532.5 226.1C530.0 227.2 526.9 228.6 525.0 229.4C523.0 230.3 521.5 230.8 520.8 231.1" stroke="#97979a" stroke-width="4.8" stroke-linejoin="round"/>
<path d="M720.8 197.5C719.7 197.4 716.7 197.4 714.2 197.3C711.7 197.2 708.9 197.0 705.9 197.0C702.8 196.9 699.2 197.0 695.9 197.0C692.5 196.9 688.7 197.0 685.9 196.6C683.1 196.2 681.7 195.4 679.2 194.5C676.7 193.6 673.7 191.9 670.9 191.1C668.1 190.4 665.4 190.1 662.6 190.0C659.8 189.9 656.8 189.9 654.3 190.6C651.8 191.4 649.5 192.7 647.6 194.5C645.7 196.2 644.6 198.6 642.6 201.1C640.7 203.6 638.5 207.0 636.0 209.5C633.5 211.9 630.4 214.0 627.6 216.1C624.9 218.2 621.7 219.9 619.3 221.9C617.0 224.0 614.8 226.1 613.5 228.6C612.2 231.1 611.8 233.9 611.3 236.9C610.8 240.0 610.7 244.3 610.7 246.9C610.6 249.5 610.5 249.7 611.0 252.3C611.5 254.9 612.4 259.0 613.5 262.3C614.6 265.6 616.3 269.0 617.6 272.3C619.0 275.6 620.6 278.9 621.8 282.3C623.1 285.6 624.3 288.9 625.1 292.3C626.0 295.6 626.7 299.2 626.8 302.2C626.9 305.3 626.2 308.3 626.0 310.6C625.7 312.8 625.3 314.7 625.1 315.6" stroke="#97979a" stroke-width="4.8" stroke-linejoin="round"/>
<path d="M520.8 298.1C521.5 297.5 523.4 296.1 525.0 294.8C526.5 293.4 528.0 292.1 530.0 289.8C531.9 287.4 534.4 283.5 536.6 280.6C538.8 277.7 540.8 274.8 543.3 272.3C545.8 269.8 548.6 267.4 551.6 265.6C554.7 263.8 558.3 262.9 561.6 261.5C564.9 260.1 568.8 258.5 571.6 257.3C574.4 256.1 576.2 254.8 578.2 254.3C580.3 253.8 582.4 253.7 584.1 254.3C585.7 254.9 586.7 256.0 588.2 258.1C589.7 260.3 591.4 264.2 593.2 267.3C595.0 270.3 597.1 273.4 599.0 276.4C601.0 279.5 603.1 283.0 604.9 285.6C606.7 288.2 608.7 290.3 609.9 292.3C611.0 294.2 611.9 295.6 611.9 297.2C611.9 298.9 611.0 300.6 609.9 302.2C608.7 303.9 606.1 305.8 604.9 307.2C603.6 308.6 603.2 309.3 602.4 310.6C601.5 311.8 600.3 314.0 599.9 314.7" stroke="#111" stroke-width="2.4" stroke-dasharray="2.4 2.45"/>
<path d="M715.8 262.3C715.3 260.9 714.0 256.6 712.9 254.0C711.7 251.3 710.9 248.7 709.2 246.5C707.5 244.3 705.0 242.3 702.5 240.7C700.0 239.0 696.7 237.3 694.2 236.5C691.7 235.7 690.3 237.0 687.6 236.1C684.8 235.2 680.9 232.8 677.6 231.1C674.2 229.4 670.6 227.5 667.6 226.1C664.5 224.7 661.8 222.9 659.3 222.8C656.8 222.6 655.1 223.9 652.6 225.3C650.1 226.6 647.0 229.0 644.3 231.1C641.5 233.2 638.2 235.1 636.0 237.7C633.7 240.4 632.2 244.8 631.0 246.9C629.7 249.0 629.2 248.6 628.5 250.6C627.8 252.7 626.8 255.9 626.8 259.0C626.8 262.0 627.6 265.6 628.5 269.0C629.3 272.3 630.5 275.3 631.8 278.9C633.0 282.5 634.7 287.0 636.0 290.6C637.2 294.2 637.9 297.8 639.3 300.6C640.7 303.4 642.3 305.6 644.3 307.2C646.2 308.9 649.0 309.3 650.9 310.6C652.9 311.8 655.1 314.0 655.9 314.7" stroke="#111" stroke-width="1.3"/>
<path d="M650.9 240.7C648.6 241.8 646.6 244.0 645.1 246.5C643.6 249.0 642.5 252.4 641.8 255.6C641.1 258.8 640.7 262.3 640.9 265.6C641.2 269.0 642.3 272.0 643.4 275.6C644.6 279.2 646.4 283.7 647.6 287.3C648.9 290.9 649.3 294.6 650.9 297.2C652.6 299.9 654.8 301.5 657.6 303.1C660.4 304.6 664.2 305.4 667.6 306.4C670.9 307.4 674.8 308.2 677.6 308.9C680.3 309.6 682.0 310.8 684.2 310.6C686.4 310.3 689.1 309.2 690.9 307.2C692.7 305.3 693.9 301.7 695.0 298.9C696.2 296.1 697.3 293.4 697.5 290.6C697.8 287.8 696.7 285.0 696.7 282.3C696.7 279.5 697.3 277.0 697.5 273.9C697.8 270.9 698.6 267.0 698.4 264.0C698.1 260.9 697.7 258.1 695.9 255.6C694.1 253.1 690.6 250.8 687.6 249.0C684.5 247.2 680.9 246.1 677.6 244.8C674.2 243.6 670.6 242.3 667.6 241.5C664.5 240.7 662.0 240.0 659.3 239.8C656.5 239.7 653.3 239.5 650.9 240.7Z" stroke="#111" stroke-width="1.3"/>
<path d="M656.8 269.8C657.4 268.8 657.9 267.5 659.3 266.5C660.6 265.4 663.1 264.3 665.1 263.6C667.0 263.0 669.4 262.4 670.9 262.6C672.4 262.8 673.6 263.6 673.9 264.8C674.2 266.0 673.7 268.1 672.9 269.8C672.1 271.5 670.8 273.6 669.2 274.8C667.7 276.0 665.2 276.8 663.4 276.9C661.6 277.1 659.7 276.3 658.4 275.6C657.1 274.9 655.9 273.6 655.6 272.6C655.3 271.6 656.1 270.8 656.8 269.8Z" stroke="#111" stroke-width="1.3"/>
</g>
<rect x="684.4" y="178.3" width="35.0" height="15.9" fill="#fff" fill-opacity="0.62"/>
<g stroke="#4a54b2" stroke-width="1.8" fill="none" stroke-linejoin="miter" stroke-miterlimit="6">
<rect x="523.9" y="182.1" width="1.4" height="1.4" fill="#4a54b2" stroke="none"/>
<rect x="523.9" y="233.2" width="1.4" height="1.4" fill="#4a54b2" stroke="none"/>
<rect x="525.1" y="259.1" width="1.4" height="1.4" fill="#4a54b2" stroke="none"/>
<rect x="523.9" y="284.6" width="1.4" height="1.4" fill="#4a54b2" stroke="none"/>
<rect x="523.9" y="310.2" width="1.4" height="1.4" fill="#4a54b2" stroke="none"/>
<rect x="553.4" y="194.9" width="1.4" height="1.4" fill="#4a54b2" stroke="none"/>
<rect x="553.4" y="220.4" width="1.4" height="1.4" fill="#4a54b2" stroke="none"/>
<rect x="553.4" y="246.0" width="1.4" height="1.4" fill="#4a54b2" stroke="none"/>
<path d="M554.9 269.8L551.6 273.6M556.3 273.3L551.6 273.6L551.3 268.9"/>
<rect x="553.4" y="297.4" width="1.4" height="1.4" fill="#4a54b2" stroke="none"/>
<rect x="580.9" y="182.1" width="1.4" height="1.4" fill="#4a54b2" stroke="none"/>
<rect x="580.9" y="207.6" width="1.4" height="1.4" fill="#4a54b2" stroke="none"/>
<rect x="580.9" y="233.2" width="1.4" height="1.4" fill="#4a54b2" stroke="none"/>
<path d="M583.2 261.5L579.9 257.3M579.3 262.1L579.9 257.3L584.7 257.9"/>
<path d="M583.2 313.1L580.7 307.2M578.8 311.8L580.7 307.2L585.3 309.1"/>
<rect x="607.2" y="194.9" width="1.4" height="1.4" fill="#4a54b2" stroke="none"/>
<rect x="607.2" y="220.4" width="1.4" height="1.4" fill="#4a54b2" stroke="none"/>
<path d="M610.0 247.5L605.8 245.8M607.5 249.9L605.8 245.8L609.9 244.1"/>
<path d="M611.5 272.0L604.5 273.1M608.5 276.0L604.5 273.1L607.4 269.1"/>
<path d="M612.9 296.9L603.5 298.9M607.7 301.6L603.5 298.9L606.2 294.7"/>
<rect x="630.6" y="182.1" width="1.4" height="1.4" fill="#4a54b2" stroke="none"/>
<path d="M632.6 209.5L629.3 207.0M629.9 211.2L629.3 207.0L633.5 206.4"/>
<path d="M633.0 236.1L628.5 231.1M628.2 236.1L628.5 231.1L633.5 231.4"/>
<path d="M636.0 259.3L627.3 259.0M630.7 262.7L627.3 259.0L631.0 255.6"/>
<path d="M636.0 283.9L627.6 285.3M631.7 288.2L627.6 285.3L630.5 281.2"/>
<path d="M635.1 310.9L628.0 310.9M631.5 314.4L628.0 310.9L631.5 307.4"/>
<path d="M658.4 199.5L657.6 192.0M654.5 195.9L657.6 192.0L661.5 195.1"/>
<path d="M658.4 222.8L655.9 219.4M655.3 223.6L655.9 219.4L660.1 220.0"/>
<path d="M659.6 249.9L654.6 242.7M653.7 247.6L654.6 242.7L659.5 243.6"/>
<path d="M659.3 272.0L655.1 272.6M658.5 275.2L655.1 272.6L657.7 269.2"/>
<path d="M659.6 295.6L655.9 299.7M660.8 299.4L655.9 299.7L655.6 294.8"/>
<path d="M685.9 184.0L683.4 181.7M683.6 185.6L683.4 181.7L687.3 181.5"/>
<path d="M686.7 209.9L682.9 206.6M683.2 211.3L682.9 206.6L687.6 206.3"/>
<path d="M685.1 236.9L685.1 230.6M681.6 234.1L685.1 230.6L688.6 234.1"/>
<path d="M687.6 261.5L682.6 258.1M683.5 263.0L682.6 258.1L687.5 257.2"/>
<path d="M687.6 283.9L682.2 286.9M687.0 288.3L682.2 286.9L683.6 282.1"/>
<rect x="684.4" y="309.9" width="1.4" height="1.4" fill="#4a54b2" stroke="none"/>
<rect x="714.3" y="195.4" width="1.4" height="1.4" fill="#4a54b2" stroke="none"/>
<path d="M715.8 221.9L712.2 220.6M714.0 224.3L712.2 220.6L715.9 218.8"/>
<path d="M715.8 247.2L712.2 246.1M714.1 249.7L712.2 246.1L715.8 244.2"/>
<path d="M715.8 274.0L712.2 271.0M712.6 275.5L712.2 271.0L716.7 270.6"/>
<rect x="714.3" y="296.9" width="1.4" height="1.4" fill="#4a54b2" stroke="none"/>
</g>
<ellipse cx="527.3" cy="257" rx="3.0" ry="5.2" fill="#97979a"/>
<path d="M579.0 285.3h2.0M581.9 285.3h2.0" stroke="#111" stroke-width="2.2" fill="none"/>
<circle cx="525.3" cy="208.3" r="1.1" fill="#223"/>
<rect x="519.8" y="178.3" width="199.6" height="136.9" fill="none" stroke="#111" stroke-width="1.5"/>
<path d="M524.1 315.2v-5M524.1 178.3v5M548.0 315.2v-5M548.0 178.3v5M571.8 315.2v-5M571.8 178.3v5M595.7 315.2v-5M595.7 178.3v5M619.6 315.2v-5M619.6 178.3v5M643.5 315.2v-5M643.5 178.3v5M667.4 315.2v-5M667.4 178.3v5M691.2 315.2v-5M691.2 178.3v5M715.1 315.2v-5M715.1 178.3v5M519.8 199.8h5M719.4 199.8h-5M519.8 223.3h5M719.4 223.3h-5M519.8 246.7h5M719.4 246.7h-5M519.8 270.1h5M719.4 270.1h-5M519.8 293.6h5M719.4 293.6h-5" stroke="#111" stroke-width="1.3" fill="none"/>
<text x="523.7" y="329.0" font-size="13.3" text-anchor="middle">-80</text>
<text x="547.6" y="329.0" font-size="13.3" text-anchor="middle">-60</text>
<text x="571.4" y="329.0" font-size="13.3" text-anchor="middle">-40</text>
<text x="595.3" y="329.0" font-size="13.3" text-anchor="middle">-20</text>
<text x="619.2" y="329.0" font-size="13.3" text-anchor="middle">0</text>
<text x="643.1" y="329.0" font-size="13.3" text-anchor="middle">20</text>
<text x="667.0" y="329.0" font-size="13.3" text-anchor="middle">40</text>
<text x="690.8" y="329.0" font-size="13.3" text-anchor="middle">60</text>
<text x="714.7" y="329.0" font-size="13.3" text-anchor="middle">80</text>
<text x="515.9" y="203.7" font-size="13.3" text-anchor="end">40</text>
<text x="515.9" y="227.2" font-size="13.3" text-anchor="end">20</text>
<text x="515.9" y="250.6" font-size="13.3" text-anchor="end">0</text>
<text x="515.9" y="274.0" font-size="13.3" text-anchor="end">-20</text>
<text x="515.9" y="297.5" font-size="13.3" text-anchor="end">-40</text>
<text x="515.9" y="182.9" font-size="13.3" text-anchor="end">60</text>
<text x="619.4" y="340.5" font-size="13.3" text-anchor="middle">x (mm)</text>
<text transform="translate(495.6 238.3) rotate(-90)" font-size="13.3" text-anchor="middle">y (mm)</text>
<text x="717.7" y="191.7" font-size="10.8" text-anchor="end" textLength="34.0" lengthAdjust="spacingAndGlyphs">7.4 ms</text>
<clipPath id="c6"><path d="M41.6 353.5L231.2 353.5L231.2 467.0L204.8 479.6L41.6 479.6Z"/></clipPath>
<g clip-path="url(#c6)">
<path d="M36.1 450.9C37.1 450.5 39.8 449.0 41.6 448.1C43.4 447.2 45.0 446.6 47.0 445.6C49.0 444.6 51.1 443.7 53.6 442.3C56.1 440.9 59.6 439.1 61.9 437.3C64.3 435.5 66.0 433.7 67.8 431.5C69.6 429.2 71.6 426.3 72.8 424.0C74.0 421.6 75.1 419.5 74.9 417.3C74.8 415.1 73.0 412.9 71.9 410.7C70.9 408.4 69.3 406.4 68.6 403.6C67.9 400.7 67.6 396.6 67.8 393.6C67.9 390.5 69.3 388.0 69.4 385.3C69.6 382.5 69.4 379.7 68.6 377.0C67.8 374.2 65.7 370.9 64.4 368.6C63.2 366.4 61.8 365.2 61.1 363.6C60.5 362.1 60.1 360.6 60.6 359.5C61.2 358.4 62.0 357.5 64.4 357.0C66.9 356.4 71.2 356.4 75.3 356.1C79.3 355.9 84.1 355.6 88.6 355.3C93.0 355.0 97.5 354.6 101.9 354.5C106.3 354.3 110.8 354.4 115.2 354.5C119.6 354.6 124.9 354.7 128.5 355.0C132.1 355.3 135.2 355.5 136.8 356.1C138.5 356.8 138.8 357.3 138.5 358.6C138.2 360.0 136.6 362.3 135.2 364.5C133.8 366.7 131.9 369.3 130.2 372.0C128.5 374.6 126.3 377.8 125.2 380.3C124.1 382.8 123.5 384.2 123.5 386.9C123.5 389.7 124.4 393.6 125.2 396.9C126.0 400.3 127.8 404.1 128.5 406.9C129.2 409.7 130.1 411.1 129.4 413.6C128.7 416.0 125.5 419.3 124.4 421.5C123.3 423.6 122.7 424.7 122.7 426.5C122.7 428.3 123.4 430.4 124.4 432.3C125.3 434.2 126.7 436.2 128.5 438.1C130.3 440.1 132.7 441.3 135.2 443.9C137.6 446.6 140.9 450.9 143.3 453.9C145.8 457.0 147.8 459.6 150.0 462.3C152.2 464.9 154.4 467.7 156.6 469.7C158.9 471.8 161.1 473.5 163.3 474.7C165.5 476.0 167.9 476.5 169.9 477.2C172.0 477.9 174.1 478.4 175.8 478.9C177.4 479.4 179.2 480.0 179.9 480.2L180.0 500.0L0.0 500.0L0.0 451.0Z" fill="#c5e1b5"/>
<path d="M205.7 352.0C205.3 352.7 204.8 354.9 203.2 356.1C201.7 357.4 199.1 358.0 196.6 359.5C194.1 361.0 191.3 363.5 188.3 365.3C185.2 367.1 181.6 368.9 178.3 370.3C174.9 371.7 171.3 372.6 168.3 373.6C165.2 374.7 162.2 375.6 160.0 376.6C157.7 377.6 156.2 378.3 155.0 379.5C153.7 380.6 152.9 381.8 152.5 383.6C152.1 385.4 152.2 387.8 152.5 390.3C152.7 392.8 153.7 396.0 154.1 398.6C154.6 401.2 155.1 403.6 155.0 406.1C154.8 408.6 154.4 411.4 153.3 413.6C152.2 415.7 149.4 417.0 148.3 419.0C147.2 421.0 146.5 423.6 146.6 425.6C146.8 427.7 147.8 429.5 149.1 431.5C150.5 433.4 153.0 435.5 155.0 437.3C156.9 439.1 159.0 440.5 160.8 442.3C162.6 444.1 164.0 446.3 165.8 448.1C167.6 449.9 169.3 451.7 171.6 453.1C174.0 454.5 177.2 456.0 179.9 456.4C182.7 456.8 185.5 456.0 188.3 455.6C191.0 455.2 194.4 454.5 196.6 453.9C198.8 453.3 200.2 451.9 201.6 451.9C203.0 451.9 203.5 452.5 204.9 453.9C206.3 455.4 208.2 458.4 209.9 460.6C211.6 462.8 213.4 465.4 214.9 467.2C216.4 469.1 217.7 470.4 219.0 471.9C220.4 473.5 222.5 475.8 223.2 476.6L260.0 500.0L260.0 330.0L206.0 330.0Z" fill="#e9b9ba"/>
<path d="M66.6 483.9C66.8 483.2 67.3 481.4 67.8 479.7C68.2 478.1 68.7 475.8 69.4 473.9C70.1 472.0 70.4 469.6 71.9 468.1C73.5 466.6 76.1 465.9 78.6 464.8C81.1 463.6 84.1 462.3 86.9 461.4C89.7 460.6 92.7 459.8 95.2 459.8C97.7 459.8 99.7 460.6 101.9 461.4C104.1 462.3 106.1 463.4 108.6 464.8C111.0 466.1 114.1 468.1 116.9 469.7C119.6 471.4 122.7 473.2 125.2 474.7C127.7 476.3 129.9 477.7 131.9 478.9C133.8 480.1 136.0 481.7 136.8 482.2L137.0 500.0L66.0 500.0Z" fill="#a2ce8a"/>
<path d="M169.9 391.1C170.4 389.6 171.6 388.6 173.3 387.8C174.9 386.9 177.6 386.2 179.9 386.1C182.3 386.0 185.5 386.2 187.4 386.9C189.4 387.6 190.3 388.7 191.6 390.3C192.8 391.8 193.8 394.2 194.9 396.1C196.0 398.0 198.1 400.3 198.2 401.9C198.4 403.6 197.1 404.6 195.7 406.1C194.4 407.6 192.0 409.4 189.9 411.1C187.8 412.7 185.5 414.6 183.3 416.1C181.0 417.5 178.5 419.2 176.6 419.9C174.7 420.6 172.8 420.7 171.6 420.2C170.4 419.7 169.8 418.6 169.6 416.9C169.4 415.2 169.9 412.5 170.3 410.2C170.6 408.0 171.5 405.8 171.6 403.6C171.7 401.4 171.1 399.0 170.8 396.9C170.5 394.8 169.5 392.6 169.9 391.1Z" fill="#d78286"/>
<path d="M234.0 381.9C233.6 382.4 231.9 383.5 231.2 384.4C230.4 385.4 229.9 386.5 229.5 387.8C229.2 389.0 229.0 390.4 229.0 391.9C229.1 393.5 229.5 395.3 229.9 396.9C230.2 398.6 230.7 400.6 231.2 401.9C231.7 403.3 232.6 404.4 232.9 404.9L260.0 405.0L260.0 382.0Z" fill="#d78286"/>
</g>
<clipPath id="d6"><path d="M40.0 351.9L232.8 351.9L232.8 467.4L205.6 481.2L40.0 481.2Z"/></clipPath>
<g clip-path="url(#d6)" fill="none">
<path d="M36.1 450.9C37.1 450.5 39.8 449.0 41.6 448.1C43.4 447.2 45.0 446.6 47.0 445.6C49.0 444.6 51.1 443.7 53.6 442.3C56.1 440.9 59.6 439.1 61.9 437.3C64.3 435.5 66.0 433.7 67.8 431.5C69.6 429.2 71.6 426.3 72.8 424.0C74.0 421.6 75.1 419.5 74.9 417.3C74.8 415.1 73.0 412.9 71.9 410.7C70.9 408.4 69.3 406.4 68.6 403.6C67.9 400.7 67.6 396.6 67.8 393.6C67.9 390.5 69.3 388.0 69.4 385.3C69.6 382.5 69.4 379.7 68.6 377.0C67.8 374.2 65.7 370.9 64.4 368.6C63.2 366.4 61.8 365.2 61.1 363.6C60.5 362.1 60.1 360.6 60.6 359.5C61.2 358.4 62.0 357.5 64.4 357.0C66.9 356.4 71.2 356.4 75.3 356.1C79.3 355.9 84.1 355.6 88.6 355.3C93.0 355.0 97.5 354.6 101.9 354.5C106.3 354.3 110.8 354.4 115.2 354.5C119.6 354.6 124.9 354.7 128.5 355.0C132.1 355.3 135.2 355.5 136.8 356.1C138.5 356.8 138.8 357.3 138.5 358.6C138.2 360.0 136.6 362.3 135.2 364.5C133.8 366.7 131.9 369.3 130.2 372.0C128.5 374.6 126.3 377.8 125.2 380.3C124.1 382.8 123.5 384.2 123.5 386.9C123.5 389.7 124.4 393.6 125.2 396.9C126.0 400.3 127.8 404.1 128.5 406.9C129.2 409.7 130.1 411.1 129.4 413.6C128.7 416.0 125.5 419.3 124.4 421.5C123.3 423.6 122.7 424.7 122.7 426.5C122.7 428.3 123.4 430.4 124.4 432.3C125.3 434.2 126.7 436.2 128.5 438.1C130.3 440.1 132.7 441.3 135.2 443.9C137.6 446.6 140.9 450.9 143.3 453.9C145.8 457.0 147.8 459.6 150.0 462.3C152.2 464.9 154.4 467.7 156.6 469.7C158.9 471.8 161.1 473.5 163.3 474.7C165.5 476.0 167.9 476.5 169.9 477.2C172.0 477.9 174.1 478.4 175.8 478.9C177.4 479.4 179.2 480.0 179.9 480.2" stroke="#97979a" stroke-width="4.8" stroke-linejoin="round"/>
<path d="M66.6 483.9C66.8 483.2 67.3 481.4 67.8 479.7C68.2 478.1 68.7 475.8 69.4 473.9C70.1 472.0 70.4 469.6 71.9 468.1C73.5 466.6 76.1 465.9 78.6 464.8C81.1 463.6 84.1 462.3 86.9 461.4C89.7 460.6 92.7 459.8 95.2 459.8C97.7 459.8 99.7 460.6 101.9 461.4C104.1 462.3 106.1 463.4 108.6 464.8C111.0 466.1 114.1 468.1 116.9 469.7C119.6 471.4 122.7 473.2 125.2 474.7C127.7 476.3 129.9 477.7 131.9 478.9C133.8 480.1 136.0 481.7 136.8 482.2" stroke="#111" stroke-width="2.4" stroke-dasharray="2.4 2.45"/>
<path d="M205.7 352.0C205.3 352.7 204.8 354.9 203.2 356.1C201.7 357.4 199.1 358.0 196.6 359.5C194.1 361.0 191.3 363.5 188.3 365.3C185.2 367.1 181.6 368.9 178.3 370.3C174.9 371.7 171.3 372.6 168.3 373.6C165.2 374.7 162.2 375.6 160.0 376.6C157.7 377.6 156.2 378.3 155.0 379.5C153.7 380.6 152.9 381.8 152.5 383.6C152.1 385.4 152.2 387.8 152.5 390.3C152.7 392.8 153.7 396.0 154.1 398.6C154.6 401.2 155.1 403.6 155.0 406.1C154.8 408.6 154.4 411.4 153.3 413.6C152.2 415.7 149.4 417.0 148.3 419.0C147.2 421.0 146.5 423.6 146.6 425.6C146.8 427.7 147.8 429.5 149.1 431.5C150.5 433.4 153.0 435.5 155.0 437.3C156.9 439.1 159.0 440.5 160.8 442.3C162.6 444.1 164.0 446.3 165.8 448.1C167.6 449.9 169.3 451.7 171.6 453.1C174.0 454.5 177.2 456.0 179.9 456.4C182.7 456.8 185.5 456.0 188.3 455.6C191.0 455.2 194.4 454.5 196.6 453.9C198.8 453.3 200.2 451.9 201.6 451.9C203.0 451.9 203.5 452.5 204.9 453.9C206.3 455.4 208.2 458.4 209.9 460.6C211.6 462.8 213.4 465.4 214.9 467.2C216.4 469.1 217.7 470.4 219.0 471.9C220.4 473.5 222.5 475.8 223.2 476.6" stroke="#111" stroke-width="1.3"/>
<path d="M169.9 391.1C170.4 389.6 171.6 388.6 173.3 387.8C174.9 386.9 177.6 386.2 179.9 386.1C182.3 386.0 185.5 386.2 187.4 386.9C189.4 387.6 190.3 388.7 191.6 390.3C192.8 391.8 193.8 394.2 194.9 396.1C196.0 398.0 198.1 400.3 198.2 401.9C198.4 403.6 197.1 404.6 195.7 406.1C194.4 407.6 192.0 409.4 189.9 411.1C187.8 412.7 185.5 414.6 183.3 416.1C181.0 417.5 178.5 419.2 176.6 419.9C174.7 420.6 172.8 420.7 171.6 420.2C170.4 419.7 169.8 418.6 169.6 416.9C169.4 415.2 169.9 412.5 170.3 410.2C170.6 408.0 171.5 405.8 171.6 403.6C171.7 401.4 171.1 399.0 170.8 396.9C170.5 394.8 169.5 392.6 169.9 391.1Z" stroke="#111" stroke-width="1.3"/>
<path d="M234.0 381.9C233.6 382.4 231.9 383.5 231.2 384.4C230.4 385.4 229.9 386.5 229.5 387.8C229.2 389.0 229.0 390.4 229.0 391.9C229.1 393.5 229.5 395.3 229.9 396.9C230.2 398.6 230.7 400.6 231.2 401.9C231.7 403.3 232.6 404.4 232.9 404.9" stroke="#111" stroke-width="1.3"/>
</g>
<rect x="200.4" y="347.6" width="36.3" height="15.9" fill="#fff" fill-opacity="0.62"/>
<g stroke="#4a54b2" stroke-width="1.8" fill="none" stroke-linejoin="miter" stroke-miterlimit="6">
<rect x="40.9" y="352.1" width="1.4" height="1.4" fill="#4a54b2" stroke="none"/>
<rect x="40.9" y="377.6" width="1.4" height="1.4" fill="#4a54b2" stroke="none"/>
<rect x="40.9" y="403.2" width="1.4" height="1.4" fill="#4a54b2" stroke="none"/>
<rect x="40.9" y="428.3" width="1.4" height="1.4" fill="#4a54b2" stroke="none"/>
<path d="M39.5 452.3L43.6 455.9M43.3 451.1L43.6 455.9L38.8 456.2"/>
<rect x="40.9" y="479.0" width="1.4" height="1.4" fill="#4a54b2" stroke="none"/>
<rect x="70.4" y="364.9" width="1.4" height="1.4" fill="#4a54b2" stroke="none"/>
<rect x="70.4" y="390.4" width="1.4" height="1.4" fill="#4a54b2" stroke="none"/>
<path d="M69.9 416.1L72.8 416.1M70.2 413.5L72.8 416.1L70.2 418.7"/>
<path d="M71.9 439.8L68.3 443.1M72.9 443.3L68.3 443.1L68.5 438.5"/>
<path d="M69.4 465.6L72.8 468.9M72.7 464.4L72.8 468.9L68.3 469.0"/>
<rect x="97.5" y="352.1" width="1.4" height="1.4" fill="#4a54b2" stroke="none"/>
<rect x="97.5" y="377.6" width="1.4" height="1.4" fill="#4a54b2" stroke="none"/>
<rect x="97.5" y="403.2" width="1.4" height="1.4" fill="#4a54b2" stroke="none"/>
<rect x="97.5" y="428.3" width="1.4" height="1.4" fill="#4a54b2" stroke="none"/>
<path d="M96.1 452.6L101.6 454.8M99.6 450.2L101.6 454.8L97.0 456.8"/>
<path d="M98.2 476.4L98.2 482.2M101.7 478.7L98.2 482.2L94.7 478.7"/>
<rect x="123.7" y="364.9" width="1.4" height="1.4" fill="#4a54b2" stroke="none"/>
<rect x="123.7" y="390.4" width="1.4" height="1.4" fill="#4a54b2" stroke="none"/>
<path d="M123.9 415.2L127.2 416.9M126.0 413.0L127.2 416.9L123.3 418.1"/>
<path d="M126.9 439.8L122.7 443.6M127.6 443.8L122.7 443.6L122.9 438.7"/>
<path d="M121.9 465.9L127.7 468.6M126.0 463.9L127.7 468.6L123.0 470.3"/>
<path d="M150.8 351.7L146.3 355.3M151.3 355.9L146.3 355.3L146.9 350.3"/>
<path d="M150.0 376.1L146.6 380.6M151.5 379.9L146.6 380.6L145.9 375.7"/>
<path d="M150.0 403.9L145.3 403.9M148.5 407.1L145.3 403.9L148.5 400.7"/>
<path d="M150.0 427.3L146.3 430.6M150.9 430.9L146.3 430.6L146.6 426.0"/>
<path d="M150.0 453.1L145.8 456.4M150.6 457.0L145.8 456.4L146.4 451.6"/>
<path d="M150.0 478.1L145.8 481.9M150.7 482.1L145.8 481.9L146.0 477.0"/>
<path d="M176.9 364.0L172.4 368.3M177.4 368.4L172.4 368.3L172.5 363.3"/>
<path d="M174.9 388.6L172.4 392.8M176.9 391.7L172.4 392.8L171.3 388.3"/>
<path d="M174.9 413.6L172.4 417.7M176.8 416.6L172.4 417.7L171.3 413.3"/>
<path d="M175.8 439.8L171.6 443.1M176.4 443.7L171.6 443.1L172.2 438.3"/>
<path d="M176.3 465.6L171.3 469.2M176.2 470.0L171.3 469.2L172.1 464.3"/>
<path d="M201.6 353.7L199.1 352.3M200.1 355.8L199.1 352.3L202.6 351.3"/>
<rect x="200.5" y="377.1" width="1.4" height="1.4" fill="#4a54b2" stroke="none"/>
<rect x="200.5" y="402.9" width="1.4" height="1.4" fill="#4a54b2" stroke="none"/>
<rect x="200.5" y="428.3" width="1.4" height="1.4" fill="#4a54b2" stroke="none"/>
<path d="M203.2 455.6L199.9 451.4M199.3 456.2L199.9 451.4L204.7 452.0"/>
<path d="M203.2 478.1L199.1 481.9M204.0 482.1L199.1 481.9L199.3 477.0"/>
<rect x="230.0" y="364.9" width="1.4" height="1.4" fill="#4a54b2" stroke="none"/>
<rect x="230.0" y="390.4" width="1.4" height="1.4" fill="#4a54b2" stroke="none"/>
<rect x="230.0" y="415.9" width="1.4" height="1.4" fill="#4a54b2" stroke="none"/>
<rect x="230.0" y="441.2" width="1.4" height="1.4" fill="#4a54b2" stroke="none"/>
<rect x="230.0" y="466.5" width="1.4" height="1.4" fill="#4a54b2" stroke="none"/>
</g>
<rect x="36.2" y="347.6" width="200.5" height="137.4" fill="none" stroke="#111" stroke-width="1.5"/>
<path d="M41.6 485.0v-5M41.6 347.6v5M65.3 485.0v-5M65.3 347.6v5M88.9 485.0v-5M88.9 347.6v5M112.6 485.0v-5M112.6 347.6v5M136.2 485.0v-5M136.2 347.6v5M159.8 485.0v-5M159.8 347.6v5M183.5 485.0v-5M183.5 347.6v5M207.1 485.0v-5M207.1 347.6v5M230.8 485.0v-5M230.8 347.6v5M36.2 370.5h5M236.7 370.5h-5M36.2 393.4h5M236.7 393.4h-5M36.2 416.3h5M236.7 416.3h-5M36.2 439.2h5M236.7 439.2h-5M36.2 462.1h5M236.7 462.1h-5" stroke="#111" stroke-width="1.3" fill="none"/>
<text x="41.2" y="498.8" font-size="13.3" text-anchor="middle">-80</text>
<text x="64.9" y="498.8" font-size="13.3" text-anchor="middle">-60</text>
<text x="88.5" y="498.8" font-size="13.3" text-anchor="middle">-40</text>
<text x="112.2" y="498.8" font-size="13.3" text-anchor="middle">-20</text>
<text x="135.8" y="498.8" font-size="13.3" text-anchor="middle">0</text>
<text x="159.4" y="498.8" font-size="13.3" text-anchor="middle">20</text>
<text x="183.1" y="498.8" font-size="13.3" text-anchor="middle">40</text>
<text x="206.7" y="498.8" font-size="13.3" text-anchor="middle">60</text>
<text x="230.4" y="498.8" font-size="13.3" text-anchor="middle">80</text>
<text x="32.3" y="374.4" font-size="13.3" text-anchor="end">40</text>
<text x="32.3" y="397.3" font-size="13.3" text-anchor="end">20</text>
<text x="32.3" y="420.2" font-size="13.3" text-anchor="end">0</text>
<text x="32.3" y="443.1" font-size="13.3" text-anchor="end">-20</text>
<text x="32.3" y="466.0" font-size="13.3" text-anchor="end">-40</text>
<text x="32.3" y="350.9" font-size="13.3" text-anchor="end">60</text>
<text x="32.3" y="488.9" font-size="13.3" text-anchor="end">-60</text>
<text x="136.0" y="510.3" font-size="13.3" text-anchor="middle">x (mm)</text>
<text transform="translate(12.0 407.9) rotate(-90)" font-size="13.3" text-anchor="middle">y (mm)</text>
<text x="235.0" y="361.0" font-size="10.8" text-anchor="end" textLength="34.0" lengthAdjust="spacingAndGlyphs">7.8 ms</text>
<clipPath id="c7"><path d="M285.0 353.6L473.7 353.6L473.7 467.0L447.2 479.3L285.0 479.3Z"/></clipPath>
<g clip-path="url(#c7)">
<path d="M369.5 349.5C369.9 350.1 370.4 352.2 371.5 353.3C372.7 354.4 375.3 355.0 376.5 356.1C377.8 357.3 378.7 358.2 379.0 360.3C379.3 362.4 378.8 365.6 378.5 368.6C378.2 371.7 377.5 375.0 377.4 378.6C377.2 382.2 377.4 386.4 377.8 390.3C378.3 394.2 379.1 398.3 379.8 401.9C380.6 405.5 381.3 409.1 382.3 411.9C383.4 414.8 385.5 416.8 386.3 419.0C387.1 421.1 387.7 423.2 387.1 424.8C386.6 426.4 384.8 427.7 383.0 428.6C381.2 429.5 378.8 429.8 376.3 430.3C373.9 430.8 371.2 430.9 368.2 431.5C365.2 432.1 361.0 433.0 358.2 434.0C355.4 434.9 352.9 435.9 351.6 437.3C350.2 438.7 349.9 440.5 349.9 442.3C349.9 444.1 350.4 446.4 351.6 448.1C352.7 449.8 354.3 451.1 356.5 452.3C358.8 453.5 362.1 454.7 364.9 455.3C367.6 455.8 370.4 456.0 373.2 455.6C376.0 455.2 379.3 455.2 381.5 453.1C383.7 451.0 384.4 445.5 386.3 443.1C388.2 440.8 390.5 439.9 393.0 439.0C395.5 438.0 398.2 437.3 401.3 437.3C404.3 437.3 408.0 438.3 411.3 439.0C414.6 439.6 417.9 440.6 421.3 441.5C424.6 442.3 427.9 443.0 431.3 443.9C434.6 444.9 438.2 445.7 441.2 447.3C444.3 448.8 447.1 450.9 449.6 453.1C452.1 455.3 454.3 458.2 456.2 460.6C458.2 462.9 459.8 465.6 461.2 467.2C462.6 468.9 463.6 469.5 464.5 470.6C465.5 471.7 466.6 473.4 467.0 473.9L470.0 500.0L250.0 500.0L250.0 330.0L369.0 330.0Z" fill="#c5e1b5"/>
<path d="M413.8 349.5C413.4 350.2 412.9 352.5 411.3 353.7C409.6 354.8 405.7 355.0 403.8 356.1C401.9 357.3 400.6 358.5 399.6 360.3C398.7 362.1 398.1 364.5 398.0 367.0C397.8 369.5 398.1 372.5 398.8 375.3C399.5 378.1 401.2 380.8 402.1 383.6C403.1 386.4 403.5 389.7 404.6 391.9C405.7 394.2 406.8 395.3 408.8 396.9C410.7 398.6 413.6 400.3 416.3 401.9C418.9 403.6 421.8 405.4 424.6 406.9C427.4 408.4 430.1 410.0 432.9 411.1C435.7 412.2 438.5 413.2 441.2 413.6C444.0 413.9 446.8 413.8 449.6 413.2C452.3 412.7 455.1 411.6 457.9 410.2C460.7 408.9 463.6 407.1 466.2 405.2C468.8 403.4 471.8 400.9 473.7 399.4C475.6 397.9 477.2 396.6 477.9 396.1L500.0 396.0L500.0 330.0L414.0 330.0Z" fill="#e9b9ba"/>
<path d="M280.8 368.1C281.5 368.1 282.9 368.0 285.0 367.8C287.1 367.6 290.2 367.3 293.3 367.0C296.3 366.6 300.5 366.2 303.3 365.6C306.1 365.1 308.3 364.7 309.9 363.6C311.6 362.6 312.4 360.9 313.3 359.5C314.1 358.1 314.5 356.3 314.9 355.3C315.3 354.3 315.5 354.3 315.8 353.3C316.0 352.3 316.5 350.1 316.6 349.5L317.0 330.0L250.0 330.0L250.0 368.0Z" fill="#ffffff"/>
<path d="M280.8 402.8C281.5 403.3 283.4 404.8 285.0 406.1C286.5 407.3 288.0 408.6 290.0 410.2C291.9 411.9 294.3 413.8 296.6 416.1C299.0 418.4 302.2 421.5 304.1 424.0C306.0 426.4 307.2 428.4 307.9 430.6C308.7 432.9 308.8 435.1 308.6 437.3C308.4 439.5 307.2 441.7 306.6 443.9C306.0 446.2 305.2 448.4 304.9 450.6C304.7 452.8 305.5 455.3 304.9 457.3C304.4 459.2 303.3 461.0 301.6 462.3C300.0 463.5 297.7 464.1 295.0 464.8C292.2 465.4 287.3 465.7 285.0 465.9C282.6 466.2 281.5 466.2 280.8 466.3L250.0 466.0L250.0 403.0Z" fill="#ffffff"/>
<path d="M442.1 349.5C441.9 350.1 442.8 352.2 441.2 353.3C439.7 354.4 436.0 355.1 432.9 356.1C429.9 357.2 426.0 358.4 422.9 359.5C419.9 360.6 416.5 361.7 414.6 362.8C412.7 363.9 412.0 364.9 411.6 366.1C411.2 367.4 411.3 369.0 412.1 370.3C412.9 371.5 414.5 372.8 416.3 373.6C418.1 374.5 420.6 375.2 422.9 375.3C425.3 375.4 428.2 375.2 430.4 374.5C432.6 373.8 434.6 372.5 436.2 371.1C437.9 369.7 439.3 367.8 440.4 366.1C441.5 364.5 442.4 362.7 442.9 361.1C443.5 359.6 443.5 358.3 443.7 357.0C444.0 355.7 444.1 354.6 444.2 353.3C444.4 352.1 444.5 350.1 444.6 349.5Z" fill="#d78286"/>
<path d="M338.2 480.9C339.1 480.6 341.0 479.7 343.2 479.2C345.4 478.8 348.5 478.5 351.6 478.1C354.6 477.7 358.2 477.3 361.5 476.9C364.9 476.5 368.2 476.3 371.5 475.9C374.9 475.5 378.8 475.2 381.5 474.7C384.3 474.3 385.5 473.4 388.0 473.1C390.4 472.7 393.8 472.5 396.3 472.6C398.8 472.7 400.9 473.0 403.0 473.6C405.0 474.1 407.0 475.1 408.8 475.9C410.6 476.7 412.5 477.7 413.8 478.6C415.1 479.4 416.1 480.5 416.6 480.9L417.0 500.0L338.0 500.0Z" fill="#a2ce8a"/>
</g>
<clipPath id="d7"><path d="M283.4 352.0L475.3 352.0L475.3 467.4L448.0 480.9L283.4 480.9Z"/></clipPath>
<g clip-path="url(#d7)" fill="none">
<path d="M369.5 349.5C369.9 350.1 370.4 352.2 371.5 353.3C372.7 354.4 375.3 355.0 376.5 356.1C377.8 357.3 378.7 358.2 379.0 360.3C379.3 362.4 378.8 365.6 378.5 368.6C378.2 371.7 377.5 375.0 377.4 378.6C377.2 382.2 377.4 386.4 377.8 390.3C378.3 394.2 379.1 398.3 379.8 401.9C380.6 405.5 381.3 409.1 382.3 411.9C383.4 414.8 385.5 416.8 386.3 419.0C387.1 421.1 387.7 423.2 387.1 424.8C386.6 426.4 384.8 427.7 383.0 428.6C381.2 429.5 378.8 429.8 376.3 430.3C373.9 430.8 371.2 430.9 368.2 431.5C365.2 432.1 361.0 433.0 358.2 434.0C355.4 434.9 352.9 435.9 351.6 437.3C350.2 438.7 349.9 440.5 349.9 442.3C349.9 444.1 350.4 446.4 351.6 448.1C352.7 449.8 354.3 451.1 356.5 452.3C358.8 453.5 362.1 454.7 364.9 455.3C367.6 455.8 370.4 456.0 373.2 455.6C376.0 455.2 379.3 455.2 381.5 453.1C383.7 451.0 384.4 445.5 386.3 443.1C388.2 440.8 390.5 439.9 393.0 439.0C395.5 438.0 398.2 437.3 401.3 437.3C404.3 437.3 408.0 438.3 411.3 439.0C414.6 439.6 417.9 440.6 421.3 441.5C424.6 442.3 427.9 443.0 431.3 443.9C434.6 444.9 438.2 445.7 441.2 447.3C444.3 448.8 447.1 450.9 449.6 453.1C452.1 455.3 454.3 458.2 456.2 460.6C458.2 462.9 459.8 465.6 461.2 467.2C462.6 468.9 463.6 469.5 464.5 470.6C465.5 471.7 466.6 473.4 467.0 473.9" stroke="#97979a" stroke-width="4.8" stroke-linejoin="round"/>
<path d="M280.8 368.1C281.5 368.1 282.9 368.0 285.0 367.8C287.1 367.6 290.2 367.3 293.3 367.0C296.3 366.6 300.5 366.2 303.3 365.6C306.1 365.1 308.3 364.7 309.9 363.6C311.6 362.6 312.4 360.9 313.3 359.5C314.1 358.1 314.5 356.3 314.9 355.3C315.3 354.3 315.5 354.3 315.8 353.3C316.0 352.3 316.5 350.1 316.6 349.5" stroke="#97979a" stroke-width="4.8" stroke-linejoin="round"/>
<path d="M280.8 402.8C281.5 403.3 283.4 404.8 285.0 406.1C286.5 407.3 288.0 408.6 290.0 410.2C291.9 411.9 294.3 413.8 296.6 416.1C299.0 418.4 302.2 421.5 304.1 424.0C306.0 426.4 307.2 428.4 307.9 430.6C308.7 432.9 308.8 435.1 308.6 437.3C308.4 439.5 307.2 441.7 306.6 443.9C306.0 446.2 305.2 448.4 304.9 450.6C304.7 452.8 305.5 455.3 304.9 457.3C304.4 459.2 303.3 461.0 301.6 462.3C300.0 463.5 297.7 464.1 295.0 464.8C292.2 465.4 287.3 465.7 285.0 465.9C282.6 466.2 281.5 466.2 280.8 466.3" stroke="#97979a" stroke-width="4.8" stroke-linejoin="round"/>
<path d="M338.2 480.9C339.1 480.6 341.0 479.7 343.2 479.2C345.4 478.8 348.5 478.5 351.6 478.1C354.6 477.7 358.2 477.3 361.5 476.9C364.9 476.5 368.2 476.3 371.5 475.9C374.9 475.5 378.8 475.2 381.5 474.7C384.3 474.3 385.5 473.4 388.0 473.1C390.4 472.7 393.8 472.5 396.3 472.6C398.8 472.7 400.9 473.0 403.0 473.6C405.0 474.1 407.0 475.1 408.8 475.9C410.6 476.7 412.5 477.7 413.8 478.6C415.1 479.4 416.1 480.5 416.6 480.9" stroke="#111" stroke-width="2.4" stroke-dasharray="2.4 2.45"/>
<path d="M413.8 349.5C413.4 350.2 412.9 352.5 411.3 353.7C409.6 354.8 405.7 355.0 403.8 356.1C401.9 357.3 400.6 358.5 399.6 360.3C398.7 362.1 398.1 364.5 398.0 367.0C397.8 369.5 398.1 372.5 398.8 375.3C399.5 378.1 401.2 380.8 402.1 383.6C403.1 386.4 403.5 389.7 404.6 391.9C405.7 394.2 406.8 395.3 408.8 396.9C410.7 398.6 413.6 400.3 416.3 401.9C418.9 403.6 421.8 405.4 424.6 406.9C427.4 408.4 430.1 410.0 432.9 411.1C435.7 412.2 438.5 413.2 441.2 413.6C444.0 413.9 446.8 413.8 449.6 413.2C452.3 412.7 455.1 411.6 457.9 410.2C460.7 408.9 463.6 407.1 466.2 405.2C468.8 403.4 471.8 400.9 473.7 399.4C475.6 397.9 477.2 396.6 477.9 396.1" stroke="#111" stroke-width="1.3"/>
<path d="M442.1 349.5C441.9 350.1 442.8 352.2 441.2 353.3C439.7 354.4 436.0 355.1 432.9 356.1C429.9 357.2 426.0 358.4 422.9 359.5C419.9 360.6 416.5 361.7 414.6 362.8C412.7 363.9 412.0 364.9 411.6 366.1C411.2 367.4 411.3 369.0 412.1 370.3C412.9 371.5 414.5 372.8 416.3 373.6C418.1 374.5 420.6 375.2 422.9 375.3C425.3 375.4 428.2 375.2 430.4 374.5C432.6 373.8 434.6 372.5 436.2 371.1C437.9 369.7 439.3 367.8 440.4 366.1C441.5 364.5 442.4 362.7 442.9 361.1C443.5 359.6 443.5 358.3 443.7 357.0C444.0 355.7 444.1 354.6 444.2 353.3C444.4 352.1 444.5 350.1 444.6 349.5" stroke="#111" stroke-width="1.3"/>
</g>
<rect x="442.8" y="347.6" width="36.0" height="15.9" fill="#fff" fill-opacity="0.62"/>
<g stroke="#4a54b2" stroke-width="1.8" fill="none" stroke-linejoin="miter" stroke-miterlimit="6">
<rect x="284.3" y="352.6" width="1.4" height="1.4" fill="#4a54b2" stroke="none"/>
<rect x="284.3" y="377.9" width="1.4" height="1.4" fill="#4a54b2" stroke="none"/>
<path d="M283.0 401.9L285.8 406.1M286.7 401.5L285.8 406.1L281.2 405.2"/>
<path d="M283.3 431.5L286.6 428.1M282.1 428.2L286.6 428.1L286.7 432.6"/>
<rect x="284.3" y="454.1" width="1.4" height="1.4" fill="#4a54b2" stroke="none"/>
<rect x="284.3" y="479.0" width="1.4" height="1.4" fill="#4a54b2" stroke="none"/>
<rect x="313.4" y="365.4" width="1.4" height="1.4" fill="#4a54b2" stroke="none"/>
<rect x="313.4" y="390.7" width="1.4" height="1.4" fill="#4a54b2" stroke="none"/>
<rect x="313.4" y="415.8" width="1.4" height="1.4" fill="#4a54b2" stroke="none"/>
<rect x="313.4" y="441.2" width="1.4" height="1.4" fill="#4a54b2" stroke="none"/>
<rect x="313.4" y="466.5" width="1.4" height="1.4" fill="#4a54b2" stroke="none"/>
<rect x="340.5" y="352.6" width="1.4" height="1.4" fill="#4a54b2" stroke="none"/>
<rect x="340.5" y="377.9" width="1.4" height="1.4" fill="#4a54b2" stroke="none"/>
<path d="M338.2 403.6L344.6 405.6M342.3 401.2L344.6 405.6L340.2 407.9"/>
<rect x="340.5" y="428.6" width="1.4" height="1.4" fill="#4a54b2" stroke="none"/>
<rect x="340.5" y="454.1" width="1.4" height="1.4" fill="#4a54b2" stroke="none"/>
<rect x="340.5" y="479.0" width="1.4" height="1.4" fill="#4a54b2" stroke="none"/>
<path d="M366.9 368.6L370.2 364.0M365.3 364.8L370.2 364.0L371.0 368.9"/>
<path d="M366.9 393.6L369.0 389.4M364.7 390.8L369.0 389.4L370.4 393.7"/>
<rect x="366.7" y="415.8" width="1.4" height="1.4" fill="#4a54b2" stroke="none"/>
<rect x="366.7" y="441.2" width="1.4" height="1.4" fill="#4a54b2" stroke="none"/>
<rect x="366.7" y="466.5" width="1.4" height="1.4" fill="#4a54b2" stroke="none"/>
<path d="M392.1 352.3L388.3 354.5M392.5 355.6L388.3 354.5L389.4 350.3"/>
<path d="M392.1 377.8L388.8 379.0M392.4 380.7L388.8 379.0L390.5 375.4"/>
<path d="M392.1 403.9L388.8 404.9M392.3 406.8L388.8 404.9L390.7 401.4"/>
<path d="M389.6 426.5L394.3 430.6M394.0 425.6L394.3 430.6L389.3 430.9"/>
<path d="M388.0 453.1L394.6 454.8M392.1 450.5L394.6 454.8L390.3 457.3"/>
<path d="M388.8 479.2L393.8 480.6M391.5 476.5L393.8 480.6L389.7 482.9"/>
<path d="M417.6 364.5L415.9 368.3M419.9 366.8L415.9 368.3L414.4 364.3"/>
<path d="M417.9 389.4L414.9 393.6M419.6 392.8L414.9 393.6L414.1 388.9"/>
<path d="M417.9 415.2L414.6 418.6M419.1 418.5L414.6 418.6L414.5 414.1"/>
<path d="M415.4 438.6L419.9 443.6M420.2 438.6L419.9 443.6L414.9 443.3"/>
<path d="M414.6 464.3L420.4 468.1M419.4 463.2L420.4 468.1L415.5 469.1"/>
<rect x="443.5" y="352.6" width="1.4" height="1.4" fill="#4a54b2" stroke="none"/>
<rect x="443.5" y="377.6" width="1.4" height="1.4" fill="#4a54b2" stroke="none"/>
<path d="M442.9 402.3L447.1 406.1M446.9 401.2L447.1 406.1L442.2 406.3"/>
<rect x="443.5" y="428.3" width="1.4" height="1.4" fill="#4a54b2" stroke="none"/>
<path d="M447.1 451.4L442.1 456.4M447.1 456.4L442.1 456.4L442.1 451.4"/>
<rect x="443.5" y="479.0" width="1.4" height="1.4" fill="#4a54b2" stroke="none"/>
<rect x="473.0" y="365.4" width="1.4" height="1.4" fill="#4a54b2" stroke="none"/>
<rect x="473.0" y="390.7" width="1.4" height="1.4" fill="#4a54b2" stroke="none"/>
<rect x="473.0" y="416.2" width="1.4" height="1.4" fill="#4a54b2" stroke="none"/>
<rect x="473.0" y="441.2" width="1.4" height="1.4" fill="#4a54b2" stroke="none"/>
<rect x="473.0" y="466.5" width="1.4" height="1.4" fill="#4a54b2" stroke="none"/>
</g>
<rect x="279.7" y="347.6" width="199.1" height="137.4" fill="none" stroke="#111" stroke-width="1.5"/>
<path d="M284.0 485.0v-5M284.0 347.6v5M307.7 485.0v-5M307.7 347.6v5M331.3 485.0v-5M331.3 347.6v5M355.0 485.0v-5M355.0 347.6v5M378.6 485.0v-5M378.6 347.6v5M402.2 485.0v-5M402.2 347.6v5M425.9 485.0v-5M425.9 347.6v5M449.5 485.0v-5M449.5 347.6v5M473.2 485.0v-5M473.2 347.6v5M279.7 370.5h5M478.8 370.5h-5M279.7 393.4h5M478.8 393.4h-5M279.7 416.3h5M478.8 416.3h-5M279.7 439.2h5M478.8 439.2h-5M279.7 462.1h5M478.8 462.1h-5" stroke="#111" stroke-width="1.3" fill="none"/>
<text x="283.6" y="498.8" font-size="13.3" text-anchor="middle">-80</text>
<text x="307.3" y="498.8" font-size="13.3" text-anchor="middle">-60</text>
<text x="330.9" y="498.8" font-size="13.3" text-anchor="middle">-40</text>
<text x="354.6" y="498.8" font-size="13.3" text-anchor="middle">-20</text>
<text x="378.2" y="498.8" font-size="13.3" text-anchor="middle">0</text>
<text x="401.8" y="498.8" font-size="13.3" text-anchor="middle">20</text>
<text x="425.5" y="498.8" font-size="13.3" text-anchor="middle">40</text>
<text x="449.1" y="498.8" font-size="13.3" text-anchor="middle">60</text>
<text x="472.8" y="498.8" font-size="13.3" text-anchor="middle">80</text>
<text x="275.8" y="374.4" font-size="13.3" text-anchor="end">40</text>
<text x="275.8" y="397.3" font-size="13.3" text-anchor="end">20</text>
<text x="275.8" y="420.2" font-size="13.3" text-anchor="end">0</text>
<text x="275.8" y="443.1" font-size="13.3" text-anchor="end">-20</text>
<text x="275.8" y="466.0" font-size="13.3" text-anchor="end">-40</text>
<text x="275.8" y="350.9" font-size="13.3" text-anchor="end">60</text>
<text x="275.8" y="488.9" font-size="13.3" text-anchor="end">-60</text>
<text x="378.4" y="510.3" font-size="13.3" text-anchor="middle">x (mm)</text>
<text transform="translate(255.5 407.9) rotate(-90)" font-size="13.3" text-anchor="middle">y (mm)</text>
<text x="477.1" y="361.0" font-size="10.8" text-anchor="end" textLength="34.0" lengthAdjust="spacingAndGlyphs">8.2 ms</text>
<clipPath id="c8"><path d="M527.0 353.4L716.0 353.4L716.0 467.0L689.3 479.2L527.0 479.2Z"/></clipPath>
<g clip-path="url(#c8)">
<path d="M553.6 482.2C553.3 481.7 552.8 479.8 551.9 479.2C551.1 478.7 550.1 479.4 548.6 478.9C547.1 478.4 544.2 477.8 542.8 476.4C541.4 475.0 540.3 472.7 540.3 470.6C540.3 468.5 541.4 466.1 542.8 463.9C544.2 461.7 546.3 459.2 548.6 457.3C551.0 455.3 554.2 453.5 556.9 452.3C559.7 451.0 563.1 450.7 565.3 449.8C567.4 448.9 569.5 448.2 569.9 446.9C570.3 445.7 568.7 444.2 567.8 442.3C566.8 440.4 565.2 438.1 564.4 435.6C563.7 433.1 563.3 430.1 563.3 427.3C563.3 424.5 564.1 421.8 564.4 419.0C564.8 416.2 565.7 412.9 565.3 410.7C564.8 408.4 563.2 407.3 561.9 405.2C560.7 403.2 559.3 400.5 557.8 398.6C556.2 396.6 554.9 394.8 552.8 393.6C550.7 392.4 548.2 392.2 545.3 391.6C542.4 391.0 538.3 390.4 535.3 389.9C532.2 389.4 529.1 388.9 527.0 388.6C524.9 388.3 523.5 388.0 522.8 387.9L500 388L500 360L523.6 359.5C524.2 359.2 525.6 358.5 527.0 357.8C528.4 357.1 530.3 356.0 532.0 355.3C533.6 354.7 535.4 354.3 537.0 354.0C538.5 353.7 539.9 354.0 541.1 353.7C542.4 353.3 543.9 352.3 544.5 352.0L545 330L588 330L587.7 350.3C588.1 350.8 588.7 352.1 590.2 353.3C591.7 354.6 594.4 356.2 596.9 357.8C599.4 359.4 602.4 361.3 605.2 362.8C608.0 364.3 610.1 365.4 613.5 367.0C617.0 368.5 622.5 370.4 626.0 372.0C629.4 373.5 632.2 374.8 634.3 376.1C636.4 377.5 638.0 378.4 638.5 379.9C638.9 381.5 638.0 383.3 636.8 385.3C635.5 387.3 633.3 389.7 631.0 391.9C628.6 394.2 625.4 396.5 622.6 398.6C619.9 400.7 617.1 402.6 614.3 404.4C611.5 406.2 608.1 408.0 606.0 409.4C603.9 410.9 602.6 411.3 601.9 413.2C601.1 415.0 601.5 418.0 601.5 420.6C601.6 423.3 602.3 426.2 602.2 429.0C602.1 431.7 601.8 434.9 601.0 437.3C600.3 439.6 597.0 441.9 597.7 443.1C598.4 444.4 602.6 444.9 605.2 444.8C607.8 444.6 610.8 443.1 613.5 442.3C616.3 441.5 619.2 440.8 621.8 439.8C624.5 438.8 626.4 438.0 629.3 436.5C632.2 434.9 636.0 432.4 639.3 430.6C642.6 428.8 646.2 426.9 649.3 425.6C652.3 424.4 654.8 423.6 657.6 423.1C660.4 422.6 663.1 422.5 665.9 422.6C668.7 422.8 671.2 423.2 674.2 424.0C677.3 424.8 680.9 426.2 684.2 427.3C687.6 428.4 690.9 429.5 694.2 430.6C697.5 431.7 700.9 432.9 704.2 434.0C707.5 435.1 712.0 436.5 714.2 437.3C716.4 438.1 717.0 438.4 717.5 438.6L717.5 443.9C717.2 444.3 716.6 444.9 715.5 445.9C714.4 447.0 712.5 448.6 710.9 450.3C709.2 451.9 707.4 453.9 705.9 455.9C704.3 457.9 702.7 460.2 701.7 462.3C700.7 464.3 700.3 466.4 700.0 468.1C699.8 469.8 700.2 471.3 700.4 472.6C700.5 473.8 700.8 475.1 700.9 475.6L690 500L553 500Z" fill="#c5e1b5"/>
<path d="M605.2 480.9C605.8 480.4 607.1 479.1 608.5 478.1C609.9 477.0 611.6 476.0 613.5 474.7C615.5 473.5 617.3 472.0 620.2 470.6C623.1 469.1 627.5 467.3 631.0 465.9C634.4 464.5 637.6 463.4 640.9 462.3C644.3 461.1 648.3 459.9 650.9 459.3C653.6 458.6 655.0 458.4 656.8 458.6C658.6 458.8 660.4 459.6 661.8 460.6C663.1 461.6 664.6 463.1 665.1 464.8C665.6 466.4 664.9 468.9 664.6 470.6C664.2 472.2 663.5 473.5 662.9 474.7C662.4 476.0 661.7 476.8 661.3 478.1C660.8 479.3 660.3 481.5 660.1 482.2L660.0 500.0L604.0 500.0Z" fill="#a2ce8a"/>
<path d="M640.9 350.3C641.6 350.8 642.9 352.3 644.6 353.3C646.3 354.3 648.5 355.1 650.9 356.1C653.4 357.2 656.5 358.2 659.3 359.5C662.0 360.7 664.8 362.4 667.6 363.6C670.4 364.9 673.4 366.1 675.9 367.0C678.4 367.8 680.3 368.5 682.6 368.6C684.8 368.8 687.1 368.5 689.2 367.8C691.3 367.1 693.4 365.6 695.0 364.5C696.7 363.4 698.0 362.4 699.2 361.1C700.5 359.9 701.7 358.5 702.5 357.0C703.4 355.5 703.9 352.8 704.2 352.0L704.0 330.0L641.0 330.0Z" fill="#e9b9ba"/>
</g>
<clipPath id="d8"><path d="M525.4 351.8L717.6 351.8L717.6 467.4L690.1 480.8L525.4 480.8Z"/></clipPath>
<g clip-path="url(#d8)" fill="none">
<path d="M553.6 482.2C553.3 481.7 552.8 479.8 551.9 479.2C551.1 478.7 550.1 479.4 548.6 478.9C547.1 478.4 544.2 477.8 542.8 476.4C541.4 475.0 540.3 472.7 540.3 470.6C540.3 468.5 541.4 466.1 542.8 463.9C544.2 461.7 546.3 459.2 548.6 457.3C551.0 455.3 554.2 453.5 556.9 452.3C559.7 451.0 563.1 450.7 565.3 449.8C567.4 448.9 569.5 448.2 569.9 446.9C570.3 445.7 568.7 444.2 567.8 442.3C566.8 440.4 565.2 438.1 564.4 435.6C563.7 433.1 563.3 430.1 563.3 427.3C563.3 424.5 564.1 421.8 564.4 419.0C564.8 416.2 565.7 412.9 565.3 410.7C564.8 408.4 563.2 407.3 561.9 405.2C560.7 403.2 559.3 400.5 557.8 398.6C556.2 396.6 554.9 394.8 552.8 393.6C550.7 392.4 548.2 392.2 545.3 391.6C542.4 391.0 538.3 390.4 535.3 389.9C532.2 389.4 529.1 388.9 527.0 388.6C524.9 388.3 523.5 388.0 522.8 387.9" stroke="#97979a" stroke-width="4.8" stroke-linejoin="round"/>
<path d="M523.6 359.5C524.2 359.2 525.6 358.5 527.0 357.8C528.4 357.1 530.3 356.0 532.0 355.3C533.6 354.7 535.4 354.3 537.0 354.0C538.5 353.7 539.9 354.0 541.1 353.7C542.4 353.3 543.9 352.3 544.5 352.0" stroke="#97979a" stroke-width="4.8" stroke-linejoin="round"/>
<path d="M587.7 350.3C588.1 350.8 588.7 352.1 590.2 353.3C591.7 354.6 594.4 356.2 596.9 357.8C599.4 359.4 602.4 361.3 605.2 362.8C608.0 364.3 610.1 365.4 613.5 367.0C617.0 368.5 622.5 370.4 626.0 372.0C629.4 373.5 632.2 374.8 634.3 376.1C636.4 377.5 638.0 378.4 638.5 379.9C638.9 381.5 638.0 383.3 636.8 385.3C635.5 387.3 633.3 389.7 631.0 391.9C628.6 394.2 625.4 396.5 622.6 398.6C619.9 400.7 617.1 402.6 614.3 404.4C611.5 406.2 608.1 408.0 606.0 409.4C603.9 410.9 602.6 411.3 601.9 413.2C601.1 415.0 601.5 418.0 601.5 420.6C601.6 423.3 602.3 426.2 602.2 429.0C602.1 431.7 601.8 434.9 601.0 437.3C600.3 439.6 597.0 441.9 597.7 443.1C598.4 444.4 602.6 444.9 605.2 444.8C607.8 444.6 610.8 443.1 613.5 442.3C616.3 441.5 619.2 440.8 621.8 439.8C624.5 438.8 626.4 438.0 629.3 436.5C632.2 434.9 636.0 432.4 639.3 430.6C642.6 428.8 646.2 426.9 649.3 425.6C652.3 424.4 654.8 423.6 657.6 423.1C660.4 422.6 663.1 422.5 665.9 422.6C668.7 422.8 671.2 423.2 674.2 424.0C677.3 424.8 680.9 426.2 684.2 427.3C687.6 428.4 690.9 429.5 694.2 430.6C697.5 431.7 700.9 432.9 704.2 434.0C707.5 435.1 712.0 436.5 714.2 437.3C716.4 438.1 717.0 438.4 717.5 438.6" stroke="#97979a" stroke-width="4.8" stroke-linejoin="round"/>
<path d="M717.5 443.9C717.2 444.3 716.6 444.9 715.5 445.9C714.4 447.0 712.5 448.6 710.9 450.3C709.2 451.9 707.4 453.9 705.9 455.9C704.3 457.9 702.7 460.2 701.7 462.3C700.7 464.3 700.3 466.4 700.0 468.1C699.8 469.8 700.2 471.3 700.4 472.6C700.5 473.8 700.8 475.1 700.9 475.6" stroke="#97979a" stroke-width="4.8" stroke-linejoin="round"/>
<path d="M605.2 480.9C605.8 480.4 607.1 479.1 608.5 478.1C609.9 477.0 611.6 476.0 613.5 474.7C615.5 473.5 617.3 472.0 620.2 470.6C623.1 469.1 627.5 467.3 631.0 465.9C634.4 464.5 637.6 463.4 640.9 462.3C644.3 461.1 648.3 459.9 650.9 459.3C653.6 458.6 655.0 458.4 656.8 458.6C658.6 458.8 660.4 459.6 661.8 460.6C663.1 461.6 664.6 463.1 665.1 464.8C665.6 466.4 664.9 468.9 664.6 470.6C664.2 472.2 663.5 473.5 662.9 474.7C662.4 476.0 661.7 476.8 661.3 478.1C660.8 479.3 660.3 481.5 660.1 482.2" stroke="#111" stroke-width="2.4" stroke-dasharray="2.4 2.45"/>
<path d="M640.9 350.3C641.6 350.8 642.9 352.3 644.6 353.3C646.3 354.3 648.5 355.1 650.9 356.1C653.4 357.2 656.5 358.2 659.3 359.5C662.0 360.7 664.8 362.4 667.6 363.6C670.4 364.9 673.4 366.1 675.9 367.0C678.4 367.8 680.3 368.5 682.6 368.6C684.8 368.8 687.1 368.5 689.2 367.8C691.3 367.1 693.4 365.6 695.0 364.5C696.7 363.4 698.5 361.7 699.2 361.1" stroke="#111" stroke-width="1.3"/>
</g>
<rect x="684.9" y="347.6" width="35.3" height="15.9" fill="#fff" fill-opacity="0.62"/>
<g stroke="#4a54b2" stroke-width="1.8" fill="none" stroke-linejoin="miter" stroke-miterlimit="6">
<rect x="526.3" y="352.6" width="1.4" height="1.4" fill="#4a54b2" stroke="none"/>
<path d="M525.0 377.0L528.6 379.5M527.8 375.2L528.6 379.5L524.3 380.3"/>
<rect x="526.3" y="403.3" width="1.4" height="1.4" fill="#4a54b2" stroke="none"/>
<rect x="526.3" y="428.3" width="1.4" height="1.4" fill="#4a54b2" stroke="none"/>
<rect x="526.3" y="453.3" width="1.4" height="1.4" fill="#4a54b2" stroke="none"/>
<rect x="526.3" y="478.6" width="1.4" height="1.4" fill="#4a54b2" stroke="none"/>
<rect x="555.4" y="365.4" width="1.4" height="1.4" fill="#4a54b2" stroke="none"/>
<rect x="555.4" y="390.4" width="1.4" height="1.4" fill="#4a54b2" stroke="none"/>
<rect x="555.4" y="415.8" width="1.4" height="1.4" fill="#4a54b2" stroke="none"/>
<rect x="555.4" y="441.3" width="1.4" height="1.4" fill="#4a54b2" stroke="none"/>
<rect x="555.4" y="466.3" width="1.4" height="1.4" fill="#4a54b2" stroke="none"/>
<rect x="582.5" y="352.6" width="1.4" height="1.4" fill="#4a54b2" stroke="none"/>
<rect x="582.5" y="377.9" width="1.4" height="1.4" fill="#4a54b2" stroke="none"/>
<rect x="582.5" y="403.3" width="1.4" height="1.4" fill="#4a54b2" stroke="none"/>
<rect x="582.5" y="428.3" width="1.4" height="1.4" fill="#4a54b2" stroke="none"/>
<path d="M584.9 451.0L580.6 455.6M585.6 455.4L580.6 455.6L580.4 450.6"/>
<path d="M581.1 476.4L584.9 480.9M585.3 475.9L584.9 480.9L579.9 480.5"/>
<rect x="608.3" y="365.4" width="1.4" height="1.4" fill="#4a54b2" stroke="none"/>
<rect x="608.3" y="390.4" width="1.4" height="1.4" fill="#4a54b2" stroke="none"/>
<rect x="608.3" y="415.8" width="1.4" height="1.4" fill="#4a54b2" stroke="none"/>
<rect x="608.3" y="441.3" width="1.4" height="1.4" fill="#4a54b2" stroke="none"/>
<path d="M606.5 464.8L611.5 468.6M610.8 463.6L611.5 468.6L606.5 469.3"/>
<path d="M631.8 351.2L634.3 356.1M635.8 351.5L634.3 356.1L629.7 354.6"/>
<path d="M631.0 377.0L635.6 379.0M633.9 374.7L635.6 379.0L631.3 380.7"/>
<rect x="631.9" y="403.3" width="1.4" height="1.4" fill="#4a54b2" stroke="none"/>
<rect x="631.9" y="428.3" width="1.4" height="1.4" fill="#4a54b2" stroke="none"/>
<path d="M629.6 452.6L635.1 454.8M633.1 450.2L635.1 454.8L630.5 456.8"/>
<path d="M629.6 478.6L635.1 480.2M632.7 475.8L635.1 480.2L630.7 482.6"/>
<path d="M656.8 364.0L660.6 367.8M660.6 363.0L660.6 367.8L655.8 367.8"/>
<rect x="657.7" y="390.4" width="1.4" height="1.4" fill="#4a54b2" stroke="none"/>
<path d="M655.9 415.2L661.8 416.9M659.4 412.5L661.8 416.9L657.4 419.3"/>
<path d="M655.9 439.8L660.6 443.9M660.3 438.9L660.6 443.9L655.6 444.2"/>
<path d="M655.9 465.6L661.8 467.6M659.6 463.1L661.8 467.6L657.3 469.8"/>
<rect x="684.3" y="352.6" width="1.4" height="1.4" fill="#4a54b2" stroke="none"/>
<rect x="684.4" y="377.9" width="1.4" height="1.4" fill="#4a54b2" stroke="none"/>
<path d="M682.6 402.8L688.4 404.0M685.7 399.8L688.4 404.0L684.2 406.7"/>
<path d="M683.4 427.3L688.4 430.6M687.4 425.7L688.4 430.6L683.5 431.6"/>
<path d="M682.9 452.3L688.4 454.8M686.6 450.1L688.4 454.8L683.7 456.6"/>
<path d="M682.9 478.6L687.6 481.4M686.4 476.7L687.6 481.4L682.9 482.6"/>
<rect x="714.3" y="365.4" width="1.4" height="1.4" fill="#4a54b2" stroke="none"/>
<rect x="714.3" y="390.4" width="1.4" height="1.4" fill="#4a54b2" stroke="none"/>
<path d="M712.2 415.3L718.3 416.5M715.5 412.3L718.3 416.5L714.1 419.3"/>
<rect x="714.3" y="440.8" width="1.4" height="1.4" fill="#4a54b2" stroke="none"/>
<rect x="714.3" y="466.3" width="1.4" height="1.4" fill="#4a54b2" stroke="none"/>
</g>
<text x="679.0" y="358.4" font-size="13" font-weight="bold" text-anchor="middle" stroke-linejoin="round" paint-order="stroke" style="fill:#fff;stroke:#6e6e6e;stroke-width:2.3px">F</text>
<text x="679.0" y="377.5" font-size="13" font-weight="bold" text-anchor="middle" stroke-linejoin="round" paint-order="stroke" style="fill:#fff;stroke:#6e6e6e;stroke-width:2.3px">E</text>
<text x="679.5" y="400.9" font-size="13" font-weight="bold" text-anchor="middle" stroke-linejoin="round" paint-order="stroke" style="fill:#fff;stroke:#6e6e6e;stroke-width:2.3px">D</text>
<text x="679.4" y="426.1" font-size="13" font-weight="bold" text-anchor="middle" stroke-linejoin="round" paint-order="stroke" style="fill:#fff;stroke:#6e6e6e;stroke-width:2.3px">C</text>
<text x="679.3" y="450.3" font-size="13" font-weight="bold" text-anchor="middle" stroke-linejoin="round" paint-order="stroke" style="fill:#fff;stroke:#6e6e6e;stroke-width:2.3px">B</text>
<text x="679.3" y="476.5" font-size="13" font-weight="bold" text-anchor="middle" stroke-linejoin="round" paint-order="stroke" style="fill:#fff;stroke:#6e6e6e;stroke-width:2.3px">A</text>
<rect x="520.8" y="347.6" width="199.4" height="137.4" fill="none" stroke="#111" stroke-width="1.5"/>
<path d="M526.1 485.0v-5M526.1 347.6v5M549.8 485.0v-5M549.8 347.6v5M573.4 485.0v-5M573.4 347.6v5M597.1 485.0v-5M597.1 347.6v5M620.7 485.0v-5M620.7 347.6v5M644.3 485.0v-5M644.3 347.6v5M668.0 485.0v-5M668.0 347.6v5M691.6 485.0v-5M691.6 347.6v5M715.3 485.0v-5M715.3 347.6v5M520.8 370.5h5M720.2 370.5h-5M520.8 393.4h5M720.2 393.4h-5M520.8 416.3h5M720.2 416.3h-5M520.8 439.2h5M720.2 439.2h-5M520.8 462.1h5M720.2 462.1h-5" stroke="#111" stroke-width="1.3" fill="none"/>
<text x="525.7" y="498.8" font-size="13.3" text-anchor="middle">-80</text>
<text x="549.4" y="498.8" font-size="13.3" text-anchor="middle">-60</text>
<text x="573.0" y="498.8" font-size="13.3" text-anchor="middle">-40</text>
<text x="596.7" y="498.8" font-size="13.3" text-anchor="middle">-20</text>
<text x="620.3" y="498.8" font-size="13.3" text-anchor="middle">0</text>
<text x="643.9" y="498.8" font-size="13.3" text-anchor="middle">20</text>
<text x="667.6" y="498.8" font-size="13.3" text-anchor="middle">40</text>
<text x="691.2" y="498.8" font-size="13.3" text-anchor="middle">60</text>
<text x="714.9" y="498.8" font-size="13.3" text-anchor="middle">80</text>
<text x="516.9" y="374.4" font-size="13.3" text-anchor="end">40</text>
<text x="516.9" y="397.3" font-size="13.3" text-anchor="end">20</text>
<text x="516.9" y="420.2" font-size="13.3" text-anchor="end">0</text>
<text x="516.9" y="443.1" font-size="13.3" text-anchor="end">-20</text>
<text x="516.9" y="466.0" font-size="13.3" text-anchor="end">-40</text>
<text x="516.9" y="350.9" font-size="13.3" text-anchor="end">60</text>
<text x="516.9" y="488.9" font-size="13.3" text-anchor="end">-60</text>
<text x="620.5" y="510.3" font-size="13.3" text-anchor="middle">x (mm)</text>
<text transform="translate(496.6 407.9) rotate(-90)" font-size="13.3" text-anchor="middle">y (mm)</text>
<text x="718.5" y="361.0" font-size="10.8" text-anchor="end" textLength="34.0" lengthAdjust="spacingAndGlyphs">8.6 ms</text>
</svg>
</body></html>
